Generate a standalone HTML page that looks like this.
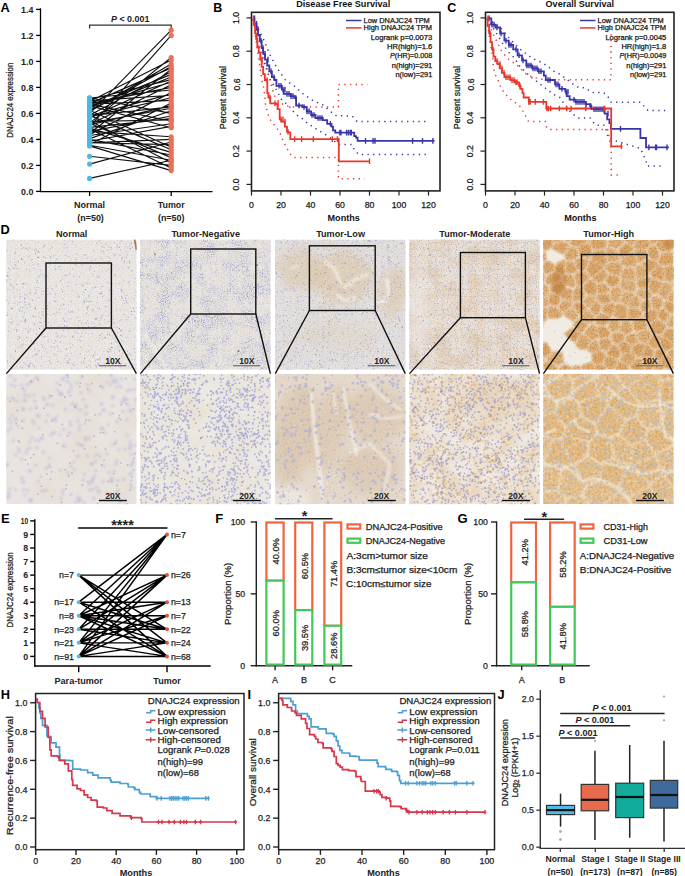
<!DOCTYPE html>
<html><head><meta charset="utf-8"><style>
html,body{margin:0;padding:0;background:#fff;width:685px;height:876px;overflow:hidden}
svg{display:block}
text{font-family:"Liberation Sans",sans-serif}
</style></head><body>
<svg width="685" height="876" viewBox="0 0 685 876">
<defs><filter id="bl3" x="-5%" y="-5%" width="110%" height="110%"><feGaussianBlur stdDeviation="0.35"/></filter><filter id="bl6" x="-5%" y="-5%" width="110%" height="110%"><feGaussianBlur stdDeviation="0.6"/></filter><filter id="bl10" x="-5%" y="-5%" width="110%" height="110%"><feGaussianBlur stdDeviation="1.0"/></filter><filter id="bl20" x="-20%" y="-20%" width="140%" height="140%"><feGaussianBlur stdDeviation="2.0"/></filter><filter id="bl40" x="-30%" y="-30%" width="160%" height="160%"><feGaussianBlur stdDeviation="4.0"/></filter><filter id="gTan" x="0" y="0" width="1" height="1" color-interpolation-filters="sRGB"><feTurbulence type="fractalNoise" baseFrequency="0.85" numOctaves="2" seed="201"/><feColorMatrix type="matrix" values="0 0 0 0 0.784 0 0 0 0 0.627 0 0 0 0 0.471 3.2 0 0 0 -1.760"/></filter><filter id="gLav" x="0" y="0" width="1" height="1" color-interpolation-filters="sRGB"><feTurbulence type="fractalNoise" baseFrequency="0.85" numOctaves="2" seed="202"/><feColorMatrix type="matrix" values="0 0 0 0 0.588 0 0 0 0 0.588 0 0 0 0 0.804 3.2 0 0 0 -1.792"/></filter><filter id="gLavL" x="0" y="0" width="1" height="1" color-interpolation-filters="sRGB"><feTurbulence type="fractalNoise" baseFrequency="0.85" numOctaves="2" seed="203"/><feColorMatrix type="matrix" values="0 0 0 0 0.667 0 0 0 0 0.675 0 0 0 0 0.843 2.8 0 0 0 -1.456"/></filter><filter id="gWhite" x="0" y="0" width="1" height="1" color-interpolation-filters="sRGB"><feTurbulence type="fractalNoise" baseFrequency="0.6" numOctaves="2" seed="204"/><feColorMatrix type="matrix" values="0 0 0 0 0.980 0 0 0 0 0.973 0 0 0 0 0.961 2.4 0 0 0 -1.200"/></filter><clipPath id="c00"><rect x="6.1" y="239.5" width="130.6" height="130.2"/></clipPath><clipPath id="c01"><rect x="6.1" y="374.0" width="130.6" height="130.2"/></clipPath><filter id="m0b" x="0" y="0" width="1" height="1" color-interpolation-filters="sRGB"><feTurbulence type="fractalNoise" baseFrequency="0.03" numOctaves="3" seed="12"/><feColorMatrix type="matrix" values="0 0 0 0 0.871 0 0 0 0 0.804 0 0 0 0 0.737 0.7 0 0 0 -0.28"/></filter><clipPath id="c10"><rect x="140.1" y="239.5" width="130.6" height="130.2"/></clipPath><filter id="p1a" x="0" y="0" width="1" height="1" color-interpolation-filters="sRGB"><feTurbulence type="fractalNoise" baseFrequency="0.8" numOctaves="2" seed="301" result="f"/><feColorMatrix in="f" type="matrix" values="0 0 0 0 0.588 0 0 0 0 0.608 0 0 0 0 0.839 3.0 0 0 0 -1.380" result="fa"/><feTurbulence type="fractalNoise" baseFrequency="0.07" numOctaves="2" seed="302" result="m"/><feColorMatrix in="m" type="matrix" values="0 0 0 0 0 0 0 0 0 0 0 0 0 0 0 4.0 0 0 0 -1.600" result="ma"/><feComposite in="fa" in2="ma" operator="in"/></filter><clipPath id="c11"><rect x="140.1" y="374.0" width="130.6" height="130.2"/></clipPath><filter id="m1b" x="0" y="0" width="1" height="1" color-interpolation-filters="sRGB"><feTurbulence type="fractalNoise" baseFrequency="0.04" numOctaves="2" seed="14"/><feColorMatrix type="matrix" values="0 0 0 0 0.902 0 0 0 0 0.863 0 0 0 0 0.784 1.2 0 0 0 -0.4"/></filter><clipPath id="c20"><rect x="275.0" y="239.5" width="130.6" height="130.2"/></clipPath><filter id="p2a" x="0" y="0" width="1" height="1" color-interpolation-filters="sRGB"><feTurbulence type="fractalNoise" baseFrequency="0.8" numOctaves="2" seed="311" result="f"/><feColorMatrix in="f" type="matrix" values="0 0 0 0 0.804 0 0 0 0 0.667 0 0 0 0 0.510 3.0 0 0 0 -1.500" result="fa"/><feTurbulence type="fractalNoise" baseFrequency="0.05" numOctaves="2" seed="312" result="m"/><feColorMatrix in="m" type="matrix" values="0 0 0 0 0 0 0 0 0 0 0 0 0 0 0 3.0 0 0 0 -1.500" result="ma"/><feComposite in="fa" in2="ma" operator="in"/></filter><clipPath id="c21"><rect x="275.0" y="374.0" width="130.6" height="130.2"/></clipPath><filter id="p2b" x="0" y="0" width="1" height="1" color-interpolation-filters="sRGB"><feTurbulence type="fractalNoise" baseFrequency="0.45" numOctaves="2" seed="321" result="f"/><feColorMatrix in="f" type="matrix" values="0 0 0 0 0.784 0 0 0 0 0.647 0 0 0 0 0.510 2.6 0 0 0 -1.300" result="fa"/><feTurbulence type="fractalNoise" baseFrequency="0.04" numOctaves="2" seed="322" result="m"/><feColorMatrix in="m" type="matrix" values="0 0 0 0 0 0 0 0 0 0 0 0 0 0 0 3.0 0 0 0 -1.350" result="ma"/><feComposite in="fa" in2="ma" operator="in"/></filter><clipPath id="c30"><rect x="409.2" y="239.5" width="130.6" height="130.2"/></clipPath><filter id="m3a" x="0" y="0" width="1" height="1" color-interpolation-filters="sRGB"><feTurbulence type="fractalNoise" baseFrequency="0.06" numOctaves="2" seed="17"/><feColorMatrix type="matrix" values="0 0 0 0 0.855 0 0 0 0 0.737 0 0 0 0 0.588 1.2 0 0 0 -0.45"/></filter><filter id="gTan2" x="0" y="0" width="1" height="1" color-interpolation-filters="sRGB"><feTurbulence type="fractalNoise" baseFrequency="0.85" numOctaves="2" seed="205"/><feColorMatrix type="matrix" values="0 0 0 0 0.831 0 0 0 0 0.675 0 0 0 0 0.478 3.2 0 0 0 -1.760"/></filter><clipPath id="c31"><rect x="409.2" y="374.0" width="130.6" height="130.2"/></clipPath><filter id="m3b" x="0" y="0" width="1" height="1" color-interpolation-filters="sRGB"><feTurbulence type="fractalNoise" baseFrequency="0.05" numOctaves="2" seed="18"/><feColorMatrix type="matrix" values="0 0 0 0 0.894 0 0 0 0 0.765 0 0 0 0 0.588 1.0 0 0 0 -0.35"/></filter><filter id="p3b" x="0" y="0" width="1" height="1" color-interpolation-filters="sRGB"><feTurbulence type="fractalNoise" baseFrequency="0.3" numOctaves="2" seed="331" result="f"/><feColorMatrix in="f" type="matrix" values="0 0 0 0 0.855 0 0 0 0 0.675 0 0 0 0 0.439 3.2 0 0 0 -1.600" result="fa"/><feTurbulence type="fractalNoise" baseFrequency="0.04" numOctaves="2" seed="332" result="m"/><feColorMatrix in="m" type="matrix" values="0 0 0 0 0 0 0 0 0 0 0 0 0 0 0 2.2 0 0 0 -0.660" result="ma"/><feComposite in="fa" in2="ma" operator="in"/></filter><clipPath id="c40"><rect x="543.1" y="239.5" width="130.6" height="130.2"/></clipPath><filter id="k40b" x="-5%" y="-5%" width="110%" height="110%"><feGaussianBlur stdDeviation="1.0"/></filter><mask id="k40" maskUnits="userSpaceOnUse" x="543.1" y="239.5" width="130.6" height="130.2"><rect x="543.1" y="239.5" width="130.6" height="130.2" fill="#000"/><g filter="url(#k40b)"><path d="M617.3,234.6L603.0,144.3L601.5,159.2L605.7,236.7L607.8,239.0ZM572.4,307.2L578.4,315.2L578.2,317.2L572.6,320.9L563.8,315.4L563.6,314.0ZM563.8,362.8L558.3,365.8L546.5,359.7L546.9,359.2L552.6,351.8L559.7,351.2L562.5,352.9ZM612.6,317.5L607.8,325.5L611.8,332.6L619.0,330.2L620.4,321.5L612.8,317.7ZM588.8,324.1L593.6,322.8L594.1,316.6L588.2,309.8L588.0,309.7L579.9,315.3L579.6,317.4ZM545.0,275.4L544.2,281.7L539.0,283.0L526.0,275.1L539.4,267.3L540.1,267.8ZM541.9,340.9L540.4,329.3L501.6,333.3L539.8,342.7ZM607.8,247.1L605.6,249.7L607.9,262.3L619.4,260.9L619.8,259.2L616.8,250.8ZM623.1,290.3L634.6,292.0L636.2,288.2L635.1,281.4L621.2,280.2L619.5,285.1ZM651.2,371.6L662.7,374.8L664.8,372.8L665.3,369.7L658.6,361.7L656.8,361.7ZM671.2,282.8L679.2,276.2L721.6,280.9L682.7,292.9L673.6,288.5ZM577.3,365.3L572.4,366.8L572.4,374.2L582.6,382.2L586.2,376.2L580.1,366.0ZM544.0,322.5L542.9,326.0L540.6,328.6L501.5,333.1L465.1,331.6L534.5,314.9ZM623.2,291.6L634.7,292.9L634.7,293.6L627.0,305.0L620.1,302.3ZM650.7,372.5L662.4,376.1L655.0,405.3L649.0,373.2ZM666.9,322.9L670.5,315.5L676.6,314.0L679.7,321.5L676.4,328.1L667.8,327.1ZM623.9,267.7L633.8,268.0L635.5,279.4L635.3,280.6L621.5,279.5L620.5,276.9ZM676.5,344.3L679.0,331.8L709.6,337.7L679.1,345.5ZM669.3,237.9L673.6,249.4L686.1,245.1L679.3,236.3L670.6,236.3ZM622.0,291.1L618.9,301.7L615.8,303.2L613.1,301.6L609.5,293.4L611.4,288.5L618.6,286.1ZM624.3,242.6L617.3,249.1L608.1,246.1L608.4,240.2L617.3,236.6L621.4,238.0ZM664.7,299.8L665.9,299.5L672.2,288.9L670.2,283.2L664.4,282.2L663.6,282.3L657.5,294.5ZM546.0,251.9L541.0,249.5L531.6,256.5L539.6,265.9L540.3,265.8L546.2,259.6ZM653.0,295.1L647.5,289.4L638.1,289.2L636.0,292.7L635.9,293.3L641.5,299.3L649.7,298.6ZM645.7,343.7L639.1,341.4L636.5,332.9L647.9,328.9L651.6,334.4L646.4,343.2ZM547.6,295.3L537.6,296.9L534.9,291.2L539.6,284.6L544.7,283.4L547.9,286.8L548.9,292.2ZM683.2,293.5L678.7,304.0L680.9,308.4L770.4,315.1L1146.8,319.1L3599.1,286.2L858.0,269.3L722.9,280.9ZM595.5,296.5L586.9,295.5L582.5,301.5L588.2,308.3L588.4,308.1L595.6,299.8ZM550.2,233.1L561.6,232.7L563.9,240.4L553.8,243.0ZM649.2,275.0L649.4,273.1L640.8,264.9L638.9,264.6L635.0,267.7L636.6,279.4ZM547.6,296.4L537.7,297.9L536.2,302.3L538.6,307.1L547.1,306.4L548.4,305.5ZM564.7,382.4L502.0,5781.1L583.0,384.4L571.9,375.0ZM592.8,205.2L581.1,233.5L575.8,233.4L567.6,221.4L595.5,-477.6L605.2,67.7L602.7,142.3L601.2,157.4Z" fill="rgb(216,216,216)" stroke="none"/><path d="M657.4,260.9L659.6,252.8L654.5,245.0L652.6,245.4L647.8,249.8L648.8,257.7ZM565.6,273.1L566.8,260.9L573.3,262.4L577.7,270.4L573.7,273.8ZM654.7,349.2L659.7,347.1L660.6,336.0L660.3,336.3L652.7,334.8L647.4,343.7ZM638.9,308.7L628.2,307.4L628.2,318.5L631.2,320.0L642.1,316.5L642.3,313.6ZM606.4,246.0L604.5,248.7L593.7,249.6L588.8,242.6L594.7,237.4L604.9,238.4L606.8,240.4ZM649.3,328.1L652.7,333.6L660.8,335.0L666.4,327.6L664.9,323.6L657.6,319.6L648.9,324.6ZM652.5,243.6L642.7,235.3L652.3,221.1L659.2,237.8L654.5,243.6ZM547.1,260.4L540.9,266.9L546.1,274.4L554.2,270.8L554.0,263.9ZM652.7,277.4L650.9,275.3L650.7,273.4L658.5,264.8L663.3,267.3L663.9,280.9L662.7,280.7ZM586.6,242.2L577.1,247.2L569.6,244.6L569.1,243.3L575.9,235.2L580.8,234.6ZM647.2,258.1L646.6,250.3L634.9,250.3L634.8,251.3L638.6,263.1L640.7,262.7ZM556.1,372.8L548.4,377.0L542.5,365.6L546.1,360.4L557.8,367.0ZM538.1,283.7L524.4,275.3L255.7,284.0L532.8,291.3ZM551.5,248.7L554.1,244.0L564.2,241.7L567.6,243.8L568.4,245.0L563.8,254.8ZM614.2,370.8L615.4,373.0L623.3,375.3L628.7,368.7L628.8,366.4L619.1,361.0ZM603.4,363.1L607.0,356.1L618.1,360.3L618.2,360.7L613.2,369.8L608.6,369.4ZM655.2,244.3L660.3,238.5L668.0,238.3L672.4,249.5L671.9,251.1L661.2,252.1ZM572.2,300.5L572.3,289.1L566.4,288.1L560.6,294.9L562.2,298.5ZM601.3,312.9L595.8,317.0L595.1,322.9L597.8,325.1L606.1,325.2L611.8,316.9ZM667.7,352.4L674.7,345.5L675.9,345.3L678.2,346.5L680.3,355.7L675.5,361.7L674.7,361.7L667.6,354.0ZM665.0,280.4L670.5,281.8L677.7,275.3L673.2,265.1L664.2,267.2ZM625.4,242.3L632.5,244.9L638.1,236.0L630.7,228.3L623.1,237.5ZM582.5,332.6L588.1,325.2L579.1,318.3L573.6,322.5L573.8,326.8L581.2,332.9ZM601.7,349.6L605.4,351.6L612.2,343.9L609.4,338.1L599.1,339.5L598.8,339.9ZM546.7,275.9L545.6,282.2L549.3,285.3L560.6,280.4L561.2,276.0L554.9,272.2ZM601.3,305.5L596.4,300.4L589.4,308.9L595.3,315.9L600.5,311.7ZM549.3,231.9L547.7,230.2L591.9,-1433.5L595.4,-477.5L567.4,221.6L562.2,231.5ZM619.6,303.5L626.6,306.1L627.0,307.5L626.9,318.5L621.5,320.2L613.5,316.1L616.2,304.2ZM557.7,307.8L549.6,306.4L548.4,307.4L549.1,318.6L558.2,318.4L562.3,315.2L562.2,313.8ZM555.6,263.8L555.7,271.1L562.2,274.5L564.6,272.9L565.8,261.3L564.2,259.5ZM653.8,294.1L648.8,288.5L651.9,278.6L662.7,282.2L656.4,293.9ZM659.1,263.8L664.0,266.1L672.6,263.9L674.4,261.4L672.0,252.3L661.2,253.7L658.3,261.5ZM597.4,282.8L591.7,278.1L604.0,268.3L606.9,273.9L604.3,281.6ZM574.5,261.6L578.5,270.2L585.6,270.3L589.2,259.8L589.1,259.8L579.5,257.7ZM681.4,321.5L677.7,328.9L678.8,330.9L711.4,337.5L1146.3,320.0L770.0,315.7ZM624.4,340.1L617.5,344.4L613.6,343.1L611.0,337.4L612.1,333.9L619.1,331.8L624.9,336.2ZM634.6,330.9L631.8,321.3L642.6,317.4L647.5,324.5L647.4,328.0L636.0,331.7ZM650.3,308.4L643.6,312.4L640.0,307.8L641.8,300.9L649.9,299.7ZM631.5,346.0L625.8,340.0L626.4,336.3L633.4,332.8L635.0,333.1L637.9,341.7Z" fill="rgb(242,242,242)" stroke="none"/><path d="M640.8,359.0L644.5,371.2L638.4,374.5L630.5,368.2L630.1,366.1L637.3,358.8L640.5,358.8ZM603.7,267.6L591.0,277.4L590.8,277.3L586.8,271.1L590.3,259.9L603.8,266.6ZM647.8,287.9L637.9,287.8L636.6,281.1L637.4,280.2L649.5,275.9L651.2,278.2ZM574.7,342.8L563.7,333.9L572.7,327.4L580.7,334.0ZM625.3,243.6L632.4,246.1L633.3,249.7L633.1,250.5L620.9,259.2L618.4,250.0ZM682.0,356.5L747.3,366.4L684.1,371.0L676.5,362.7ZM604.1,265.9L590.7,259.2L590.6,259.2L593.7,251.0L604.3,250.0L607.1,262.5ZM544.9,359.9L545.1,359.5L537.9,353.4L500.6,358.9L532.2,367.4L540.9,364.8ZM722.2,279.9L855.7,269.2L734.5,256.5L676.0,261.6L674.7,264.5L679.2,275.4ZM560.8,299.1L558.8,295.7L550.3,293.2L548.6,296.2L549.7,305.0L557.6,306.0ZM588.1,243.1L587.3,242.9L577.9,247.8L579.8,256.3L589.7,258.6L592.3,250.2ZM592.2,361.1L595.3,364.3L602.4,362.6L605.7,355.4L605.0,352.9L601.1,351.3L591.7,354.3ZM663.7,307.5L670.3,313.8L676.2,312.5L678.9,308.2L677.0,304.5L666.6,301.0L665.3,301.3ZM550.5,248.2L552.7,243.6L549.0,233.2L547.5,232.0L541.9,235.5L540.1,244.0L541.5,248.0L546.5,250.6ZM654.5,357.3L656.8,360.4L658.5,360.6L666.1,354.2L666.0,352.6L660.0,348.4L655.1,350.7ZM563.1,232.6L567.4,223.0L574.7,234.1L568.3,242.4L565.1,239.9ZM631.6,398.2L623.9,376.2L629.8,369.2L638.0,375.6ZM618.2,284.4L619.8,280.0L619.2,277.5L608.1,273.9L605.8,282.1L611.2,287.3ZM645.3,344.6L638.3,343.0L632.0,347.0L631.9,351.0L637.3,357.1L640.6,357.2ZM658.0,264.1L650.1,272.8L641.2,263.9L648.7,259.4L657.1,261.8ZM596.2,294.2L595.5,295.3L586.7,294.0L582.8,286.7L590.5,278.8L590.7,279.1L596.4,284.0ZM612.5,303.0L602.6,305.5L602.4,312.0L612.1,316.0L612.3,316.1L615.3,304.2ZM661.3,336.1L674.2,344.7L666.6,351.6L660.6,347.4ZM734.0,256.0L675.8,260.9L673.4,251.7L674.2,250.2L687.2,246.1ZM630.9,346.8L630.6,350.7L621.8,353.9L618.1,345.3L625.1,340.9ZM550.6,292.2L549.6,286.5L561.3,281.3L565.6,287.0L559.2,294.0ZM653.0,358.7L655.8,361.4L650.3,371.3L648.6,371.7L645.6,370.9L642.1,358.9ZM574.0,302.6L581.0,302.5L587.3,308.8L579.3,314.6L573.5,306.2ZM677.7,313.3L681.2,321.2L768.4,315.1L680.9,308.7ZM661.9,335.5L674.5,344.1L675.8,344.1L677.6,331.3L676.4,329.3L667.6,328.4L661.8,335.5ZM650.8,309.5L644.4,313.8L643.6,316.6L648.5,323.7L657.1,318.6L657.3,311.3ZM618.3,359.1L620.5,354.1L617.0,346.1L613.1,344.6L606.6,352.5L607.0,354.9ZM593.6,206.6L594.0,235.9L605.5,236.8L601.4,159.1ZM622.1,236.5L630.5,226.8L605.6,67.7L603.1,143.8L617.5,234.6ZM543.1,342.2L546.7,343.0L551.4,351.0L545.7,358.3L538.9,352.1L540.6,343.5ZM597.9,326.3L598.7,338.4L609.5,336.6L610.5,333.3L606.4,326.8ZM594.4,373.4L600.2,376.7L607.3,370.2L602.5,363.7L595.5,365.3ZM658.3,311.4L658.4,318.3L665.6,322.5L669.2,314.7L663.0,308.4ZM628.5,835.9L631.1,756.2L631.6,400.1L623.4,376.9L615.0,374.5L607.0,401.5ZM653.0,357.4L641.6,357.7L641.7,357.2L645.9,345.0L646.6,344.5L653.8,350.3ZM666.4,369.2L674.1,362.6L666.7,354.7L659.0,361.2ZM608.0,293.8L597.4,295.4L596.6,296.4L597.2,299.4L602.0,304.1L612.0,301.8Z" fill="rgb(255,255,255)" stroke="none"/><path d="M579.5,349.3L575.9,346.1L576.0,343.7L581.4,334.5L582.9,334.1L590.9,340.5L586.4,349.7ZM619.6,360.2L629.2,365.7L636.3,357.8L630.8,351.6L622.3,355.1L619.4,359.8ZM609.8,287.9L604.6,283.2L597.3,284.0L597.3,294.5L608.2,292.7ZM633.0,331.1L630.1,321.6L627.2,320.0L622.0,321.7L619.9,330.4L625.7,335.3ZM576.5,286.0L574.8,275.0L578.6,271.6L585.5,271.8L589.8,278.1L581.7,285.4ZM547.6,307.5L538.6,308.4L535.8,314.5L544.4,321.7L547.5,318.4ZM607.0,400.0L614.4,373.8L612.9,372.0L608.2,371.4L600.8,377.9ZM565.1,258.2L566.9,259.9L573.1,260.4L578.4,256.8L576.5,248.4L569.2,246.1L564.7,255.4ZM604.9,267.4L608.3,272.8L619.4,276.3L622.6,266.9L619.6,261.9L608.2,263.5L605.0,266.4ZM651.7,307.9L651.0,299.4L654.0,295.8L656.7,296.1L663.5,300.9L662.1,306.8L657.7,310.4ZM666.5,373.2L676.9,379.3L682.8,371.3L675.4,363.6L674.6,363.3L667.0,369.8ZM673.2,289.9L666.5,300.0L677.7,303.3L681.5,293.9ZM592.7,207.0L582.1,233.9L587.5,241.6L588.4,241.4L593.2,236.0ZM634.8,249.3L633.7,245.5L639.3,236.3L642.0,235.8L651.6,244.3L646.9,249.3ZM624.0,266.2L633.7,266.9L637.5,263.5L633.8,251.2L621.6,259.9L620.7,261.5ZM571.4,366.8L571.0,374.0L564.7,380.6L557.3,373.2L559.5,367.4L564.6,364.1ZM660.0,236.9L668.4,236.5L669.9,235.1L706.6,-314.7L652.5,219.7ZM648.5,373.6L654.8,406.9L631.1,755.8L631.8,400.0L638.5,376.1L645.0,372.7ZM583.9,333.4L589.4,325.9L594.0,324.0L596.7,326.7L597.8,338.2L597.5,338.8L591.6,339.9ZM534.3,302.4L-144.6,333.0L332.7,339.6L463.1,331.6L533.9,314.5L537.2,307.7ZM539.4,343.0L537.3,352.3L498.8,358.3L332.8,340.0L464.8,332.3L500.2,333.6ZM581.1,365.6L587.0,376.1L593.3,373.2L594.5,365.2L591.3,362.0ZM573.7,301.6L581.2,300.8L585.2,294.4L581.5,287.1L576.4,287.1L573.8,289.2L573.3,300.6ZM572.7,302.4L571.9,306.0L563.3,313.1L558.7,306.8L562.2,299.7L572.4,301.5ZM541.9,366.0L532.4,368.6L541.7,391.7L547.5,377.9ZM591.4,353.4L600.8,350.3L597.3,340.3L591.8,341.3L587.7,349.9ZM575.6,286.0L573.3,275.5L565.4,274.6L563.0,276.3L562.7,280.7L566.7,285.8L572.5,287.4ZM638.7,307.4L628.7,306.4L627.5,305.6L635.2,294.4L640.3,300.4ZM536.5,297.5L532.9,291.4L254.5,284.0L-2555.9,316.8L-145.5,332.2L534.0,302.3Z" fill="rgb(229,229,229)" stroke="none"/></g></mask><filter id="g40" x="0" y="0" width="1" height="1" color-interpolation-filters="sRGB"><feTurbulence type="fractalNoise" baseFrequency="0.6" numOctaves="2" seed="143"/><feColorMatrix type="matrix" values="0 0 0 0 0.784 0 0 0 0 0.529 0 0 0 0 0.235 3.0 0 0 0 -1.350"/></filter><clipPath id="c41"><rect x="543.1" y="374.0" width="130.6" height="130.2"/></clipPath><filter id="k41b" x="-5%" y="-5%" width="110%" height="110%"><feGaussianBlur stdDeviation="1.3"/></filter><mask id="k41" maskUnits="userSpaceOnUse" x="543.1" y="374.0" width="130.6" height="130.2"><rect x="543.1" y="374.0" width="130.6" height="130.2" fill="#000"/><g filter="url(#k41b)"><path d="M649.2,487.2L628.5,498.2L630.4,503.1L645.9,512.3L655.5,508.6L657.5,502.8ZM574.6,535.6L574.0,637.6L544.6,517.1L562.3,512.3ZM756.3,420.0L943.3,438.2L3653.3,422.1L1102.7,377.6L684.4,380.8L685.3,399.9ZM646.9,371.8L655.9,374.2L660.6,380.4L658.0,399.1L640.7,404.0L628.6,387.6ZM539.0,418.1L533.2,414.9L515.6,428.9L530.1,438.9L541.6,434.1ZM680.2,449.7L674.8,445.0L674.4,439.9L685.0,425.1L755.1,421.1L941.1,438.3L829.9,449.1ZM648.9,486.2L628.2,496.9L619.5,490.7L619.1,487.8L628.5,467.2L631.0,465.6L632.3,466.3L649.2,484.0ZM754.7,419.9L685.1,400.6L672.4,408.0L684.7,424.5ZM678.7,496.7L679.5,497.2L679.5,515.2L668.0,522.1L657.2,509.0L659.4,503.1ZM667.7,408.6L671.3,408.6L683.5,424.8L673.2,438.8L660.3,426.9ZM572.0,379.8L571.9,397.6L557.4,402.4L546.1,389.2L545.7,386.4L551.3,380.4L570.0,378.5ZM685.3,360.1L1100.5,377.5L684.0,380.7L682.2,379.1ZM600.6,464.9L587.4,456.4L574.8,465.3L586.3,485.7L599.4,478.9ZM635.9,351.0L654.8,219.3L618.8,-7409.5L584.5,296.3L612.8,366.3ZM650.0,486.4L659.0,501.7L678.7,495.7L678.2,493.4L663.4,476.4L662.7,476.1L651.2,484.5ZM544.9,385.6L528.1,376.7L531.7,364.5L542.9,360.5L546.9,363.0L550.3,379.4ZM645.0,440.6L654.9,453.9L654.4,456.2L632.8,464.7L631.4,464.5L633.3,445.5Z" fill="rgb(237,237,237)" stroke="none"/><path d="M679.1,466.7L692.1,475.4L829.6,449.3L680.4,450.1ZM600.1,480.3L587.0,486.7L583.5,495.3L592.1,506.5L598.6,508.2L618.0,491.2L617.3,488.6ZM632.3,445.3L630.6,464.3L627.8,465.0L613.8,457.8L611.0,438.1L618.8,435.4ZM539.8,416.6L533.9,413.8L530.3,404.0L545.0,390.1L556.2,403.8L554.0,411.2ZM565.6,498.4L557.3,491.6L540.1,492.3L536.0,502.5L538.8,512.7L544.6,515.7L561.4,511.1ZM582.0,494.7L585.0,485.9L573.5,465.9L571.1,465.2L562.7,470.0L558.6,490.4L566.5,497.6ZM545.5,464.2L534.4,481.2L540.0,490.8L557.3,490.3L561.0,469.7ZM570.2,377.7L565.1,356.3L548.7,362.6L551.1,379.3ZM598.9,394.2L593.9,374.8L612.2,368.9L623.8,387.0L607.1,399.5ZM662.8,474.8L655.8,456.6L656.6,454.2L673.4,445.9L678.7,450.5L677.3,466.3L663.5,474.7ZM542.3,435.2L530.9,440.5L528.6,452.8L544.1,460.1L551.6,440.4ZM624.9,386.1L627.6,387.0L646.1,371.1L635.7,352.3L613.6,367.5L613.3,368.0ZM647.8,428.7L658.9,426.5L666.7,407.7L658.3,400.7L640.9,405.1L636.4,416.7ZM627.0,498.8L619.0,492.1L599.1,508.9L616.0,530.1L628.6,503.3ZM543.9,389.3L529.1,402.6L499.2,389.8L527.6,377.5L544.3,386.5ZM528.3,403.8L532.2,414.3L513.4,429.0L-18846.3,357.1L497.9,389.8ZM590.6,507.6L575.0,534.1L562.9,511.5L567.1,499.1L582.1,496.2Z" fill="rgb(219,219,219)" stroke="none"/><path d="M612.4,458.0L609.8,438.3L597.9,434.8L590.2,442.1L588.4,455.1L601.0,463.5ZM650.1,483.0L633.5,465.6L654.9,457.1L661.9,475.1ZM540.3,418.1L543.2,434.3L552.5,439.4L560.5,437.6L563.3,434.8L564.4,427.2L554.6,412.0ZM581.4,417.0L566.3,427.2L564.5,435.1L589.0,440.9L596.5,433.4L594.4,424.4ZM648.3,430.4L659.4,428.2L672.5,439.9L672.7,444.6L656.2,453.1L646.0,439.5ZM625.6,420.6L607.7,406.6L596.0,424.2L598.6,433.1L610.4,436.4L617.7,433.6ZM626.2,605.9L646.0,514.5L656.2,510.1L667.6,523.4L627.7,732.0ZM646.7,429.9L635.5,417.6L627.1,420.7L619.3,434.2L632.8,444.5L644.6,439.0ZM647.0,369.9L656.2,372.9L672.3,345.8L654.8,221.0L636.3,351.3ZM608.0,400.8L608.3,405.5L626.6,419.2L634.8,415.9L639.5,404.6L627.4,388.6L624.8,388.1ZM612.0,367.2L612.1,366.7L584.7,298.2L579.5,331.5L591.9,372.9L593.4,373.4ZM552.6,440.7L545.3,460.2L545.9,463.1L561.6,468.2L570.3,464.1L560.8,439.2ZM597.6,394.8L578.9,401.9L573.6,397.5L573.6,380.0L591.3,374.6L592.8,375.0ZM627.3,466.3L617.9,487.7L600.7,479.3L601.6,464.9L612.9,459.1ZM543.5,460.9L544.4,463.6L533.3,480.8L498.0,470.6L528.2,454.3ZM597.8,396.1L579.7,402.9L581.9,415.4L595.1,423.1L607.0,405.7L606.6,401.0ZM564.7,436.3L588.4,442.2L586.3,455.2L573.6,464.1L571.3,463.4L561.9,439.1ZM664.6,475.7L678.3,467.5L690.4,476.0L679.0,492.8ZM572.9,378.4L591.0,373.2L578.8,331.5L566.5,356.2L571.0,377.0ZM532.7,481.4L538.7,491.6L534.0,502.5L-16114.5,1552.4L496.1,470.8ZM661.9,381.1L659.1,399.8L667.7,406.4L671.4,407.0L683.2,399.3L682.8,381.3L681.2,379.6ZM625.3,607.3L615.7,532.3L598.6,509.9L591.6,508.1L575.3,536.2L574.8,638.7L609.1,1123.2L627.3,731.4ZM683.9,360.4L681.0,378.6L661.7,379.4L656.8,373.5L673.2,347.7ZM577.7,403.3L572.4,399.3L558.3,404.2L555.3,411.3L565.5,426.1L580.3,415.3ZM625.8,605.8L616.5,531.5L629.2,503.9L645.7,513.8Z" fill="rgb(255,255,255)" stroke="none"/></g></mask><filter id="g41" x="0" y="0" width="1" height="1" color-interpolation-filters="sRGB"><feTurbulence type="fractalNoise" baseFrequency="0.45" numOctaves="2" seed="153"/><feColorMatrix type="matrix" values="0 0 0 0 0.824 0 0 0 0 0.596 0 0 0 0 0.275 3.0 0 0 0 -1.350"/></filter><filter id="g41w" x="0" y="0" width="1" height="1" color-interpolation-filters="sRGB"><feTurbulence type="fractalNoise" baseFrequency="0.3" numOctaves="2" seed="154"/><feColorMatrix type="matrix" values="0 0 0 0 0.961 0 0 0 0 0.933 0 0 0 0 0.882 3.0 0 0 0 -1.650"/></filter></defs>
<text x="0.40" y="11.80" font-size="12.8" text-anchor="start" font-weight="bold" fill="#000">A</text>
<line x1="40.50" y1="8.30" x2="40.50" y2="192.00" stroke="#000" stroke-width="1.3"/>
<line x1="36.10" y1="191.40" x2="40.50" y2="191.40" stroke="#000" stroke-width="1.3"/>
<text x="33.40" y="194.70" font-size="8.9" text-anchor="end" font-weight="bold" fill="#222">0.0</text>
<line x1="36.10" y1="165.40" x2="40.50" y2="165.40" stroke="#000" stroke-width="1.3"/>
<text x="33.40" y="168.70" font-size="8.9" text-anchor="end" font-weight="bold" fill="#222">0.2</text>
<line x1="36.10" y1="139.40" x2="40.50" y2="139.40" stroke="#000" stroke-width="1.3"/>
<text x="33.40" y="142.70" font-size="8.9" text-anchor="end" font-weight="bold" fill="#222">0.4</text>
<line x1="36.10" y1="113.40" x2="40.50" y2="113.40" stroke="#000" stroke-width="1.3"/>
<text x="33.40" y="116.70" font-size="8.9" text-anchor="end" font-weight="bold" fill="#222">0.6</text>
<line x1="36.10" y1="87.40" x2="40.50" y2="87.40" stroke="#000" stroke-width="1.3"/>
<text x="33.40" y="90.70" font-size="8.9" text-anchor="end" font-weight="bold" fill="#222">0.8</text>
<line x1="36.10" y1="61.40" x2="40.50" y2="61.40" stroke="#000" stroke-width="1.3"/>
<text x="33.40" y="64.70" font-size="8.9" text-anchor="end" font-weight="bold" fill="#222">1.0</text>
<line x1="36.10" y1="35.40" x2="40.50" y2="35.40" stroke="#000" stroke-width="1.3"/>
<text x="33.40" y="38.70" font-size="8.9" text-anchor="end" font-weight="bold" fill="#222">1.2</text>
<line x1="36.10" y1="9.40" x2="40.50" y2="9.40" stroke="#000" stroke-width="1.3"/>
<text x="33.40" y="12.70" font-size="8.9" text-anchor="end" font-weight="bold" fill="#222">1.4</text>
<line x1="39.90" y1="191.60" x2="212.50" y2="191.60" stroke="#000" stroke-width="1.4"/>
<line x1="89.60" y1="191.40" x2="89.60" y2="196.00" stroke="#000" stroke-width="1.3"/>
<line x1="171.20" y1="191.40" x2="171.20" y2="196.00" stroke="#000" stroke-width="1.3"/>
<text x="89.50" y="208.00" font-size="9.0" text-anchor="middle" font-weight="bold" fill="#222" textLength="31.1" lengthAdjust="spacingAndGlyphs">Normal</text>
<text x="171.20" y="208.00" font-size="9.0" text-anchor="middle" font-weight="bold" fill="#222" textLength="27.0" lengthAdjust="spacingAndGlyphs">Tumor</text>
<text x="90.60" y="220.60" font-size="9.0" text-anchor="middle" font-weight="bold" fill="#222" textLength="26.5" lengthAdjust="spacingAndGlyphs">(n=50)</text>
<text x="171.20" y="220.60" font-size="9.0" text-anchor="middle" font-weight="bold" fill="#222" textLength="26.5" lengthAdjust="spacingAndGlyphs">(n=50)</text>
<text x="13.20" y="100.20" font-size="8.3" text-anchor="middle" font-weight="normal" fill="#111" textLength="75.0" lengthAdjust="spacingAndGlyphs" transform="rotate(-90 13.2 100.2)" stroke="#222" stroke-width="0.25">DNAJC24 expression</text>
<polyline points="89.60,28.40 89.60,25.10 171.20,25.10 171.20,28.40" fill="none" stroke="#333" stroke-width="1.3"/>
<text x="130.2" y="22.1" font-size="8.7" text-anchor="middle" font-weight="bold" fill="#222" textLength="38.4" lengthAdjust="spacingAndGlyphs"><tspan font-style="italic">P</tspan> &lt; 0.001</text>
<path d="M89.6,178.40L171.2,160.20M89.6,164.10L171.2,142.00M89.6,156.30L171.2,165.40M89.6,145.90L171.2,170.60M89.6,145.27L171.2,160.20M89.6,144.41L171.2,103.00M89.6,142.82L171.2,139.40M89.6,142.75L171.2,144.60M89.6,141.21L171.2,126.40M89.6,139.36L171.2,155.00M89.6,138.66L171.2,110.80M89.6,135.46L171.2,123.80M89.6,134.63L171.2,92.60M89.6,133.43L171.2,69.20M89.6,131.42L171.2,116.00M89.6,131.41L171.2,136.80M89.6,129.02L171.2,168.00M89.6,128.11L171.2,152.40M89.6,127.34L171.2,118.60M89.6,97.80L171.2,113.40M89.6,124.92L171.2,105.60M89.6,124.51L171.2,84.80M89.6,123.28L171.2,157.60M89.6,123.16L171.2,57.50M89.6,122.99L171.2,108.20M89.6,121.50L171.2,119.90M89.6,120.73L171.2,162.80M89.6,117.47L171.2,80.90M89.6,116.85L171.2,97.80M89.6,115.80L171.2,106.90M89.6,115.76L171.2,93.90M89.6,115.36L171.2,149.80M89.6,115.16L171.2,71.80M89.6,111.55L171.2,66.60M89.6,113.61L171.2,30.20M89.6,111.32L171.2,64.00M89.6,110.25L171.2,147.20M89.6,109.43L171.2,77.00M89.6,107.38L171.2,74.40M89.6,105.67L171.2,127.70M89.6,105.62L171.2,82.20M89.6,104.27L171.2,100.40M89.6,104.15L171.2,121.20M89.6,103.63L171.2,87.40M89.6,103.63L171.2,67.90M89.6,101.60L171.2,60.10M89.6,100.90L171.2,95.20M89.6,99.46L171.2,79.60M89.6,98.01L171.2,90.00M89.6,126.90L171.2,35.40" stroke="#111" stroke-width="1.15" fill="none"/>
<circle cx="89.6" cy="178.40" r="2.6" fill="#4db8e0"/>
<circle cx="171.2" cy="160.20" r="2.6" fill="#ea7155"/>
<circle cx="89.6" cy="164.10" r="2.6" fill="#4db8e0"/>
<circle cx="171.2" cy="142.00" r="2.6" fill="#ea7155"/>
<circle cx="89.6" cy="156.30" r="2.6" fill="#4db8e0"/>
<circle cx="171.2" cy="165.40" r="2.6" fill="#ea7155"/>
<circle cx="89.6" cy="145.90" r="2.6" fill="#4db8e0"/>
<circle cx="171.2" cy="170.60" r="2.6" fill="#ea7155"/>
<circle cx="89.6" cy="145.27" r="2.6" fill="#4db8e0"/>
<circle cx="171.2" cy="160.20" r="2.6" fill="#ea7155"/>
<circle cx="89.6" cy="144.41" r="2.6" fill="#4db8e0"/>
<circle cx="171.2" cy="103.00" r="2.6" fill="#ea7155"/>
<circle cx="89.6" cy="142.82" r="2.6" fill="#4db8e0"/>
<circle cx="171.2" cy="139.40" r="2.6" fill="#ea7155"/>
<circle cx="89.6" cy="142.75" r="2.6" fill="#4db8e0"/>
<circle cx="171.2" cy="144.60" r="2.6" fill="#ea7155"/>
<circle cx="89.6" cy="141.21" r="2.6" fill="#4db8e0"/>
<circle cx="171.2" cy="126.40" r="2.6" fill="#ea7155"/>
<circle cx="89.6" cy="139.36" r="2.6" fill="#4db8e0"/>
<circle cx="171.2" cy="155.00" r="2.6" fill="#ea7155"/>
<circle cx="89.6" cy="138.66" r="2.6" fill="#4db8e0"/>
<circle cx="171.2" cy="110.80" r="2.6" fill="#ea7155"/>
<circle cx="89.6" cy="135.46" r="2.6" fill="#4db8e0"/>
<circle cx="171.2" cy="123.80" r="2.6" fill="#ea7155"/>
<circle cx="89.6" cy="134.63" r="2.6" fill="#4db8e0"/>
<circle cx="171.2" cy="92.60" r="2.6" fill="#ea7155"/>
<circle cx="89.6" cy="133.43" r="2.6" fill="#4db8e0"/>
<circle cx="171.2" cy="69.20" r="2.6" fill="#ea7155"/>
<circle cx="89.6" cy="131.42" r="2.6" fill="#4db8e0"/>
<circle cx="171.2" cy="116.00" r="2.6" fill="#ea7155"/>
<circle cx="89.6" cy="131.41" r="2.6" fill="#4db8e0"/>
<circle cx="171.2" cy="136.80" r="2.6" fill="#ea7155"/>
<circle cx="89.6" cy="129.02" r="2.6" fill="#4db8e0"/>
<circle cx="171.2" cy="168.00" r="2.6" fill="#ea7155"/>
<circle cx="89.6" cy="128.11" r="2.6" fill="#4db8e0"/>
<circle cx="171.2" cy="152.40" r="2.6" fill="#ea7155"/>
<circle cx="89.6" cy="127.34" r="2.6" fill="#4db8e0"/>
<circle cx="171.2" cy="118.60" r="2.6" fill="#ea7155"/>
<circle cx="89.6" cy="97.80" r="2.6" fill="#4db8e0"/>
<circle cx="171.2" cy="113.40" r="2.6" fill="#ea7155"/>
<circle cx="89.6" cy="124.92" r="2.6" fill="#4db8e0"/>
<circle cx="171.2" cy="105.60" r="2.6" fill="#ea7155"/>
<circle cx="89.6" cy="124.51" r="2.6" fill="#4db8e0"/>
<circle cx="171.2" cy="84.80" r="2.6" fill="#ea7155"/>
<circle cx="89.6" cy="123.28" r="2.6" fill="#4db8e0"/>
<circle cx="171.2" cy="157.60" r="2.6" fill="#ea7155"/>
<circle cx="89.6" cy="123.16" r="2.6" fill="#4db8e0"/>
<circle cx="171.2" cy="57.50" r="2.6" fill="#ea7155"/>
<circle cx="89.6" cy="122.99" r="2.6" fill="#4db8e0"/>
<circle cx="171.2" cy="108.20" r="2.6" fill="#ea7155"/>
<circle cx="89.6" cy="121.50" r="2.6" fill="#4db8e0"/>
<circle cx="171.2" cy="119.90" r="2.6" fill="#ea7155"/>
<circle cx="89.6" cy="120.73" r="2.6" fill="#4db8e0"/>
<circle cx="171.2" cy="162.80" r="2.6" fill="#ea7155"/>
<circle cx="89.6" cy="117.47" r="2.6" fill="#4db8e0"/>
<circle cx="171.2" cy="80.90" r="2.6" fill="#ea7155"/>
<circle cx="89.6" cy="116.85" r="2.6" fill="#4db8e0"/>
<circle cx="171.2" cy="97.80" r="2.6" fill="#ea7155"/>
<circle cx="89.6" cy="115.80" r="2.6" fill="#4db8e0"/>
<circle cx="171.2" cy="106.90" r="2.6" fill="#ea7155"/>
<circle cx="89.6" cy="115.76" r="2.6" fill="#4db8e0"/>
<circle cx="171.2" cy="93.90" r="2.6" fill="#ea7155"/>
<circle cx="89.6" cy="115.36" r="2.6" fill="#4db8e0"/>
<circle cx="171.2" cy="149.80" r="2.6" fill="#ea7155"/>
<circle cx="89.6" cy="115.16" r="2.6" fill="#4db8e0"/>
<circle cx="171.2" cy="71.80" r="2.6" fill="#ea7155"/>
<circle cx="89.6" cy="111.55" r="2.6" fill="#4db8e0"/>
<circle cx="171.2" cy="66.60" r="2.6" fill="#ea7155"/>
<circle cx="89.6" cy="113.61" r="2.6" fill="#4db8e0"/>
<circle cx="171.2" cy="30.20" r="2.6" fill="#ea7155"/>
<circle cx="89.6" cy="111.32" r="2.6" fill="#4db8e0"/>
<circle cx="171.2" cy="64.00" r="2.6" fill="#ea7155"/>
<circle cx="89.6" cy="110.25" r="2.6" fill="#4db8e0"/>
<circle cx="171.2" cy="147.20" r="2.6" fill="#ea7155"/>
<circle cx="89.6" cy="109.43" r="2.6" fill="#4db8e0"/>
<circle cx="171.2" cy="77.00" r="2.6" fill="#ea7155"/>
<circle cx="89.6" cy="107.38" r="2.6" fill="#4db8e0"/>
<circle cx="171.2" cy="74.40" r="2.6" fill="#ea7155"/>
<circle cx="89.6" cy="105.67" r="2.6" fill="#4db8e0"/>
<circle cx="171.2" cy="127.70" r="2.6" fill="#ea7155"/>
<circle cx="89.6" cy="105.62" r="2.6" fill="#4db8e0"/>
<circle cx="171.2" cy="82.20" r="2.6" fill="#ea7155"/>
<circle cx="89.6" cy="104.27" r="2.6" fill="#4db8e0"/>
<circle cx="171.2" cy="100.40" r="2.6" fill="#ea7155"/>
<circle cx="89.6" cy="104.15" r="2.6" fill="#4db8e0"/>
<circle cx="171.2" cy="121.20" r="2.6" fill="#ea7155"/>
<circle cx="89.6" cy="103.63" r="2.6" fill="#4db8e0"/>
<circle cx="171.2" cy="87.40" r="2.6" fill="#ea7155"/>
<circle cx="89.6" cy="103.63" r="2.6" fill="#4db8e0"/>
<circle cx="171.2" cy="67.90" r="2.6" fill="#ea7155"/>
<circle cx="89.6" cy="101.60" r="2.6" fill="#4db8e0"/>
<circle cx="171.2" cy="60.10" r="2.6" fill="#ea7155"/>
<circle cx="89.6" cy="100.90" r="2.6" fill="#4db8e0"/>
<circle cx="171.2" cy="95.20" r="2.6" fill="#ea7155"/>
<circle cx="89.6" cy="99.46" r="2.6" fill="#4db8e0"/>
<circle cx="171.2" cy="79.60" r="2.6" fill="#ea7155"/>
<circle cx="89.6" cy="98.01" r="2.6" fill="#4db8e0"/>
<circle cx="171.2" cy="90.00" r="2.6" fill="#ea7155"/>
<circle cx="89.6" cy="126.90" r="2.6" fill="#4db8e0"/>
<circle cx="171.2" cy="35.40" r="2.6" fill="#ea7155"/>
<text x="213.20" y="12.20" font-size="12.5" text-anchor="start" font-weight="bold" fill="#000">B</text>
<text x="343.20" y="6.90" font-size="9.1" text-anchor="middle" font-weight="bold" fill="#111" textLength="94.0" lengthAdjust="spacingAndGlyphs">Disease Free Survival</text>
<rect x="251.50" y="12.3" width="188.50" height="178.60" fill="none" stroke="#222" stroke-width="1.6"/>
<line x1="246.50" y1="184.40" x2="251.50" y2="184.40" stroke="#222" stroke-width="1.2"/>
<text x="239.50" y="184.40" font-size="8.7" text-anchor="middle" font-weight="normal" fill="#111" transform="rotate(-90 239.5 184.4)" stroke="#222" stroke-width="0.25">0.0</text>
<line x1="246.50" y1="151.10" x2="251.50" y2="151.10" stroke="#222" stroke-width="1.2"/>
<text x="239.50" y="151.10" font-size="8.7" text-anchor="middle" font-weight="normal" fill="#111" transform="rotate(-90 239.5 151.10000000000002)" stroke="#222" stroke-width="0.25">0.2</text>
<line x1="246.50" y1="117.80" x2="251.50" y2="117.80" stroke="#222" stroke-width="1.2"/>
<text x="239.50" y="117.80" font-size="8.7" text-anchor="middle" font-weight="normal" fill="#111" transform="rotate(-90 239.5 117.80000000000001)" stroke="#222" stroke-width="0.25">0.4</text>
<line x1="246.50" y1="84.50" x2="251.50" y2="84.50" stroke="#222" stroke-width="1.2"/>
<text x="239.50" y="84.50" font-size="8.7" text-anchor="middle" font-weight="normal" fill="#111" transform="rotate(-90 239.5 84.50000000000001)" stroke="#222" stroke-width="0.25">0.6</text>
<line x1="246.50" y1="51.20" x2="251.50" y2="51.20" stroke="#222" stroke-width="1.2"/>
<text x="239.50" y="51.20" font-size="8.7" text-anchor="middle" font-weight="normal" fill="#111" transform="rotate(-90 239.5 51.20000000000002)" stroke="#222" stroke-width="0.25">0.8</text>
<line x1="246.50" y1="17.90" x2="251.50" y2="17.90" stroke="#222" stroke-width="1.2"/>
<text x="239.50" y="17.90" font-size="8.7" text-anchor="middle" font-weight="normal" fill="#111" transform="rotate(-90 239.5 17.900000000000006)" stroke="#222" stroke-width="0.25">1.0</text>
<line x1="251.50" y1="190.90" x2="251.50" y2="195.60" stroke="#222" stroke-width="1.2"/>
<text x="251.50" y="207.50" font-size="8.7" text-anchor="middle" font-weight="normal" fill="#111" stroke="#222" stroke-width="0.25">0</text>
<line x1="281.00" y1="190.90" x2="281.00" y2="195.60" stroke="#222" stroke-width="1.2"/>
<text x="281.00" y="207.50" font-size="8.7" text-anchor="middle" font-weight="normal" fill="#111" stroke="#222" stroke-width="0.25">20</text>
<line x1="310.50" y1="190.90" x2="310.50" y2="195.60" stroke="#222" stroke-width="1.2"/>
<text x="310.50" y="207.50" font-size="8.7" text-anchor="middle" font-weight="normal" fill="#111" stroke="#222" stroke-width="0.25">40</text>
<line x1="340.00" y1="190.90" x2="340.00" y2="195.60" stroke="#222" stroke-width="1.2"/>
<text x="340.00" y="207.50" font-size="8.7" text-anchor="middle" font-weight="normal" fill="#111" stroke="#222" stroke-width="0.25">60</text>
<line x1="369.50" y1="190.90" x2="369.50" y2="195.60" stroke="#222" stroke-width="1.2"/>
<text x="369.50" y="207.50" font-size="8.7" text-anchor="middle" font-weight="normal" fill="#111" stroke="#222" stroke-width="0.25">80</text>
<line x1="399.00" y1="190.90" x2="399.00" y2="195.60" stroke="#222" stroke-width="1.2"/>
<text x="399.00" y="207.50" font-size="8.7" text-anchor="middle" font-weight="normal" fill="#111" stroke="#222" stroke-width="0.25">100</text>
<line x1="428.50" y1="190.90" x2="428.50" y2="195.60" stroke="#222" stroke-width="1.2"/>
<text x="428.50" y="207.50" font-size="8.7" text-anchor="middle" font-weight="normal" fill="#111" stroke="#222" stroke-width="0.25">120</text>
<text x="343.70" y="221.20" font-size="9.1" text-anchor="middle" font-weight="bold" fill="#111">Months</text>
<text x="226.00" y="97.70" font-size="8.9" text-anchor="middle" font-weight="normal" fill="#111" transform="rotate(-90 226.0 97.7)" stroke="#222" stroke-width="0.25">Percent survival</text>
<path d="M252.90,18.80L263.00,38.00L270.00,55.00L277.00,68.00L285.50,80.00L295.00,86.60L303.80,94.60L314.00,101.20L322.80,104.80L328.60,110.00L335.90,115.60L352.30,116.10L355.10,119.00L357.00,121.40L428.20,121.40" fill="none" stroke="#3a35a8" stroke-width="1.5" stroke-dasharray="1.3 4.4"/>
<path d="M252.90,18.80L258.80,46.50L264.60,64.00L270.40,80.10L276.30,89.60L281.20,99.00L289.20,106.30L295.00,113.60L302.30,118.70L308.20,123.80L318.40,130.40L327.20,135.50L334.50,141.30L339.00,144.60L352.30,144.60L354.20,149.70L358.90,154.50L430.00,154.50" fill="none" stroke="#3a35a8" stroke-width="1.5" stroke-dasharray="1.3 4.4"/>
<path d="M252.90,18.80L258.00,35.00L262.00,50.00L266.00,65.00L270.00,80.00L274.00,95.00L280.00,103.00L290.00,107.00L338.40,107.00L338.40,84.40L367.40,84.40" fill="none" stroke="#e8382c" stroke-width="1.5" stroke-dasharray="1.3 4.4"/>
<path d="M252.90,18.80L256.00,40.00L258.80,59.60L261.70,78.60L263.90,88.80L265.80,106.30L268.80,116.50L271.70,122.30L276.10,126.70L280.40,134.00L283.40,141.30L287.00,148.60L290.70,154.50L293.60,157.40L338.40,157.40L338.40,178.70L364.60,178.70" fill="none" stroke="#e8382c" stroke-width="1.5" stroke-dasharray="1.3 4.4"/>
<path d="M252.90,18.40H254.35V23.90H255.80H256.55V29.00H257.30H258.05V34.80H258.80H259.85V40.70H260.90H261.65V48.00H262.40H263.15V53.80H263.90H265.00V59.60H266.10H267.15V65.50H268.20H269.30V71.30H270.40H271.90V77.20H273.40H274.35V80.00H275.30H276.40V85.80H277.50H281.90V89.50H283.70V93.90H285.50H290.70V96.10H295.00V98.20H296.10V105.50H297.20H302.30V107.00H306.70V111.40H311.10V115.00H315.50V118.00H322.80V120.10H327.20V123.80H331.50V126.70H333.00V130.40H334.50H335.20V132.60H335.90H353.40V132.60H354.15V136.20H354.90H356.00V137.70H357.10H357.60V140.90H358.10H434.50V140.90" fill="none" stroke="#3a35a8" stroke-width="1.8"/>
<path d="M252.90,18.40H253.65V24.60H254.40H255.10V33.40H255.80H256.20V39.20H256.60H257.30V46.50H258.00H258.75V52.30H259.50H260.25V59.60H261.00H261.70V66.90H262.40H263.15V74.20H263.90H264.85V80.00H265.80H267.30V93.10H268.40V97.50H269.50H270.25V103.40H271.00H276.10V104.10H277.55V109.20H279.00H279.70V119.40H281.55V121.60H283.40H284.85V126.70H286.30H287.00V131.80H287.70H288.80V132.60H289.90H290.30V139.10H290.70H338.10V139.10H338.80V161.30H369.70V161.30" fill="none" stroke="#e8382c" stroke-width="1.8"/>
<path d="M254.50,15.60V21.20M256.50,21.10V26.70M258.00,26.20V31.80M261.00,37.90V43.50M263.00,45.20V50.80M265.00,51.00V56.60M268.00,56.80V62.40M271.00,68.50V74.10M274.00,74.40V80.00M279.00,83.00V88.60M281.00,83.00V88.60M283.00,86.70V92.30M285.00,86.70V92.30M287.00,91.10V96.70M289.00,91.10V96.70M291.00,93.30V98.90M293.00,93.30V98.90M296.00,95.40V101.00M299.00,102.70V108.30M304.00,104.20V109.80M307.00,108.60V114.20M309.00,108.60V114.20M312.00,112.20V117.80M314.00,112.20V117.80M318.00,115.20V120.80M320.00,115.20V120.80M322.00,115.20V120.80M330.40,121.00V126.60M339.90,129.80V135.40M340.90,129.80V135.40M346.60,129.80V135.40M348.50,129.80V135.40M350.40,129.80V135.40M351.30,129.80V135.40M365.50,138.10V143.70M373.10,138.10V143.70M375.00,138.10V143.70M412.60,138.10V143.70M422.50,138.10V143.70M432.90,138.10V143.70" stroke="#3a35a8" stroke-width="1.4" fill="none"/>
<path d="M253.50,15.60V21.20M255.00,21.80V27.40M257.00,36.40V42.00M262.00,56.80V62.40M267.00,77.20V82.80M270.00,94.70V100.30M275.00,100.60V106.20M278.00,101.30V106.90M281.00,116.60V122.20M283.00,116.60V122.20M285.00,118.80V124.40M288.00,129.00V134.60M294.60,136.30V141.90M301.60,136.30V141.90M313.30,136.30V141.90M332.30,136.30V141.90M337.40,136.30V141.90M369.50,158.50V164.10" stroke="#e8382c" stroke-width="1.4" fill="none"/>
<line x1="346.00" y1="20.50" x2="361.50" y2="20.50" stroke="#3a35a8" stroke-width="1.5"/>
<line x1="346.00" y1="27.90" x2="361.50" y2="27.90" stroke="#e8382c" stroke-width="1.5"/>
<text x="363.60" y="22.90" font-size="7.0" text-anchor="start" font-weight="normal" fill="#111" textLength="66.2" lengthAdjust="spacingAndGlyphs" stroke="#222" stroke-width="0.25">Low DNAJC24 TPM</text>
<text x="363.60" y="30.20" font-size="7.0" text-anchor="start" font-weight="normal" fill="#111" textLength="68.4" lengthAdjust="spacingAndGlyphs" stroke="#222" stroke-width="0.25">High DNAJC24 TPM</text>
<text x="432.30" y="39.70" font-size="7.1" text-anchor="end" font-weight="normal" fill="#111" textLength="61.6" lengthAdjust="spacingAndGlyphs" stroke="#222" stroke-width="0.25">Logrank p=0.0073</text>
<text x="432.30" y="49.20" font-size="7.1" text-anchor="end" font-weight="normal" fill="#111" textLength="45.3" lengthAdjust="spacingAndGlyphs" stroke="#222" stroke-width="0.25">HR(high)=1.6</text>
<text x="432.30" y="58.40" font-size="7.1" text-anchor="end" font-weight="normal" fill="#111" textLength="42.3" lengthAdjust="spacingAndGlyphs" stroke="#222" stroke-width="0.25"><tspan font-style="italic">P</tspan>(HR)=0.008</text>
<text x="432.30" y="67.90" font-size="7.1" text-anchor="end" font-weight="normal" fill="#111" textLength="40.5" lengthAdjust="spacingAndGlyphs" stroke="#222" stroke-width="0.25">n(high)=291</text>
<text x="432.30" y="76.70" font-size="7.1" text-anchor="end" font-weight="normal" fill="#111" textLength="36.8" lengthAdjust="spacingAndGlyphs" stroke="#222" stroke-width="0.25">n(low)=291</text>
<text x="447.20" y="12.20" font-size="12.5" text-anchor="start" font-weight="bold" fill="#000">C</text>
<text x="579.80" y="6.90" font-size="9.1" text-anchor="middle" font-weight="bold" fill="#111" textLength="68.5" lengthAdjust="spacingAndGlyphs">Overall Survival</text>
<rect x="485.50" y="12.3" width="188.50" height="178.60" fill="none" stroke="#222" stroke-width="1.6"/>
<line x1="480.50" y1="184.40" x2="485.50" y2="184.40" stroke="#222" stroke-width="1.2"/>
<text x="473.50" y="184.40" font-size="8.7" text-anchor="middle" font-weight="normal" fill="#111" transform="rotate(-90 473.5 184.4)" stroke="#222" stroke-width="0.25">0.0</text>
<line x1="480.50" y1="151.10" x2="485.50" y2="151.10" stroke="#222" stroke-width="1.2"/>
<text x="473.50" y="151.10" font-size="8.7" text-anchor="middle" font-weight="normal" fill="#111" transform="rotate(-90 473.5 151.10000000000002)" stroke="#222" stroke-width="0.25">0.2</text>
<line x1="480.50" y1="117.80" x2="485.50" y2="117.80" stroke="#222" stroke-width="1.2"/>
<text x="473.50" y="117.80" font-size="8.7" text-anchor="middle" font-weight="normal" fill="#111" transform="rotate(-90 473.5 117.80000000000001)" stroke="#222" stroke-width="0.25">0.4</text>
<line x1="480.50" y1="84.50" x2="485.50" y2="84.50" stroke="#222" stroke-width="1.2"/>
<text x="473.50" y="84.50" font-size="8.7" text-anchor="middle" font-weight="normal" fill="#111" transform="rotate(-90 473.5 84.50000000000001)" stroke="#222" stroke-width="0.25">0.6</text>
<line x1="480.50" y1="51.20" x2="485.50" y2="51.20" stroke="#222" stroke-width="1.2"/>
<text x="473.50" y="51.20" font-size="8.7" text-anchor="middle" font-weight="normal" fill="#111" transform="rotate(-90 473.5 51.20000000000002)" stroke="#222" stroke-width="0.25">0.8</text>
<line x1="480.50" y1="17.90" x2="485.50" y2="17.90" stroke="#222" stroke-width="1.2"/>
<text x="473.50" y="17.90" font-size="8.7" text-anchor="middle" font-weight="normal" fill="#111" transform="rotate(-90 473.5 17.900000000000006)" stroke="#222" stroke-width="0.25">1.0</text>
<line x1="485.50" y1="190.90" x2="485.50" y2="195.60" stroke="#222" stroke-width="1.2"/>
<text x="485.50" y="207.50" font-size="8.7" text-anchor="middle" font-weight="normal" fill="#111" stroke="#222" stroke-width="0.25">0</text>
<line x1="515.00" y1="190.90" x2="515.00" y2="195.60" stroke="#222" stroke-width="1.2"/>
<text x="515.00" y="207.50" font-size="8.7" text-anchor="middle" font-weight="normal" fill="#111" stroke="#222" stroke-width="0.25">20</text>
<line x1="544.50" y1="190.90" x2="544.50" y2="195.60" stroke="#222" stroke-width="1.2"/>
<text x="544.50" y="207.50" font-size="8.7" text-anchor="middle" font-weight="normal" fill="#111" stroke="#222" stroke-width="0.25">40</text>
<line x1="574.00" y1="190.90" x2="574.00" y2="195.60" stroke="#222" stroke-width="1.2"/>
<text x="574.00" y="207.50" font-size="8.7" text-anchor="middle" font-weight="normal" fill="#111" stroke="#222" stroke-width="0.25">60</text>
<line x1="603.50" y1="190.90" x2="603.50" y2="195.60" stroke="#222" stroke-width="1.2"/>
<text x="603.50" y="207.50" font-size="8.7" text-anchor="middle" font-weight="normal" fill="#111" stroke="#222" stroke-width="0.25">80</text>
<line x1="633.00" y1="190.90" x2="633.00" y2="195.60" stroke="#222" stroke-width="1.2"/>
<text x="633.00" y="207.50" font-size="8.7" text-anchor="middle" font-weight="normal" fill="#111" stroke="#222" stroke-width="0.25">100</text>
<line x1="662.50" y1="190.90" x2="662.50" y2="195.60" stroke="#222" stroke-width="1.2"/>
<text x="662.50" y="207.50" font-size="8.7" text-anchor="middle" font-weight="normal" fill="#111" stroke="#222" stroke-width="0.25">120</text>
<text x="580.30" y="221.20" font-size="9.1" text-anchor="middle" font-weight="bold" fill="#111">Months</text>
<text x="460.00" y="97.70" font-size="8.9" text-anchor="middle" font-weight="normal" fill="#111" transform="rotate(-90 460.0 97.7)" stroke="#222" stroke-width="0.25">Percent survival</text>
<path d="M486.90,18.80L494.20,23.10L498.60,26.10L503.00,30.40L507.40,36.30L511.70,40.70L516.10,45.00L522.00,50.90L526.30,53.80L532.20,58.20L538.00,61.10L542.40,62.60L548.20,66.90L554.10,71.30L559.90,74.20L565.80,78.60L571.10,82.90L578.40,87.30L585.70,88.00L591.50,92.40L603.20,92.40L607.60,96.10L611.20,102.30L640.40,102.30L648.00,110.40L667.00,110.40" fill="none" stroke="#3a35a8" stroke-width="1.5" stroke-dasharray="1.3 4.4"/>
<path d="M486.90,18.80L492.80,27.50L495.70,31.90L500.10,39.20L504.40,46.50L508.80,52.30L514.70,58.20L519.00,65.50L523.40,69.90L529.30,75.70L535.10,80.10L542.40,85.90L548.20,90.30L554.10,94.70L559.90,97.60L563.80,103.40L571.10,112.80L578.40,118.00L590.10,118.00L593.00,122.30L595.90,125.30L604.70,125.30L607.60,135.50L609.10,138.90L640.40,148.40L646.10,160.70L647.00,166.00L664.10,166.00" fill="none" stroke="#3a35a8" stroke-width="1.5" stroke-dasharray="1.3 4.4"/>
<path d="M486.90,18.80L492.80,33.40L495.70,39.20L498.60,45.00L501.50,50.90L505.90,56.70L510.30,61.10L516.10,64.00L520.50,68.40L526.30,74.20L532.20,77.20L545.00,79.70L611.00,79.70L611.00,28.50" fill="none" stroke="#e8382c" stroke-width="1.5" stroke-dasharray="1.3 4.4"/>
<path d="M486.90,18.80L489.80,39.20L492.80,58.20L493.50,68.40L495.70,75.70L498.60,81.50L501.50,88.80L505.90,94.70L510.30,99.00L520.00,106.30L524.40,113.60L528.00,120.90L533.10,121.60L545.50,121.60L546.30,126.70L548.50,129.60L607.60,129.60L611.20,148.60L611.20,175.00L620.50,175.00" fill="none" stroke="#e8382c" stroke-width="1.5" stroke-dasharray="1.3 4.4"/>
<path d="M486.90,18.40H491.30V24.60H495.70V27.50H500.10V33.40H504.40V40.70H508.80V45.00H513.20V49.40H517.60V55.30H522.00V60.40H526.30V65.50H532.20V68.40H538.00V71.30H543.90V75.70H545.80V80.00H547.70H555.00V84.40H559.40V88.80H565.30V91.70H566.75V96.10H568.20H569.65V99.70H571.10H575.50V101.90H585.70V104.10H590.10V106.30H591.55V109.20H593.00H603.20V109.90H604.65V113.60H606.10H607.20V119.40H608.30H609.40V123.10H610.50H610.85V128.90H611.20H640.40V128.90H640.40V138.00H646.00V138.00H646.00V147.40H668.90V147.40" fill="none" stroke="#3a35a8" stroke-width="1.8"/>
<path d="M486.90,18.40H487.65V26.10H488.40H489.10V33.40H489.80H490.55V42.10H491.30H492.05V49.40H492.80H493.50V56.70H494.20H495.30V61.10H496.40H497.50V64.00H498.60H499.70V68.40H500.80H501.90V72.80H503.00H504.45V77.20H505.90H510.30V80.10H514.70V82.30H519.00V85.90H520.50V88.80H522.00H522.45V93.10H522.90H523.65V97.50H524.40H528.80V101.90H545.50V101.90H546.25V108.50H547.00H610.50V108.50H611.20V146.40H622.40V146.40" fill="none" stroke="#e8382c" stroke-width="1.8"/>
<path d="M489.00,15.60V21.20M492.00,21.80V27.40M494.00,21.80V27.40M497.00,24.70V30.30M501.00,30.60V36.20M506.00,37.90V43.50M509.00,42.20V47.80M511.00,42.20V47.80M516.00,46.60V52.20M519.00,52.50V58.10M523.00,57.60V63.20M527.00,62.70V68.30M529.00,62.70V68.30M531.00,62.70V68.30M533.00,65.60V71.20M535.00,65.60V71.20M537.00,65.60V71.20M539.00,68.50V74.10M541.00,68.50V74.10M548.00,77.20V82.80M550.00,77.20V82.80M556.00,81.60V87.20M558.00,81.60V87.20M562.00,86.00V91.60M566.00,88.90V94.50M568.00,88.90V94.50M574.00,96.90V102.50M576.00,99.10V104.70M578.00,99.10V104.70M580.00,99.10V104.70M582.00,99.10V104.70M584.00,99.10V104.70M586.00,101.30V106.90M591.00,103.50V109.10M594.00,106.40V112.00M596.00,106.40V112.00M598.00,106.40V112.00M600.00,106.40V112.00M602.00,106.40V112.00M604.00,107.10V112.70M608.00,110.80V116.40M620.50,126.10V131.70M648.90,144.60V150.20M655.60,144.60V150.20M656.50,144.60V150.20M667.00,144.60V150.20" stroke="#3a35a8" stroke-width="1.4" fill="none"/>
<path d="M488.00,15.60V21.20M490.00,30.60V36.20M493.00,46.60V52.20M497.00,58.30V63.90M500.00,61.20V66.80M502.00,65.60V71.20M504.00,70.00V75.60M506.00,74.40V80.00M508.00,74.40V80.00M510.00,74.40V80.00M512.00,77.30V82.90M514.00,77.30V82.90M516.00,79.50V85.10M517.00,79.50V85.10M520.00,83.10V88.70M528.80,99.10V104.70M530.20,99.10V104.70M535.30,99.10V104.70M543.40,99.10V104.70M547.00,105.70V111.30M548.50,105.70V111.30M550.70,105.70V111.30M559.40,105.70V111.30M566.70,105.70V111.30M571.10,105.70V111.30M585.70,105.70V111.30M603.90,105.70V111.30M604.70,105.70V111.30M621.40,143.60V149.20" stroke="#e8382c" stroke-width="1.4" fill="none"/>
<line x1="580.00" y1="20.50" x2="595.50" y2="20.50" stroke="#3a35a8" stroke-width="1.5"/>
<line x1="580.00" y1="27.90" x2="595.50" y2="27.90" stroke="#e8382c" stroke-width="1.5"/>
<text x="597.60" y="22.90" font-size="7.0" text-anchor="start" font-weight="normal" fill="#111" textLength="66.2" lengthAdjust="spacingAndGlyphs" stroke="#222" stroke-width="0.25">Low DNAJC24 TPM</text>
<text x="597.60" y="30.20" font-size="7.0" text-anchor="start" font-weight="normal" fill="#111" textLength="68.4" lengthAdjust="spacingAndGlyphs" stroke="#222" stroke-width="0.25">High DNAJC24 TPM</text>
<text x="666.30" y="39.70" font-size="7.1" text-anchor="end" font-weight="normal" fill="#111" textLength="60.9" lengthAdjust="spacingAndGlyphs" stroke="#222" stroke-width="0.25">Logrank p=0.0045</text>
<text x="666.30" y="49.20" font-size="7.1" text-anchor="end" font-weight="normal" fill="#111" textLength="44.9" lengthAdjust="spacingAndGlyphs" stroke="#222" stroke-width="0.25">HR(high)=1.8</text>
<text x="666.30" y="58.40" font-size="7.1" text-anchor="end" font-weight="normal" fill="#111" textLength="46.8" lengthAdjust="spacingAndGlyphs" stroke="#222" stroke-width="0.25"><tspan font-style="italic">P</tspan>(HR)=0.0049</text>
<text x="666.30" y="67.90" font-size="7.1" text-anchor="end" font-weight="normal" fill="#111" textLength="40.0" lengthAdjust="spacingAndGlyphs" stroke="#222" stroke-width="0.25">n(high)=291</text>
<text x="666.30" y="76.70" font-size="7.1" text-anchor="end" font-weight="normal" fill="#111" textLength="36.4" lengthAdjust="spacingAndGlyphs" stroke="#222" stroke-width="0.25">n(low)=291</text>
<text x="0.60" y="234.00" font-size="12.8" text-anchor="start" font-weight="bold" fill="#000">D</text>
<text x="71.70" y="236.80" font-size="9.1" text-anchor="middle" font-weight="bold" fill="#222">Normal</text>
<text x="205.70" y="236.80" font-size="9.1" text-anchor="middle" font-weight="bold" fill="#222">Tumor-Negative</text>
<text x="340.60" y="236.80" font-size="9.1" text-anchor="middle" font-weight="bold" fill="#222">Tumor-Low</text>
<text x="474.80" y="236.80" font-size="9.1" text-anchor="middle" font-weight="bold" fill="#222">Tumor-Moderate</text>
<text x="608.70" y="236.80" font-size="9.1" text-anchor="middle" font-weight="bold" fill="#222">Tumor-High</text>
<g clip-path="url(#c00)">
<rect x="6.1" y="239.5" width="130.6" height="130.2" fill="#ebe7e2"/>
<rect x="6.1" y="239.5" width="130.6" height="130.2" filter="url(#gTan)" opacity="0.3"/>
<rect x="6.1" y="239.5" width="130.6" height="130.2" filter="url(#gLavL)" opacity="0.35"/>
<rect x="6.1" y="239.5" width="130.6" height="130.2" filter="url(#gWhite)" opacity="0.4"/>
<path d="M82.0 264.9h.01M132.2 359.8h.01M67.1 325.9h.01M34.1 268.4h.01M43.8 329.7h.01M33.8 365.9h.01M15.3 264.7h.01M17.7 339.7h.01M54.0 300.9h.01M48.7 322.5h.01M58.8 266.6h.01M62.3 279.1h.01M20.6 346.7h.01M94.9 326.1h.01M121.3 290.9h.01M55.6 294.6h.01M58.9 326.6h.01M7.0 299.9h.01M76.0 284.5h.01M9.0 331.2h.01M7.3 313.0h.01M26.1 244.0h.01M29.7 248.1h.01M25.8 328.7h.01M101.2 286.7h.01M91.3 301.4h.01M71.2 353.5h.01M46.8 352.8h.01M96.4 328.5h.01M6.9 250.4h.01M10.3 284.5h.01M129.7 353.5h.01M115.6 255.0h.01M98.3 340.3h.01M111.8 342.6h.01M24.4 262.8h.01M109.6 335.6h.01M122.7 297.6h.01M122.3 257.7h.01M131.1 354.7h.01M50.2 248.3h.01M77.7 329.2h.01M51.9 247.0h.01M42.5 346.9h.01M17.9 361.5h.01M38.8 266.1h.01M20.8 367.2h.01M123.8 281.1h.01M18.6 324.6h.01M122.0 241.1h.01M88.8 351.0h.01M66.0 313.6h.01M111.1 270.6h.01M41.8 325.5h.01M78.2 309.2h.01M49.8 361.5h.01M43.7 327.9h.01M122.9 291.7h.01M13.2 268.2h.01M14.8 258.8h.01M21.8 284.1h.01M54.4 297.7h.01M93.0 327.6h.01M95.9 286.9h.01M92.7 311.1h.01M22.8 310.6h.01M47.7 327.5h.01M102.1 270.8h.01M62.9 298.7h.01M44.9 244.8h.01M12.6 368.8h.01M102.7 296.6h.01M93.2 274.5h.01M98.9 363.3h.01M107.1 300.1h.01M134.6 359.6h.01M13.7 293.1h.01M65.1 275.2h.01M86.6 258.2h.01M103.7 351.2h.01M14.1 329.6h.01M40.8 322.6h.01M96.4 366.7h.01M110.3 283.6h.01M101.4 258.6h.01M99.3 293.8h.01M40.7 270.6h.01M34.4 343.2h.01M18.7 269.8h.01M31.2 260.1h.01M101.4 316.0h.01M92.9 356.7h.01M64.7 244.4h.01M30.8 306.8h.01M99.5 359.1h.01M72.9 269.0h.01M83.5 361.2h.01M49.6 360.7h.01M124.1 314.6h.01M68.9 256.3h.01M20.5 244.8h.01M85.9 332.3h.01M135.8 317.9h.01M135.9 292.0h.01M23.6 247.3h.01M43.7 308.6h.01M134.9 278.2h.01M36.8 333.7h.01M56.8 312.2h.01M25.9 350.6h.01M126.2 337.8h.01M128.3 282.8h.01M10.3 279.2h.01M123.4 300.6h.01M32.3 259.2h.01M27.6 296.7h.01M127.0 354.6h.01M105.1 337.9h.01M31.0 340.7h.01M35.4 307.9h.01M10.5 355.7h.01M22.9 316.7h.01M92.6 323.3h.01M95.2 287.6h.01M109.6 361.7h.01M86.7 367.1h.01M117.1 246.7h.01M93.8 251.4h.01M92.5 287.8h.01M117.7 245.3h.01M129.7 245.2h.01M13.5 239.8h.01M22.5 367.9h.01M115.2 358.9h.01M30.4 329.0h.01M110.0 334.1h.01M41.3 365.9h.01M101.2 328.6h.01M43.3 291.2h.01M105.1 306.7h.01M69.8 359.2h.01M61.0 351.3h.01M12.2 308.6h.01M99.2 240.9h.01M97.0 276.7h.01M87.8 320.6h.01M23.9 362.4h.01M37.8 257.3h.01M63.9 247.8h.01M19.3 338.7h.01M18.8 310.0h.01M121.7 298.6h.01M112.5 347.6h.01M27.6 249.5h.01M108.5 352.3h.01M117.5 332.5h.01M72.7 364.2h.01M102.7 338.8h.01M125.2 246.6h.01M102.9 315.6h.01M7.8 272.7h.01M99.6 308.4h.01M79.5 276.9h.01M80.1 353.9h.01M134.1 311.4h.01M101.6 250.9h.01M24.4 312.3h.01M114.0 255.0h.01M25.4 304.6h.01M45.9 257.8h.01M26.8 294.8h.01M109.6 261.8h.01M111.4 249.2h.01M38.9 326.6h.01M7.0 281.4h.01M26.3 269.5h.01M121.9 260.2h.01M100.1 358.0h.01M38.2 351.8h.01M48.0 340.1h.01M82.0 285.1h.01M121.8 330.1h.01M47.8 314.2h.01M44.6 276.7h.01M128.6 366.5h.01M26.7 358.8h.01M99.3 240.9h.01M20.2 296.2h.01M122.0 353.2h.01M38.9 297.5h.01M126.9 266.8h.01M19.8 293.5h.01M95.0 353.1h.01M120.6 241.0h.01M29.0 256.2h.01M83.9 292.3h.01M126.6 319.6h.01M86.4 328.9h.01M32.9 356.0h.01M118.6 346.6h.01M108.3 262.0h.01M13.1 287.0h.01M99.7 265.6h.01M119.6 351.1h.01M97.1 302.5h.01M25.7 344.9h.01M28.7 304.1h.01M105.1 322.2h.01M36.9 354.0h.01M48.0 294.2h.01M63.4 330.8h.01M11.2 322.6h.01M69.8 343.8h.01M53.9 313.9h.01M132.5 247.1h.01M109.5 300.5h.01M45.3 275.3h.01M34.5 349.3h.01M32.6 364.8h.01M73.6 276.6h.01M108.4 315.2h.01M121.6 258.3h.01M96.5 243.1h.01M30.1 293.5h.01M47.0 276.3h.01M80.5 336.7h.01M60.4 305.7h.01M108.2 268.9h.01M136.4 242.6h.01M54.5 346.9h.01M36.8 282.6h.01M28.4 366.4h.01M120.5 250.1h.01M76.4 259.3h.01M8.5 268.3h.01M97.9 308.3h.01M43.6 315.0h.01M16.9 284.1h.01M18.9 346.8h.01M56.1 332.7h.01M49.9 293.6h.01M81.2 273.2h.01M77.6 340.1h.01M15.8 265.4h.01M8.8 303.1h.01M20.5 307.3h.01M27.1 308.0h.01M42.9 337.0h.01M112.6 364.4h.01M66.6 355.3h.01M118.7 283.2h.01M134.1 364.3h.01M26.7 337.4h.01M95.9 319.8h.01M99.0 275.7h.01M115.0 333.5h.01M30.0 365.3h.01M101.9 246.8h.01M10.3 261.5h.01M92.6 333.6h.01M127.7 354.5h.01M32.8 264.8h.01M17.2 290.3h.01M61.4 289.0h.01M113.3 319.3h.01M111.1 351.8h.01M106.0 306.4h.01M59.5 309.3h.01M66.2 326.6h.01M117.4 327.5h.01M39.3 313.0h.01M65.6 255.5h.01M19.9 298.2h.01M129.0 331.0h.01M13.4 358.8h.01M100.8 318.1h.01M6.9 279.9h.01M49.7 302.3h.01M22.1 321.5h.01M86.0 322.9h.01M70.7 312.1h.01M20.9 347.2h.01M119.5 350.3h.01M106.3 271.0h.01M44.5 246.1h.01M108.7 351.4h.01M128.4 317.7h.01M110.5 349.6h.01M21.9 248.4h.01M120.6 365.9h.01M99.6 320.2h.01M57.8 351.3h.01M43.3 246.6h.01M111.1 247.5h.01M99.6 324.1h.01M20.5 296.4h.01M41.7 344.6h.01M107.6 282.4h.01M26.2 284.1h.01M63.5 318.4h.01M129.9 281.3h.01M25.4 321.0h.01M61.7 336.0h.01M92.6 310.7h.01M112.7 265.0h.01M108.3 263.3h.01M68.7 311.9h.01M77.1 254.1h.01M66.1 276.0h.01M42.2 294.4h.01M60.1 266.4h.01M95.6 360.7h.01M129.9 263.0h.01M36.4 292.5h.01M83.8 329.7h.01M83.1 303.7h.01M136.5 364.7h.01M111.1 272.3h.01M106.3 244.2h.01M129.9 330.8h.01M126.9 294.7h.01M99.0 272.1h.01M126.9 262.7h.01M7.3 276.0h.01M92.9 309.5h.01M111.5 328.5h.01M108.0 362.2h.01M14.8 253.3h.01M43.8 256.9h.01M78.2 333.2h.01M29.8 304.1h.01M38.3 241.7h.01M40.7 274.0h.01M95.9 365.7h.01M14.9 303.3h.01M66.7 321.3h.01M25.5 364.0h.01M42.1 314.8h.01M59.4 312.7h.01M121.1 319.9h.01M50.6 363.5h.01M29.1 364.4h.01M94.1 271.4h.01M134.9 352.3h.01M72.5 344.8h.01M18.4 275.3h.01M68.6 362.4h.01M54.4 368.7h.01M81.8 333.0h.01M108.2 256.7h.01M126.1 316.7h.01M22.1 259.2h.01M110.5 312.6h.01M127.2 351.5h.01M77.8 294.0h.01M105.6 366.8h.01M46.1 307.1h.01M21.6 245.2h.01M14.1 288.3h.01M86.7 351.9h.01M104.1 365.0h.01M39.4 350.7h.01M48.0 288.3h.01M77.1 369.2h.01M66.8 247.1h.01M53.9 313.4h.01M95.3 259.5h.01M43.3 261.2h.01M73.1 290.7h.01M47.7 305.7h.01M104.5 319.7h.01M101.9 292.1h.01M127.1 254.7h.01M15.5 252.1h.01M68.9 281.8h.01M32.0 240.5h.01M108.9 247.1h.01M88.5 365.3h.01M39.0 316.2h.01M121.5 296.6h.01M126.2 244.0h.01M80.8 340.8h.01M70.6 347.5h.01M134.3 348.6h.01M68.6 329.5h.01M119.9 320.6h.01M12.2 266.3h.01M85.8 254.5h.01M26.9 366.0h.01M71.7 368.2h.01M115.5 341.4h.01M60.9 270.0h.01M14.8 268.3h.01M71.0 318.8h.01M25.7 299.0h.01M54.2 353.9h.01M45.1 348.6h.01M90.2 361.4h.01M42.6 274.9h.01M69.7 273.4h.01M84.7 363.5h.01M75.6 264.6h.01M13.0 321.5h.01M64.4 240.7h.01M54.2 343.4h.01M87.9 283.1h.01M131.5 367.3h.01M9.6 269.1h.01M85.8 283.8h.01M33.8 344.1h.01M124.1 303.6h.01M132.0 314.5h.01M88.3 306.5h.01M110.0 356.9h.01M71.6 301.7h.01M109.7 349.1h.01M92.0 260.4h.01M22.9 286.9h.01M12.0 285.5h.01M53.4 255.7h.01M24.9 322.5h.01M122.4 268.1h.01M100.5 293.3h.01M7.5 360.9h.01M20.6 302.2h.01M8.3 276.4h.01M52.3 288.9h.01M74.2 365.4h.01M86.1 298.2h.01M114.9 298.8h.01M97.5 297.6h.01M103.7 251.8h.01M28.7 330.3h.01M102.8 286.5h.01M11.5 319.2h.01M19.8 289.9h.01M111.6 343.8h.01M113.4 253.2h.01M101.7 243.4h.01M134.5 336.3h.01M107.1 351.3h.01M113.2 338.7h.01M127.7 248.0h.01M16.5 331.3h.01M21.5 344.0h.01M60.3 337.6h.01M19.9 311.2h.01M99.9 335.6h.01M29.7 270.9h.01M116.9 342.3h.01M72.6 241.9h.01M99.9 337.8h.01M90.7 366.2h.01M88.8 345.7h.01M38.4 277.0h.01M134.1 369.6h.01M20.1 320.7h.01M95.7 318.9h.01M56.8 285.5h.01M126.5 257.7h.01M17.8 336.8h.01M8.0 289.6h.01M79.2 327.8h.01M39.7 322.4h.01M91.9 346.3h.01M67.7 360.8h.01M65.0 358.8h.01M58.0 334.2h.01M44.2 321.2h.01M104.1 247.5h.01M107.2 250.4h.01M109.2 258.2h.01M37.4 280.5h.01M40.4 318.6h.01M51.7 346.6h.01M55.7 340.8h.01M47.4 308.6h.01M82.8 285.2h.01M108.8 321.1h.01M78.5 325.8h.01" stroke="#8482c8" stroke-width="1.1" stroke-linecap="round" opacity="0.6" fill="none"/>
<path d="M25.5 319.7h.01M28.3 332.3h.01M85.5 289.5h.01M86.7 313.2h.01M11.7 308.5h.01M87.0 307.2h.01M121.0 335.2h.01M55.4 269.0h.01M22.8 345.0h.01M96.2 318.8h.01M63.8 304.7h.01M35.1 308.6h.01M25.1 320.4h.01M88.4 326.8h.01M38.3 251.5h.01M49.6 329.0h.01M72.7 336.8h.01M62.4 291.4h.01M124.6 261.2h.01M33.2 316.2h.01M88.6 295.9h.01M79.0 296.9h.01M93.4 355.2h.01M113.9 322.7h.01M67.5 362.9h.01M64.5 321.0h.01M119.5 328.5h.01M57.1 336.2h.01M84.5 358.6h.01M87.5 309.0h.01M133.3 308.2h.01M58.1 361.6h.01M129.4 261.9h.01M15.6 351.2h.01M121.4 289.6h.01M39.4 328.6h.01M128.9 267.2h.01M64.6 325.8h.01M34.9 293.5h.01M24.8 302.0h.01M36.1 250.0h.01M56.9 259.1h.01M21.6 259.1h.01M60.7 280.9h.01M101.2 293.5h.01M37.9 264.0h.01M44.9 336.3h.01M32.4 300.1h.01M111.5 347.5h.01M66.5 349.2h.01M90.0 269.0h.01M18.2 261.6h.01M109.3 290.2h.01M115.5 365.5h.01M126.2 300.6h.01M7.1 275.5h.01M34.7 324.0h.01M97.8 359.5h.01M98.2 364.4h.01M89.4 301.3h.01M115.4 275.2h.01M107.8 334.2h.01M119.3 247.4h.01M30.7 363.2h.01M24.7 298.2h.01M84.7 302.3h.01M120.9 363.9h.01M50.7 257.0h.01M125.5 298.6h.01M38.6 257.5h.01M7.3 315.4h.01M42.8 311.9h.01M126.8 302.6h.01M130.6 248.2h.01M105.1 337.8h.01M131.3 243.5h.01M72.3 311.9h.01M84.2 300.8h.01M41.7 357.0h.01M120.8 330.8h.01M131.4 311.6h.01M16.5 329.9h.01M19.8 337.3h.01M90.8 266.4h.01M26.0 248.3h.01M29.2 366.8h.01M35.9 354.6h.01M23.7 283.6h.01M67.8 286.2h.01M132.0 270.8h.01" stroke="#4a48a4" stroke-width="1.0" stroke-linecap="round" opacity="0.7" fill="none"/>
<path d="M134.0 298.9h.01M100.0 335.2h.01M34.2 249.7h.01M84.8 255.4h.01M56.0 355.3h.01M120.0 255.0h.01M16.8 268.5h.01M114.2 242.7h.01M35.5 253.5h.01M22.8 307.6h.01M30.1 292.8h.01M101.9 333.6h.01M60.3 341.9h.01M80.9 347.2h.01M38.6 287.6h.01M81.9 362.7h.01M86.9 301.3h.01M38.9 276.1h.01M34.3 367.9h.01M121.9 356.0h.01M75.1 331.7h.01M44.8 302.2h.01M25.1 294.2h.01M39.1 252.5h.01M126.2 252.1h.01M112.3 330.6h.01M17.9 302.7h.01M136.2 368.0h.01M79.7 340.0h.01M98.7 277.5h.01M77.9 317.2h.01M57.6 346.1h.01M64.1 337.1h.01M14.5 297.4h.01M11.9 323.7h.01M120.1 310.3h.01M79.9 320.5h.01M36.0 289.8h.01M81.7 323.6h.01M55.7 301.7h.01" stroke="#9a6a40" stroke-width="1.0" stroke-linecap="round" opacity="0.6" fill="none"/>
<path d="M134.6,240.0L135.6,244.5L136.4,249.5" fill="none" stroke="#9a5a26" stroke-width="1.8" opacity="0.8" stroke-linecap="round" stroke-linejoin="round" filter="url(#bl3)"/>
</g>
<g clip-path="url(#c01)">
<rect x="6.1" y="374.0" width="130.6" height="130.2" fill="#e9e4e0"/>
<rect x="6.1" y="374.0" width="130.6" height="130.2" filter="url(#m0b)"/>
<path d="M131.5 487.5h.01M101.7 403.6h.01M49.3 466.9h.01M111.5 376.2h.01M27.9 490.6h.01M21.5 459.3h.01M49.2 458.0h.01M118.7 449.7h.01M57.2 416.0h.01M87.3 455.8h.01M59.6 434.7h.01M76.1 407.6h.01M29.6 448.0h.01M19.2 451.8h.01M110.8 481.8h.01M39.0 428.0h.01M126.7 419.6h.01M135.6 400.0h.01M115.9 379.3h.01M93.3 478.9h.01M77.6 456.4h.01M125.4 503.7h.01M29.5 442.1h.01M11.3 423.3h.01M25.0 394.9h.01M87.7 385.0h.01M26.2 375.3h.01M112.3 405.7h.01M15.5 454.9h.01M99.8 456.1h.01M77.6 443.6h.01M100.1 414.4h.01M116.1 464.3h.01M118.2 490.0h.01M115.8 441.6h.01M74.3 469.5h.01M81.7 377.6h.01M125.8 399.9h.01M69.4 432.9h.01M18.3 449.3h.01M83.2 479.9h.01M86.0 413.9h.01M79.9 498.9h.01M89.2 483.9h.01M7.6 463.8h.01M33.7 395.2h.01M49.4 397.2h.01M17.3 401.5h.01M36.2 406.5h.01M110.4 384.8h.01M32.2 381.1h.01M72.2 403.8h.01M75.4 405.0h.01M31.8 437.5h.01M15.5 489.2h.01M79.6 425.5h.01M77.9 497.3h.01M70.7 425.3h.01M34.4 423.5h.01M107.2 453.8h.01M42.1 491.0h.01M23.5 420.3h.01M107.5 493.2h.01M66.1 375.4h.01M79.3 429.6h.01M9.9 419.4h.01M121.3 378.9h.01M29.3 395.8h.01M110.3 414.0h.01M95.5 461.9h.01M7.7 431.0h.01M21.7 478.1h.01M70.0 422.0h.01M112.2 481.1h.01M15.0 386.3h.01M48.3 414.7h.01M63.7 429.7h.01M133.1 461.4h.01M131.7 454.5h.01M36.6 447.9h.01M27.0 450.1h.01M24.7 495.2h.01M45.7 490.4h.01M34.9 401.1h.01M38.3 481.2h.01M114.2 471.0h.01M81.2 393.0h.01M37.3 378.2h.01M127.6 390.7h.01M99.6 374.1h.01M43.3 452.5h.01M30.0 383.1h.01M123.1 411.4h.01M7.0 465.7h.01M135.3 445.0h.01M10.7 428.4h.01M85.7 405.9h.01M60.6 470.5h.01M92.0 482.2h.01M130.2 441.6h.01M134.2 389.3h.01M73.7 462.0h.01M127.4 435.2h.01M63.1 490.1h.01M67.5 381.5h.01M65.1 409.2h.01M91.8 480.3h.01M12.2 415.2h.01M123.6 479.4h.01M108.4 424.7h.01M130.7 484.5h.01M113.0 444.8h.01M89.8 391.2h.01M10.7 375.9h.01M13.2 440.4h.01M129.5 448.9h.01M109.0 472.2h.01M129.4 410.0h.01M71.0 494.4h.01M49.2 464.9h.01M60.0 393.9h.01M32.6 420.9h.01M9.9 488.8h.01M52.5 405.4h.01M110.6 374.7h.01M105.6 432.6h.01M17.8 425.8h.01M134.9 379.2h.01M43.2 397.2h.01M83.4 399.9h.01M116.9 421.4h.01M130.2 389.8h.01M36.1 377.5h.01M11.9 397.9h.01M82.8 445.7h.01M100.9 404.5h.01M84.3 502.2h.01M48.1 404.6h.01M30.4 499.7h.01M89.2 438.3h.01M70.8 384.4h.01M35.5 465.1h.01M39.0 440.9h.01M124.2 397.8h.01M67.8 473.3h.01M103.3 481.6h.01M125.0 449.2h.01M35.6 440.3h.01M127.2 399.8h.01M44.5 399.7h.01M120.8 386.7h.01M25.9 453.3h.01M101.3 428.9h.01M103.9 466.0h.01M57.1 383.5h.01M96.4 454.7h.01M131.3 465.3h.01M14.3 399.4h.01M46.3 468.5h.01M46.5 404.5h.01M30.5 409.3h.01M71.0 466.3h.01M116.8 387.1h.01M78.2 500.7h.01M57.8 390.2h.01M91.5 481.3h.01M11.3 385.0h.01M46.1 421.5h.01M21.2 385.0h.01M61.1 498.4h.01M80.1 410.0h.01M131.3 410.9h.01M24.5 390.1h.01M9.2 493.2h.01M75.6 501.7h.01M76.7 383.2h.01M54.5 418.9h.01M26.8 384.5h.01M96.2 487.5h.01M128.1 405.0h.01M86.6 407.1h.01M116.3 492.9h.01M7.6 398.8h.01M119.6 501.9h.01M116.9 382.4h.01M84.5 474.3h.01M80.6 444.7h.01M107.2 381.7h.01M80.4 500.6h.01M77.9 420.9h.01M23.8 489.9h.01M93.6 498.4h.01M132.0 464.0h.01M117.7 480.4h.01M103.2 428.2h.01M94.5 476.0h.01M40.8 476.5h.01M84.8 423.4h.01M62.8 493.6h.01M14.8 379.8h.01M71.2 387.9h.01M117.8 493.7h.01M52.7 419.7h.01M92.4 489.0h.01M89.4 490.4h.01M50.7 434.8h.01M95.8 470.6h.01M56.1 420.0h.01M116.7 460.9h.01M75.6 406.8h.01" stroke="#a8a6d8" stroke-width="2.6" stroke-linecap="round" opacity="0.6" fill="none" filter="url(#bl10)"/>
<path d="M120.8 419.5h.01M109.4 497.9h.01M46.9 474.0h.01M49.8 395.3h.01M51.6 471.8h.01M25.4 459.8h.01M52.0 396.0h.01M62.3 424.3h.01M66.2 488.7h.01M126.3 403.6h.01M135.1 453.7h.01M131.4 480.3h.01M74.8 406.7h.01M127.5 504.1h.01M87.7 389.2h.01M113.6 473.6h.01M121.0 501.1h.01M133.5 469.9h.01M57.4 443.3h.01M72.0 473.0h.01M87.9 481.6h.01M73.4 450.8h.01M131.9 477.1h.01M127.7 465.0h.01M22.3 428.5h.01M44.1 408.2h.01M22.7 388.4h.01M68.9 475.9h.01M119.4 500.0h.01M82.1 375.9h.01M31.1 381.5h.01M119.5 415.6h.01M100.6 432.7h.01M82.3 484.9h.01M91.9 383.7h.01M89.0 420.3h.01M133.6 408.9h.01M37.7 494.1h.01M60.2 384.8h.01M110.1 493.7h.01M70.4 395.8h.01M119.2 418.3h.01M38.2 379.7h.01M121.2 404.6h.01M21.8 421.4h.01M97.5 503.8h.01M33.7 454.4h.01M41.4 486.2h.01M69.7 463.0h.01M115.5 443.6h.01M67.6 375.2h.01M27.7 464.1h.01M105.5 449.2h.01M12.5 471.2h.01M117.0 485.5h.01M104.1 460.3h.01M51.8 421.1h.01M30.9 457.8h.01M50.4 479.4h.01M36.4 408.3h.01M17.3 410.5h.01M107.7 481.4h.01M125.9 378.6h.01M95.6 447.2h.01M51.8 496.4h.01M95.2 414.8h.01M114.6 431.6h.01M67.5 436.1h.01M68.1 377.4h.01M113.2 413.3h.01M64.9 397.0h.01M80.3 383.2h.01M10.0 401.4h.01M120.9 462.9h.01M100.4 386.0h.01M65.0 469.8h.01M103.4 432.6h.01M16.1 423.4h.01M129.9 489.9h.01M86.3 419.9h.01M84.7 448.9h.01M66.4 485.0h.01M79.7 386.6h.01M101.7 464.9h.01M19.4 442.3h.01M133.8 458.3h.01M94.1 436.2h.01M61.6 502.4h.01M42.8 434.4h.01M18.5 440.9h.01" stroke="#9390d0" stroke-width="1.8" stroke-linecap="round" opacity="0.55" fill="none" filter="url(#bl6)"/>
<path d="M98.9 491.3h.01M8.3 496.7h.01M113.3 381.4h.01M111.4 478.7h.01M30.6 500.5h.01M53.6 432.7h.01M91.5 463.9h.01M103.6 410.2h.01M69.3 391.9h.01M42.0 437.9h.01M15.8 419.4h.01M112.5 397.3h.01M62.7 378.9h.01M102.4 387.0h.01M29.8 471.0h.01M63.9 446.0h.01M85.7 438.7h.01M61.6 394.0h.01M24.7 400.5h.01M38.1 415.8h.01M122.6 401.8h.01M23.2 409.0h.01M23.3 481.9h.01M130.6 473.7h.01M130.6 445.6h.01" stroke="#aaa8da" stroke-width="4.0" stroke-linecap="round" opacity="0.5" fill="none" filter="url(#bl10)"/>
</g>
<g clip-path="url(#c10)">
<rect x="140.1" y="239.5" width="130.6" height="130.2" fill="#e9e5de"/>
<rect x="140.1" y="239.5" width="130.6" height="130.2" filter="url(#p1a)"/>
<rect x="140.1" y="239.5" width="130.6" height="130.2" filter="url(#gLavL)" opacity="0.5"/>
<rect x="140.1" y="239.5" width="130.6" height="130.2" filter="url(#gTan)" opacity="0.25"/>
<rect x="140.1" y="239.5" width="130.6" height="130.2" filter="url(#gWhite)" opacity="0.4"/>
<path d="M248.1 267.2h.01M263.2 303.8h.01M192.0 319.9h.01M162.3 264.7h.01M195.2 269.4h.01M227.7 293.7h.01M190.2 275.7h.01M168.9 332.7h.01M258.0 285.1h.01M245.1 280.3h.01M239.4 270.6h.01M214.4 292.5h.01M253.8 338.6h.01M154.2 252.4h.01M200.2 267.5h.01M171.2 363.3h.01M262.9 241.8h.01M143.0 321.1h.01M263.9 355.2h.01M230.6 335.8h.01M203.2 303.3h.01M252.0 253.5h.01M229.2 333.2h.01M160.4 339.8h.01M162.1 365.5h.01M239.9 298.9h.01M216.4 366.3h.01M188.0 266.1h.01M230.2 357.1h.01M160.5 339.0h.01M190.9 329.0h.01M202.4 363.3h.01M215.3 365.4h.01M265.8 256.3h.01M262.6 338.2h.01M158.8 314.7h.01M175.6 245.7h.01M147.6 286.8h.01M254.3 249.0h.01M216.6 353.2h.01M187.5 333.1h.01M217.6 338.6h.01M203.0 367.3h.01M192.2 267.2h.01M156.0 273.0h.01M155.5 362.0h.01M157.5 348.9h.01M240.7 300.6h.01M146.7 265.9h.01M262.3 293.4h.01M242.1 255.7h.01M146.3 286.4h.01M185.9 266.2h.01M223.7 314.7h.01M213.2 280.6h.01M193.8 274.5h.01M212.3 290.1h.01M225.1 364.9h.01M182.3 316.6h.01M152.6 347.5h.01M209.6 316.7h.01M213.4 254.5h.01M254.8 241.0h.01M165.3 302.5h.01M260.7 330.5h.01M257.9 283.8h.01M212.1 317.6h.01M170.7 251.7h.01M184.5 250.8h.01M141.1 262.6h.01M252.5 319.4h.01M238.0 314.3h.01M203.1 355.2h.01M185.0 273.5h.01M177.9 249.1h.01M142.4 274.9h.01M222.9 265.0h.01M202.4 277.2h.01M238.3 270.6h.01M199.0 336.8h.01M234.1 356.2h.01M142.1 300.3h.01M165.1 355.5h.01M172.6 344.3h.01M207.6 339.5h.01M244.1 351.7h.01M256.0 292.1h.01M228.2 359.0h.01M244.3 297.1h.01M248.3 341.3h.01M198.0 297.1h.01M197.2 361.5h.01M170.1 363.9h.01M157.9 272.7h.01M236.5 331.7h.01M180.0 278.5h.01M214.0 338.3h.01M190.3 300.6h.01M196.3 347.6h.01M258.1 321.4h.01M173.1 294.6h.01M194.6 320.9h.01M181.3 318.7h.01M208.6 310.1h.01M266.4 293.6h.01M173.2 240.3h.01M141.3 329.1h.01M256.7 326.0h.01M167.3 243.6h.01M198.8 248.5h.01M149.9 321.9h.01M160.2 302.4h.01M250.6 303.0h.01M190.3 305.8h.01M259.9 263.1h.01M233.1 270.1h.01M220.3 244.1h.01M146.4 266.5h.01M233.1 270.2h.01M234.9 279.6h.01M251.2 356.1h.01M237.8 266.3h.01M148.4 299.0h.01M175.1 242.4h.01M235.1 347.4h.01M250.9 358.0h.01M215.2 306.1h.01M269.6 289.2h.01M239.8 277.0h.01M263.0 320.0h.01M270.3 350.3h.01M220.9 305.9h.01M161.6 265.6h.01M150.0 318.9h.01M167.9 241.8h.01M217.4 326.3h.01M151.1 271.2h.01M256.3 330.2h.01M242.8 272.6h.01M146.3 325.3h.01M215.0 315.9h.01M147.9 320.5h.01M249.9 302.7h.01M207.5 260.8h.01M189.5 267.3h.01M149.3 365.4h.01M176.5 255.3h.01M216.0 264.8h.01M246.6 266.7h.01M184.2 277.7h.01M145.5 344.7h.01M218.0 319.6h.01M265.0 255.0h.01M244.6 278.9h.01M255.6 365.5h.01M192.9 349.3h.01M191.7 252.7h.01M194.9 321.0h.01M207.1 301.1h.01M154.0 320.6h.01M233.0 320.3h.01M169.8 332.4h.01M242.8 282.0h.01M179.8 295.5h.01M216.3 363.7h.01M240.5 240.9h.01M176.9 316.1h.01M261.5 323.9h.01M249.8 263.1h.01M173.7 279.5h.01M153.7 332.9h.01M222.5 329.8h.01M231.7 329.4h.01M144.5 307.9h.01M211.2 269.5h.01M171.9 349.8h.01M150.6 241.9h.01M254.5 354.9h.01M193.2 289.4h.01M245.8 320.4h.01M196.9 287.4h.01M221.1 299.0h.01M174.0 369.7h.01M210.5 285.0h.01M232.4 264.7h.01M170.0 302.1h.01M144.4 294.1h.01M150.9 336.6h.01M216.4 349.4h.01M159.8 257.2h.01M217.4 318.1h.01M181.2 246.9h.01M204.0 367.6h.01M238.7 252.9h.01M227.4 338.6h.01M176.7 251.9h.01M239.9 242.8h.01M213.1 244.1h.01M253.7 278.5h.01M214.2 325.5h.01M216.9 328.4h.01M158.7 249.5h.01M234.7 244.9h.01M156.3 308.8h.01M240.3 252.8h.01M180.5 241.7h.01M242.6 261.3h.01M197.8 282.7h.01M148.4 361.1h.01M158.3 242.5h.01M223.3 245.2h.01M179.2 285.7h.01M185.6 358.2h.01M256.4 321.4h.01M212.5 321.6h.01M259.1 287.0h.01M191.7 332.9h.01M191.6 287.5h.01M231.9 316.3h.01M157.5 280.4h.01M163.2 304.5h.01M255.3 320.8h.01M214.2 246.9h.01M184.8 357.7h.01M224.1 350.7h.01M166.4 245.6h.01M148.3 275.3h.01M187.6 296.6h.01M181.1 348.0h.01M221.8 323.6h.01M145.8 368.6h.01M205.9 284.6h.01M233.7 360.1h.01M176.0 314.0h.01M224.0 278.6h.01M162.4 261.0h.01M166.9 366.9h.01M232.7 286.5h.01M268.2 279.9h.01M242.3 310.6h.01M150.6 357.2h.01M141.7 357.2h.01M188.6 321.5h.01M140.5 283.7h.01M253.8 357.6h.01M238.9 319.1h.01M213.4 252.5h.01M214.1 344.5h.01M256.4 249.1h.01M225.7 247.7h.01M156.5 330.8h.01M180.3 301.2h.01M263.7 344.4h.01M251.7 339.9h.01M249.5 287.6h.01M201.4 274.5h.01M264.4 333.8h.01M140.5 275.1h.01M226.3 243.7h.01M246.2 242.8h.01M236.9 277.4h.01M210.7 262.8h.01M190.6 312.4h.01M196.2 344.2h.01M201.6 321.3h.01M231.6 319.2h.01M244.0 240.0h.01M141.8 344.8h.01M213.9 301.9h.01M252.8 351.7h.01M168.6 306.9h.01M184.9 285.3h.01M167.1 301.1h.01M204.9 314.5h.01M219.6 337.5h.01M156.9 252.0h.01M161.8 367.1h.01M234.7 332.5h.01M240.2 255.6h.01M270.3 333.4h.01M155.2 255.5h.01M264.7 323.7h.01M205.7 281.5h.01M197.1 316.0h.01M241.6 294.0h.01M264.8 337.3h.01M144.1 343.0h.01M214.4 303.4h.01M165.2 257.2h.01M172.8 252.6h.01M199.0 363.2h.01M246.8 270.0h.01M216.8 249.2h.01M209.9 291.4h.01M176.9 247.9h.01M248.2 284.6h.01M260.7 337.1h.01M164.6 313.2h.01M232.4 299.1h.01M210.6 278.6h.01" stroke="#7c7ec4" stroke-width="1.0" stroke-linecap="round" opacity="0.6" fill="none"/>
<path d="M257.1 265.1h.01M154.9 254.1h.01M238.6 351.2h.01" stroke="#5a4a40" stroke-width="1.8" stroke-linecap="round" opacity="0.7" fill="none"/>
<path d="M145.1,334.5L155.1,349.5L165.1,367.5" fill="none" stroke="#f2f0ec" stroke-width="4" opacity="0.6" stroke-linecap="round" stroke-linejoin="round" filter="url(#bl10)"/>
</g>
<g clip-path="url(#c11)">
<rect x="140.1" y="374.0" width="130.6" height="130.2" fill="#ece8e2"/>
<rect x="140.1" y="374.0" width="130.6" height="130.2" filter="url(#m1b)"/>
<path d="M144.1 487.0h.01M142.4 445.6h.01M255.3 485.1h.01M218.3 438.4h.01M264.4 469.1h.01M161.6 426.9h.01M165.2 463.7h.01M160.2 493.1h.01M201.7 384.9h.01M226.8 483.4h.01M182.8 453.6h.01M158.3 464.4h.01M260.7 404.7h.01M243.9 452.4h.01M238.8 437.9h.01M232.2 377.6h.01M194.9 448.4h.01M189.0 497.1h.01M198.1 496.2h.01M247.6 404.9h.01M171.6 483.1h.01M177.4 500.4h.01M213.7 499.7h.01M199.3 492.1h.01M216.2 489.6h.01M169.4 419.1h.01M220.4 433.6h.01M174.9 440.2h.01M223.2 378.6h.01M228.4 437.4h.01M262.5 420.1h.01M229.8 452.8h.01M172.3 374.4h.01M266.6 470.0h.01M155.0 492.4h.01M158.5 428.8h.01M176.5 396.7h.01M143.7 494.7h.01M254.1 499.1h.01M196.2 456.9h.01M163.1 436.7h.01M171.9 433.1h.01M150.3 499.3h.01M145.9 488.3h.01M205.7 464.5h.01M207.9 503.7h.01M227.9 427.8h.01M162.2 449.4h.01M246.3 428.4h.01M179.9 426.7h.01M238.3 450.4h.01M234.6 454.0h.01M219.1 388.6h.01M231.6 439.9h.01M225.7 450.2h.01M214.0 424.8h.01M140.2 453.5h.01M226.9 383.2h.01M179.1 435.3h.01M235.1 482.9h.01M168.8 390.0h.01M207.6 499.8h.01M177.5 499.9h.01M261.8 503.7h.01M226.3 460.2h.01M187.7 421.6h.01M148.9 474.5h.01M234.2 489.2h.01M142.6 494.2h.01M149.7 460.9h.01M225.6 407.2h.01M222.1 491.0h.01M229.1 491.7h.01M232.5 446.0h.01M153.1 431.7h.01M145.1 443.3h.01M179.4 414.9h.01M180.9 445.1h.01M158.4 407.5h.01M161.7 398.0h.01M234.3 485.6h.01M163.9 399.6h.01M175.2 482.5h.01M194.6 380.8h.01M227.5 383.7h.01M264.6 439.4h.01M254.0 395.0h.01M211.0 436.6h.01M265.4 474.8h.01M237.5 403.4h.01M183.4 442.6h.01M202.1 489.3h.01M188.3 492.7h.01M244.2 468.0h.01M220.2 412.5h.01M245.9 424.3h.01M181.7 414.8h.01M211.2 399.2h.01M225.8 426.1h.01M226.0 457.0h.01M174.8 377.0h.01M153.0 475.9h.01M157.5 454.4h.01M239.6 445.3h.01M234.1 380.5h.01M217.8 406.5h.01M226.0 414.4h.01M236.1 396.9h.01M247.3 395.1h.01M153.2 480.3h.01M143.3 469.9h.01M196.6 393.7h.01M260.5 451.3h.01M265.9 491.7h.01M142.3 484.3h.01M218.6 429.0h.01M198.1 470.2h.01M181.8 389.7h.01M223.6 409.3h.01M209.4 498.1h.01M194.0 389.0h.01M223.4 410.2h.01M170.0 491.8h.01M238.5 460.1h.01M156.3 394.7h.01M202.9 449.9h.01M154.3 389.4h.01M147.9 452.0h.01M260.1 443.6h.01M247.4 388.8h.01M266.4 425.4h.01M267.9 493.7h.01M228.9 475.3h.01M150.0 429.6h.01M159.1 440.9h.01M165.5 420.8h.01M237.8 379.4h.01M178.3 447.8h.01M153.4 405.6h.01M270.3 486.1h.01M166.9 440.1h.01M259.5 422.7h.01M165.7 495.2h.01M160.7 400.3h.01M159.0 460.5h.01M153.2 490.4h.01M233.7 394.8h.01M214.7 417.9h.01M179.5 411.5h.01M219.7 453.2h.01M164.7 487.0h.01M253.3 400.7h.01M200.3 388.9h.01M207.3 476.4h.01M145.9 493.2h.01M266.6 461.7h.01M231.0 408.9h.01M238.8 421.7h.01M153.6 466.8h.01M153.1 387.6h.01M155.2 453.0h.01M178.0 378.7h.01M223.6 443.2h.01M207.7 395.1h.01M220.1 431.0h.01M219.0 488.4h.01M150.1 491.0h.01M252.0 492.8h.01M227.8 482.1h.01M172.4 435.9h.01M252.7 423.8h.01M260.4 379.9h.01M146.9 497.4h.01M246.8 459.9h.01M232.2 385.3h.01M142.0 413.9h.01M259.7 495.7h.01M254.3 419.5h.01M177.7 421.8h.01M147.7 376.6h.01M241.9 482.3h.01M256.4 438.1h.01M177.1 469.2h.01M220.3 408.7h.01M175.4 394.0h.01M168.3 397.5h.01M227.6 485.3h.01M149.0 457.7h.01M204.6 454.2h.01M255.9 446.9h.01M164.1 458.4h.01M267.2 403.1h.01M151.6 414.5h.01M246.6 390.0h.01M189.4 403.0h.01M177.0 458.4h.01M172.4 439.8h.01M142.6 467.2h.01M177.7 398.0h.01M244.7 433.6h.01M242.8 393.7h.01M229.1 411.3h.01M179.5 406.0h.01M263.2 425.8h.01M173.7 433.7h.01M155.1 496.0h.01M162.4 382.5h.01M200.0 500.4h.01M195.8 423.1h.01M160.9 397.8h.01M267.9 479.9h.01M269.6 378.1h.01M179.4 411.0h.01M223.7 441.0h.01M144.6 415.6h.01M240.6 470.2h.01M249.0 422.6h.01M256.5 498.4h.01M200.8 493.4h.01M251.5 379.9h.01M212.0 442.9h.01M154.5 489.2h.01M243.9 389.5h.01M161.6 462.9h.01M188.7 449.4h.01M165.7 457.0h.01M212.0 418.5h.01M254.7 391.7h.01M164.9 394.6h.01M154.4 375.7h.01M227.7 381.5h.01M226.9 390.8h.01M217.5 393.9h.01M233.8 479.4h.01M151.5 412.5h.01M145.3 382.5h.01M149.9 497.4h.01M145.6 459.8h.01M203.6 480.5h.01M213.1 455.7h.01M182.6 421.0h.01M199.6 394.3h.01M199.7 467.7h.01M211.5 469.3h.01M237.2 413.6h.01M220.0 455.3h.01M175.2 413.2h.01M265.4 474.4h.01M265.2 412.1h.01M172.4 471.2h.01M244.1 450.0h.01M232.4 414.3h.01M224.6 466.3h.01M219.8 417.4h.01M235.5 472.8h.01M206.7 423.8h.01M225.1 441.9h.01M159.4 465.4h.01M188.0 378.5h.01M190.8 411.3h.01M164.5 478.9h.01M248.5 444.4h.01M144.8 466.7h.01M238.6 407.2h.01M177.3 402.0h.01M153.9 442.4h.01M226.1 489.1h.01M187.4 424.8h.01M175.0 483.9h.01M228.3 430.2h.01M157.9 393.2h.01M186.6 413.0h.01M269.5 435.2h.01M158.0 487.6h.01M240.5 438.3h.01M247.6 488.5h.01M250.7 485.1h.01M268.8 473.7h.01M178.2 465.7h.01M187.9 382.5h.01M203.4 428.1h.01M216.6 404.1h.01M157.2 418.1h.01M228.3 472.5h.01M267.4 397.1h.01M262.4 421.4h.01M248.2 404.8h.01M144.1 446.2h.01M165.0 435.1h.01M239.8 389.7h.01M171.0 397.7h.01M256.0 447.2h.01M181.1 404.2h.01M231.7 418.2h.01M261.4 419.2h.01M179.9 500.7h.01M174.6 458.5h.01M181.1 395.9h.01M186.2 416.1h.01M188.1 386.2h.01M212.7 471.9h.01M176.7 461.6h.01M185.6 491.1h.01M209.1 455.5h.01M223.1 466.5h.01M259.6 502.4h.01M207.3 381.5h.01M224.1 501.0h.01M232.8 401.5h.01M260.1 469.6h.01M230.7 392.1h.01M254.4 503.3h.01M229.4 436.7h.01M237.2 435.3h.01M224.8 486.8h.01M264.0 407.4h.01M236.3 431.6h.01M253.3 499.4h.01M235.3 489.1h.01M181.0 419.1h.01M212.8 417.7h.01M197.9 393.8h.01M194.3 378.6h.01M245.2 464.3h.01M226.3 411.1h.01M177.3 444.8h.01M181.2 430.7h.01M165.9 446.6h.01M237.4 379.3h.01M216.3 410.9h.01M183.1 449.0h.01M148.6 382.9h.01M194.8 398.3h.01M226.5 384.5h.01M212.1 423.1h.01M188.5 459.3h.01M251.2 441.3h.01M150.7 445.8h.01M146.1 387.7h.01M238.9 435.7h.01M191.2 490.5h.01M189.9 389.4h.01M150.8 394.0h.01M255.8 503.4h.01M189.9 415.4h.01M144.6 458.1h.01M183.8 415.9h.01M162.9 385.8h.01M144.1 423.6h.01M248.3 409.9h.01M190.2 481.8h.01M156.9 495.1h.01M231.5 488.9h.01M146.5 420.0h.01M143.1 436.8h.01M171.4 450.8h.01M203.1 383.1h.01M183.9 377.4h.01M251.1 395.1h.01M191.5 458.9h.01M145.6 457.8h.01M176.6 393.9h.01M147.8 394.1h.01M173.9 455.6h.01M157.7 493.0h.01M257.3 442.6h.01M231.9 399.8h.01M160.8 411.5h.01M185.1 416.9h.01M265.7 421.9h.01M270.5 484.7h.01M239.6 392.2h.01M261.5 466.3h.01M211.3 395.0h.01M237.7 473.4h.01M232.4 491.4h.01M206.8 455.9h.01M236.0 426.3h.01M180.3 411.4h.01M143.6 490.1h.01M268.4 380.1h.01M218.5 427.2h.01M251.4 407.5h.01M189.0 496.4h.01M212.7 392.5h.01M218.5 437.1h.01M232.7 419.6h.01M148.9 478.3h.01M231.0 468.9h.01M220.6 417.2h.01M143.0 469.3h.01M161.3 411.0h.01M156.0 406.6h.01M232.1 479.0h.01M158.3 394.4h.01M268.7 463.9h.01M248.3 422.0h.01M262.0 414.8h.01M165.1 472.7h.01M215.0 430.0h.01M159.8 470.3h.01M172.0 404.1h.01M182.4 492.6h.01M148.5 457.4h.01M206.0 382.0h.01M210.7 391.1h.01M218.9 429.1h.01M247.3 392.1h.01M160.6 376.1h.01M161.8 500.4h.01M231.3 421.8h.01M157.2 449.6h.01M269.6 452.4h.01M146.8 385.0h.01M265.5 479.8h.01M266.3 396.9h.01M232.4 442.7h.01M270.3 488.0h.01M154.1 411.6h.01M205.8 380.7h.01M224.1 398.0h.01M247.4 379.8h.01M157.9 380.9h.01M182.7 401.5h.01M270.7 495.5h.01M189.8 393.3h.01M192.9 491.2h.01M262.5 437.8h.01M163.0 425.6h.01M165.7 393.9h.01M221.5 436.2h.01M252.3 468.0h.01M183.6 385.3h.01M236.7 458.3h.01M266.9 498.1h.01M200.3 374.3h.01M233.7 470.2h.01M217.4 503.0h.01M234.3 492.5h.01M254.9 443.6h.01M178.1 484.2h.01M244.5 399.7h.01M209.4 481.0h.01M235.4 412.9h.01M260.0 383.1h.01M224.1 423.5h.01M229.6 434.3h.01M255.6 477.3h.01M231.8 375.2h.01M240.4 461.2h.01M185.5 436.7h.01M156.9 421.7h.01M243.6 388.3h.01M179.1 391.4h.01M253.1 422.9h.01M266.9 380.0h.01M229.0 417.7h.01M222.1 486.7h.01M263.1 428.4h.01M241.6 494.4h.01M206.1 490.0h.01M180.6 437.7h.01M226.9 430.5h.01M155.6 502.1h.01M147.7 447.4h.01M207.2 436.6h.01M269.4 431.4h.01M157.8 408.7h.01M161.1 470.7h.01M164.7 484.6h.01M204.5 478.0h.01M210.2 427.4h.01M163.8 432.0h.01M255.2 445.0h.01M203.5 483.6h.01M252.2 377.3h.01M215.3 412.2h.01M216.2 392.0h.01M263.6 475.1h.01M260.6 460.4h.01M248.1 432.1h.01M186.5 406.3h.01M171.7 424.0h.01M188.1 442.8h.01M163.7 496.5h.01M178.8 388.0h.01M217.5 416.9h.01M191.6 400.9h.01M258.1 374.1h.01M193.9 498.9h.01M242.7 424.7h.01M264.3 502.9h.01M172.1 420.0h.01M158.0 478.1h.01M270.2 447.1h.01M147.1 459.3h.01M168.7 429.9h.01M176.8 429.3h.01M172.4 464.6h.01M161.1 453.3h.01M221.6 392.5h.01M194.2 406.3h.01M175.3 455.4h.01M165.3 413.7h.01M259.6 494.7h.01M181.3 386.5h.01M220.7 470.8h.01M145.5 392.1h.01M187.4 385.7h.01M248.4 503.2h.01M181.0 397.2h.01M196.5 462.2h.01M178.1 389.4h.01M212.8 442.2h.01M171.4 420.8h.01M149.8 437.3h.01M246.1 434.2h.01M227.4 406.7h.01M230.5 388.9h.01M171.9 378.7h.01M258.1 472.8h.01M142.4 492.2h.01M216.6 434.5h.01M198.3 458.6h.01M233.0 480.9h.01M162.3 436.9h.01M240.7 463.8h.01M217.2 437.1h.01M241.9 460.7h.01M178.6 473.1h.01M164.7 466.3h.01M188.7 425.1h.01M222.9 401.0h.01M194.3 374.3h.01M227.5 431.9h.01M175.0 461.2h.01M212.0 403.9h.01M236.3 480.0h.01M253.2 445.0h.01M189.3 464.4h.01M269.1 384.1h.01M144.9 387.5h.01M155.8 486.3h.01M181.4 380.8h.01M164.5 405.5h.01M193.6 379.0h.01M226.9 394.7h.01M199.4 401.7h.01M244.4 501.6h.01M215.6 428.8h.01M230.5 473.1h.01M154.1 397.8h.01M232.5 426.7h.01M261.1 444.3h.01M199.1 394.0h.01M210.7 421.6h.01M268.4 381.5h.01M198.9 478.8h.01M198.8 390.2h.01M163.0 438.7h.01M144.6 403.9h.01M219.3 458.4h.01M201.5 496.3h.01M247.4 503.8h.01M156.6 461.3h.01M177.6 469.2h.01M170.4 379.6h.01M158.5 374.9h.01M238.8 468.8h.01M161.6 460.3h.01M140.8 499.9h.01M153.6 423.6h.01M196.0 396.2h.01M225.1 415.7h.01M196.9 455.4h.01M267.3 415.5h.01M144.8 427.4h.01M203.2 446.6h.01M230.4 480.2h.01M240.2 473.9h.01M242.8 441.5h.01M252.6 395.5h.01M164.8 459.5h.01M156.5 489.9h.01M258.5 436.8h.01M256.4 375.9h.01M140.9 422.9h.01M233.7 467.9h.01M164.1 491.4h.01M197.7 455.2h.01M224.1 402.6h.01M229.6 451.9h.01M181.0 429.6h.01M188.6 427.6h.01M249.9 477.2h.01M258.7 453.4h.01M233.7 417.8h.01M215.1 444.1h.01M178.8 437.6h.01M182.3 493.0h.01M150.7 447.3h.01M161.6 472.5h.01M187.0 385.5h.01M256.7 437.6h.01M218.5 421.1h.01M163.6 489.7h.01M259.1 503.4h.01M214.6 441.6h.01M176.1 389.8h.01M255.4 397.0h.01M168.9 456.1h.01M226.2 402.7h.01M195.8 379.4h.01M176.0 475.3h.01M236.7 449.6h.01M254.9 490.5h.01M173.5 459.8h.01M206.2 477.0h.01M156.3 448.1h.01M254.8 454.2h.01M158.2 485.0h.01M185.6 391.7h.01M183.3 403.3h.01M259.4 390.1h.01M263.5 426.1h.01M166.3 436.3h.01M214.2 467.7h.01M188.0 498.9h.01M142.9 381.3h.01M203.0 472.9h.01M221.5 418.2h.01M217.6 399.2h.01M251.4 431.7h.01M218.8 428.9h.01M162.7 499.5h.01M267.6 439.1h.01M226.1 446.6h.01M265.2 446.4h.01M253.8 398.2h.01M142.7 492.1h.01M179.5 391.7h.01M182.3 392.7h.01M221.6 407.5h.01M215.5 446.0h.01M267.0 434.4h.01M247.5 399.6h.01M269.8 385.5h.01M252.0 400.7h.01M268.4 412.5h.01M264.2 472.7h.01M228.9 398.5h.01M230.0 447.3h.01M140.9 383.6h.01M149.0 472.8h.01M264.4 394.5h.01M199.3 411.7h.01M235.4 383.3h.01M237.2 503.0h.01M142.1 477.0h.01M220.5 420.4h.01M177.8 386.8h.01M174.2 410.8h.01M185.2 389.8h.01M234.6 474.5h.01M245.9 403.0h.01M244.9 453.9h.01M219.6 415.1h.01M219.2 420.3h.01M216.1 400.5h.01M244.1 406.6h.01M189.6 383.1h.01M201.6 481.4h.01M174.0 448.3h.01M198.3 392.1h.01M234.4 437.1h.01M154.6 394.6h.01M230.9 452.8h.01M213.1 404.2h.01M269.7 497.4h.01M233.3 463.3h.01M213.0 441.2h.01M155.1 492.0h.01M234.0 412.5h.01M237.2 406.2h.01M156.6 457.3h.01M154.9 425.4h.01M246.8 443.8h.01M225.4 501.6h.01M247.3 406.6h.01M145.6 461.1h.01M253.8 415.6h.01M226.3 482.1h.01M244.0 436.3h.01M167.1 407.9h.01M155.7 501.9h.01M228.4 497.4h.01M178.1 437.3h.01M154.0 466.6h.01M230.7 434.3h.01M194.0 419.3h.01M192.4 392.5h.01M199.5 469.6h.01M177.0 504.1h.01M184.4 431.6h.01M267.7 421.2h.01M221.8 434.7h.01M237.5 397.9h.01M249.9 396.0h.01M143.6 383.0h.01M171.0 394.1h.01M242.5 500.0h.01M216.8 390.9h.01M227.6 431.8h.01M241.3 397.0h.01M157.3 384.1h.01M187.1 413.6h.01M236.4 431.8h.01M258.8 483.9h.01M141.6 457.6h.01M143.8 422.2h.01M142.1 476.9h.01M194.2 379.4h.01M212.3 403.9h.01M241.9 477.0h.01M141.7 485.6h.01M168.5 447.0h.01M199.0 480.9h.01M226.4 439.4h.01M205.7 427.2h.01M189.1 378.8h.01M249.5 390.9h.01M232.7 424.4h.01M149.7 389.2h.01M240.4 504.1h.01M178.1 404.6h.01M229.1 383.0h.01M196.3 374.2h.01M144.5 451.1h.01M244.7 403.9h.01M240.9 394.3h.01M176.7 468.4h.01M219.1 480.0h.01M156.8 379.0h.01M262.0 462.7h.01M173.7 430.3h.01M267.7 386.8h.01M223.5 388.7h.01M239.9 454.5h.01M270.4 472.7h.01M157.5 428.9h.01M243.0 395.1h.01M264.8 469.4h.01M254.3 433.1h.01M192.0 471.8h.01M173.4 452.4h.01M247.0 444.5h.01M179.1 389.7h.01M161.8 388.5h.01M153.9 434.7h.01M154.4 475.3h.01M242.9 435.3h.01M185.4 434.6h.01M259.7 401.2h.01M254.9 433.5h.01M168.8 407.3h.01M144.2 416.1h.01M207.5 461.2h.01M167.1 426.6h.01M152.2 499.8h.01M229.3 412.7h.01M181.3 409.4h.01M247.1 467.4h.01M153.6 484.1h.01M224.7 497.8h.01M244.3 379.5h.01M205.9 466.5h.01M248.9 488.0h.01M199.4 378.1h.01M149.8 447.0h.01M159.7 418.8h.01M248.1 403.8h.01M251.2 382.5h.01M150.0 379.7h.01M246.7 466.5h.01M254.6 383.7h.01M212.8 469.6h.01M245.1 389.3h.01M222.6 431.2h.01M252.4 502.6h.01M209.8 488.9h.01M229.3 385.5h.01M202.0 437.2h.01M239.4 383.3h.01M153.4 493.5h.01M176.3 402.6h.01M167.2 487.5h.01M255.8 375.9h.01M247.6 377.0h.01M187.0 472.2h.01M249.1 429.0h.01M166.7 463.3h.01M227.9 434.4h.01M259.2 397.5h.01M158.3 404.4h.01M186.3 497.2h.01M243.2 481.5h.01M172.2 382.2h.01M221.3 434.1h.01M223.5 426.0h.01M208.1 431.2h.01M239.9 395.1h.01M186.7 440.4h.01M146.5 496.8h.01M199.9 453.6h.01M219.7 501.6h.01M209.7 471.0h.01M244.1 374.6h.01M178.3 488.0h.01M227.4 426.6h.01M166.0 501.1h.01M171.9 487.1h.01M148.2 426.1h.01M241.2 445.2h.01M154.5 406.9h.01M208.7 426.4h.01M148.4 396.4h.01M225.9 444.0h.01M254.5 441.2h.01M163.1 405.4h.01M229.4 472.4h.01M199.1 467.0h.01M173.1 486.6h.01M265.8 455.9h.01M209.8 461.3h.01M177.7 383.5h.01M220.0 443.5h.01M150.3 487.9h.01M264.9 435.2h.01M225.2 425.4h.01M217.3 441.1h.01M221.3 379.6h.01M178.2 441.2h.01M169.9 486.8h.01M237.1 388.9h.01M174.4 494.8h.01M243.9 473.8h.01M255.0 385.4h.01M188.0 410.2h.01M141.1 495.3h.01M247.6 470.1h.01M250.6 436.0h.01M247.1 455.1h.01M199.3 430.8h.01M258.1 404.1h.01M248.3 385.1h.01M226.8 502.3h.01M162.8 395.0h.01M261.9 386.5h.01M209.4 484.8h.01M241.5 432.7h.01M154.0 489.7h.01M153.3 457.3h.01M247.0 472.0h.01M143.9 383.2h.01M248.5 415.0h.01M152.0 463.4h.01M214.7 461.9h.01M141.4 375.1h.01M247.9 450.5h.01M221.2 385.6h.01M156.8 426.6h.01M227.2 479.0h.01M205.4 494.9h.01M228.4 380.9h.01M237.9 487.8h.01M184.3 374.7h.01M212.6 489.4h.01M154.9 392.0h.01M175.7 455.5h.01M252.6 428.4h.01M262.7 402.4h.01M177.3 465.5h.01M157.1 421.7h.01M246.3 395.5h.01M234.8 471.3h.01M176.2 398.4h.01M199.5 387.9h.01M153.5 397.8h.01M192.0 379.6h.01M257.9 481.7h.01M232.7 469.7h.01M145.8 502.5h.01M209.5 430.7h.01M145.2 402.9h.01M199.1 402.5h.01M256.9 457.1h.01M193.7 392.2h.01M177.9 392.5h.01M262.8 418.4h.01M141.7 502.6h.01M171.1 475.5h.01M220.8 416.0h.01M219.5 453.1h.01M246.9 436.2h.01M225.2 489.9h.01M171.8 473.0h.01M169.3 426.8h.01M223.2 422.3h.01M232.2 478.4h.01M245.4 462.8h.01M209.4 484.5h.01M180.7 386.0h.01M232.0 499.8h.01M263.2 381.5h.01M171.0 492.7h.01M262.6 414.6h.01M161.3 501.7h.01M220.1 378.4h.01M228.1 385.9h.01M207.9 479.7h.01M159.1 408.2h.01M258.0 474.7h.01M186.2 438.1h.01M185.0 389.6h.01M210.0 481.3h.01M229.4 421.4h.01M219.1 471.9h.01M175.3 489.8h.01M243.8 494.9h.01M262.7 467.5h.01M159.3 452.8h.01M163.0 468.2h.01M248.1 500.6h.01M140.5 394.9h.01M266.0 455.8h.01M234.1 469.9h.01M220.6 392.4h.01M162.1 429.1h.01M155.7 489.9h.01M243.7 447.6h.01M151.3 461.6h.01M140.6 490.3h.01M176.5 460.3h.01M240.4 492.5h.01M188.3 460.3h.01M167.9 488.5h.01M255.1 434.2h.01M190.4 465.3h.01M152.2 439.0h.01M229.1 418.9h.01M145.9 486.8h.01M174.2 442.0h.01M157.4 428.2h.01M249.4 377.8h.01M146.1 436.8h.01M169.2 400.4h.01M205.8 464.3h.01M228.1 472.0h.01M235.1 408.2h.01M219.0 398.0h.01M213.4 468.9h.01M162.2 409.0h.01M183.9 470.7h.01M262.3 442.3h.01M189.3 375.2h.01M229.9 390.0h.01M190.3 503.4h.01M207.4 486.9h.01M170.9 503.6h.01M261.1 396.7h.01M225.2 497.8h.01M264.2 472.1h.01M188.8 498.4h.01M234.0 478.8h.01M267.8 412.9h.01M142.6 379.6h.01M174.2 467.4h.01M261.7 402.4h.01M214.1 428.7h.01M266.0 471.1h.01M188.1 390.3h.01M253.9 434.3h.01M243.9 455.9h.01M236.4 457.3h.01M188.8 445.9h.01M232.1 439.4h.01M184.2 419.9h.01M197.2 487.3h.01M142.0 472.3h.01M233.9 376.5h.01M148.9 408.8h.01M229.3 400.5h.01M210.7 410.5h.01M242.4 449.8h.01M253.6 399.2h.01M188.2 473.2h.01M245.1 422.5h.01M248.2 385.6h.01M231.1 478.0h.01M240.6 428.6h.01M204.6 496.0h.01M184.7 381.3h.01M161.4 429.2h.01M147.8 432.3h.01M168.9 433.1h.01M221.6 460.7h.01M222.6 409.8h.01M237.8 435.4h.01M268.6 425.9h.01M157.4 401.5h.01M165.3 499.1h.01M167.4 468.6h.01M183.6 384.0h.01M189.3 465.5h.01M198.9 488.0h.01M222.8 429.8h.01M175.1 394.3h.01M245.5 429.7h.01M222.7 426.5h.01M162.6 378.7h.01M143.6 374.9h.01M161.6 429.7h.01M144.7 414.7h.01M227.7 449.3h.01M165.9 436.0h.01M168.3 416.5h.01M237.0 477.0h.01M208.9 416.7h.01M179.9 489.1h.01M157.8 415.1h.01M192.5 476.8h.01M150.5 491.3h.01M217.4 393.1h.01M222.2 491.0h.01M182.7 429.0h.01M186.7 420.0h.01M262.7 439.3h.01M167.1 465.9h.01M200.9 438.3h.01M237.6 466.3h.01M252.4 399.5h.01M183.7 454.9h.01M248.7 407.8h.01M232.8 495.1h.01M141.3 486.8h.01M188.8 427.2h.01M231.1 496.7h.01M151.8 427.2h.01M218.8 415.5h.01M154.9 492.9h.01M185.7 458.1h.01M141.1 434.5h.01M185.7 438.6h.01M217.0 420.6h.01M177.0 399.8h.01M199.8 415.3h.01M233.7 487.9h.01M161.0 501.6h.01M165.9 394.9h.01M231.6 409.7h.01M212.1 487.6h.01M146.7 487.7h.01M149.8 429.1h.01M199.0 399.8h.01M194.0 405.3h.01M141.5 484.2h.01M245.0 397.0h.01M163.9 476.5h.01M214.4 379.7h.01M232.8 495.7h.01M212.4 482.5h.01M243.0 409.9h.01M232.8 402.1h.01M223.0 458.7h.01M184.9 393.5h.01M164.4 483.5h.01M185.6 389.8h.01M155.8 442.4h.01M189.3 449.1h.01M191.0 455.0h.01M231.5 425.0h.01M173.2 377.4h.01M217.5 422.4h.01M213.2 403.1h.01M144.8 464.7h.01M222.7 446.4h.01M262.0 378.2h.01M156.3 387.6h.01M156.3 384.9h.01M165.0 494.8h.01M262.6 501.5h.01M219.0 474.3h.01M260.1 471.5h.01M224.2 495.5h.01M183.5 421.1h.01M231.9 484.1h.01M186.2 484.0h.01M246.6 456.5h.01M146.3 374.9h.01M166.1 394.2h.01M191.6 471.1h.01M173.6 472.8h.01M163.5 416.9h.01M254.8 486.9h.01M204.3 494.7h.01M178.5 496.4h.01M238.4 406.7h.01M190.9 448.6h.01M157.4 422.3h.01M245.5 500.8h.01M184.3 499.0h.01M226.2 392.1h.01M213.7 378.4h.01M252.3 390.1h.01M254.9 386.3h.01M165.8 431.4h.01M185.1 418.8h.01M220.3 419.7h.01M151.2 491.1h.01M145.7 392.6h.01M186.3 453.8h.01M221.4 410.6h.01M208.6 462.3h.01M224.9 416.5h.01M219.5 402.5h.01M175.5 420.6h.01M258.0 430.2h.01M258.2 417.8h.01M217.2 500.6h.01M225.5 427.1h.01M175.3 394.3h.01M185.3 440.3h.01M225.4 424.4h.01M244.5 421.2h.01M157.8 377.7h.01M153.6 478.0h.01M223.1 470.0h.01M247.1 436.0h.01M213.0 497.4h.01M255.0 397.0h.01M152.7 396.1h.01M177.7 476.1h.01M207.5 405.3h.01M205.2 484.2h.01M185.9 432.3h.01M181.2 404.0h.01M182.8 500.8h.01M177.7 413.9h.01M154.3 416.9h.01M231.9 448.8h.01M226.3 501.6h.01M162.5 418.6h.01M209.7 492.6h.01M231.7 491.2h.01M268.9 466.3h.01M226.3 394.5h.01M176.5 482.0h.01M159.7 463.6h.01M197.5 400.3h.01M226.9 484.5h.01M216.5 427.0h.01M255.3 389.5h.01M157.4 502.4h.01M159.7 396.6h.01M161.1 460.8h.01M262.4 396.2h.01M240.1 432.6h.01M149.6 444.0h.01M242.0 394.7h.01M217.8 480.1h.01M144.9 476.7h.01M258.2 460.2h.01M217.0 475.7h.01M212.4 411.3h.01M240.6 409.8h.01M185.7 393.6h.01M270.4 414.0h.01M230.8 399.3h.01M243.5 436.3h.01M266.0 503.1h.01M257.5 433.7h.01M262.3 492.8h.01M262.2 439.0h.01M146.8 483.9h.01M183.1 411.0h.01M189.3 487.2h.01M223.1 446.4h.01M254.9 493.6h.01M179.5 486.2h.01M229.5 415.9h.01M153.2 432.1h.01M140.2 487.7h.01M239.1 429.4h.01M191.4 412.2h.01M244.3 443.4h.01M148.3 387.2h.01M163.6 461.3h.01M174.9 401.0h.01M218.1 483.1h.01M237.4 393.7h.01M187.4 435.9h.01M260.6 487.5h.01M262.3 452.4h.01M181.1 452.9h.01M155.1 393.1h.01M223.6 458.7h.01M197.6 394.6h.01M190.7 411.7h.01M253.2 441.2h.01M260.4 380.9h.01M269.6 444.2h.01M212.2 418.5h.01M177.8 403.7h.01M149.1 483.3h.01M188.5 451.1h.01M267.6 378.9h.01M153.6 491.7h.01M171.3 395.3h.01M227.3 417.9h.01M209.5 493.9h.01M191.2 498.5h.01M146.6 439.0h.01M235.4 490.2h.01M245.6 391.3h.01M163.8 377.9h.01M253.0 434.8h.01M224.2 397.5h.01M157.0 500.9h.01M254.8 412.0h.01M196.4 400.3h.01M220.2 402.0h.01M173.2 397.5h.01M261.8 487.5h.01M252.6 407.2h.01M170.7 461.2h.01M241.4 378.1h.01M207.9 494.2h.01M239.7 423.3h.01M144.9 494.0h.01M164.5 448.1h.01M215.0 418.0h.01M259.5 435.8h.01M165.6 497.8h.01M263.8 466.0h.01M221.7 375.3h.01M244.4 438.4h.01M258.8 460.6h.01M266.8 380.7h.01M147.4 466.4h.01M243.9 376.6h.01" stroke="#a0a4dc" stroke-width="1.9" stroke-linecap="round" opacity="0.8" fill="none" filter="url(#bl3)"/>
<path d="M171.6 386.7h.01M171.9 455.3h.01M268.2 461.9h.01M256.9 434.2h.01M238.3 500.4h.01M259.8 455.0h.01M260.9 386.9h.01M157.5 460.1h.01M202.7 384.7h.01M179.2 417.4h.01M150.8 418.3h.01M167.0 385.0h.01M238.9 419.8h.01M195.4 383.8h.01M174.3 491.6h.01M203.7 375.8h.01M268.1 483.6h.01M174.6 408.3h.01M197.4 408.4h.01M206.4 426.2h.01M269.2 431.0h.01M163.5 498.9h.01M247.2 431.3h.01M219.2 467.3h.01M155.8 417.9h.01M146.3 374.1h.01M237.5 500.2h.01M197.3 449.1h.01M145.4 480.7h.01M222.5 458.4h.01M233.4 384.4h.01M239.5 416.1h.01M246.1 407.7h.01M202.6 495.3h.01M177.6 443.8h.01M200.6 438.3h.01M164.3 487.8h.01M150.3 405.3h.01M246.5 423.2h.01M232.9 414.9h.01M224.4 434.4h.01M203.2 460.0h.01M252.8 502.0h.01M186.9 456.8h.01M254.2 443.4h.01M182.4 376.5h.01M227.6 473.9h.01M220.7 406.5h.01M219.7 438.9h.01M192.7 397.7h.01M175.9 500.9h.01M183.4 383.5h.01M191.0 390.3h.01M181.2 433.9h.01M181.7 478.5h.01M168.0 404.8h.01M161.2 468.6h.01M196.8 484.6h.01M258.6 432.3h.01M152.8 443.6h.01M191.0 415.8h.01M217.6 442.5h.01M153.5 389.4h.01M252.8 397.9h.01M245.3 459.7h.01M171.7 385.8h.01M152.8 445.6h.01M166.6 392.3h.01M220.9 382.2h.01M187.3 439.1h.01M229.9 411.4h.01M146.7 479.1h.01M173.7 391.2h.01M263.5 377.9h.01M223.5 405.6h.01M159.3 388.4h.01M254.6 411.6h.01M266.0 492.8h.01M230.4 387.7h.01M159.0 377.9h.01M179.8 414.0h.01M156.2 387.8h.01M236.9 500.9h.01M163.7 417.2h.01M165.3 475.3h.01M225.3 444.8h.01M223.7 452.0h.01M224.3 411.8h.01M193.3 499.3h.01M183.2 390.0h.01M142.8 385.8h.01M189.6 466.9h.01M223.3 477.9h.01M252.2 493.9h.01M176.3 451.4h.01M247.7 390.2h.01M251.6 447.4h.01M219.6 498.2h.01M173.6 385.4h.01M243.7 435.3h.01M181.8 394.4h.01M154.7 396.5h.01M270.4 450.8h.01M266.6 457.3h.01M151.2 400.5h.01M172.3 495.7h.01M242.3 433.4h.01M166.2 408.7h.01M268.3 459.9h.01M154.6 494.3h.01M184.8 479.4h.01M187.4 383.7h.01M220.0 408.3h.01M213.5 393.5h.01M234.8 402.0h.01M263.5 400.5h.01M211.1 391.5h.01M169.2 394.2h.01M241.6 485.4h.01M232.2 396.1h.01M232.9 425.2h.01M226.6 430.8h.01M179.4 443.8h.01M153.1 419.4h.01M148.2 467.2h.01M222.3 392.3h.01M160.9 453.1h.01M258.4 426.2h.01M170.9 379.3h.01M185.2 503.3h.01M178.5 493.3h.01M156.9 456.0h.01M167.9 386.4h.01M250.5 387.4h.01M178.4 442.5h.01M169.2 419.4h.01M262.7 488.9h.01M262.6 378.1h.01M235.2 462.9h.01M142.7 397.8h.01M244.4 428.2h.01M259.2 411.7h.01M172.4 375.7h.01M141.8 382.7h.01M241.1 435.0h.01M161.8 412.6h.01M245.5 432.9h.01M234.9 465.7h.01M248.3 464.2h.01M226.1 399.9h.01M248.4 474.6h.01M239.0 440.0h.01M188.6 421.0h.01M215.2 437.7h.01M141.8 455.3h.01M189.1 503.6h.01M228.8 494.4h.01M192.7 482.4h.01M267.4 416.7h.01M196.7 451.8h.01M159.9 454.6h.01M247.3 437.8h.01M192.8 450.3h.01M157.4 490.0h.01M237.0 494.2h.01M166.1 487.1h.01M179.0 393.7h.01M213.3 502.1h.01M189.4 428.2h.01M164.9 404.1h.01M227.4 498.9h.01M203.1 400.4h.01M238.0 404.0h.01M260.3 503.8h.01M255.0 440.2h.01M180.8 442.3h.01M158.9 410.0h.01M222.2 486.2h.01M205.9 472.3h.01M229.8 406.8h.01" stroke="#6e72c0" stroke-width="1.4" stroke-linecap="round" opacity="0.6" fill="none"/>
</g>
<g clip-path="url(#c20)">
<rect x="275.0" y="239.5" width="130.6" height="130.2" fill="#e3e1df"/>
<rect x="275.0" y="239.5" width="130.6" height="130.2" filter="url(#gLavL)" opacity="0.5"/>
<ellipse cx="303.0" cy="269.5" rx="26" ry="20" fill="#dcc6aa" opacity="0.6" transform="rotate(20 303.0 269.5)" filter="url(#bl40)"/>
<ellipse cx="343.0" cy="277.5" rx="30" ry="26" fill="#dcc6aa" opacity="0.65" transform="rotate(0 343.0 277.5)" filter="url(#bl40)"/>
<ellipse cx="393.0" cy="291.5" rx="14" ry="26" fill="#dcc6aa" opacity="0.6" transform="rotate(10 393.0 291.5)" filter="url(#bl40)"/>
<ellipse cx="335.0" cy="334.5" rx="40" ry="14" fill="#dccdb8" opacity="0.35" transform="rotate(0 335.0 334.5)" filter="url(#bl40)"/>
<rect x="275.0" y="239.5" width="130.6" height="130.2" filter="url(#p2a)" opacity="0.8"/>
<rect x="275.0" y="239.5" width="130.6" height="130.2" filter="url(#gTan)" opacity="0.3"/>
<rect x="275.0" y="239.5" width="130.6" height="130.2" filter="url(#gWhite)" opacity="0.45"/>
<path d="M325.0,261.5L335.0,269.5L341.0,284.5" fill="none" stroke="#f4f1ec" stroke-width="4" opacity="0.6" stroke-linecap="round" stroke-linejoin="round" filter="url(#bl10)"/>
<path d="M345.0,287.5L355.0,279.5L367.0,274.5" fill="none" stroke="#f4f1ec" stroke-width="4" opacity="0.6" stroke-linecap="round" stroke-linejoin="round" filter="url(#bl10)"/>
<path d="M337.0,294.5L345.0,301.5L355.0,297.5" fill="none" stroke="#f4f1ec" stroke-width="4" opacity="0.6" stroke-linecap="round" stroke-linejoin="round" filter="url(#bl10)"/>
<path d="M387.0,279.5L389.0,291.5L385.0,301.5L378.0,301.5" fill="none" stroke="#f4f1ec" stroke-width="4.5" opacity="0.7" stroke-linecap="round" stroke-linejoin="round" filter="url(#bl10)"/>
<path d="M291.0,269.5L300.0,263.5" fill="none" stroke="#f4f1ec" stroke-width="3.5" opacity="0.5" stroke-linecap="round" stroke-linejoin="round" filter="url(#bl10)"/>
<path d="M286.4 315.5h.01M326.9 358.6h.01M355.3 307.5h.01M397.5 276.7h.01M385.8 294.5h.01M363.3 365.6h.01M380.4 318.2h.01M380.2 242.7h.01M331.0 351.4h.01M373.3 298.2h.01M305.0 284.7h.01M331.1 254.5h.01M397.4 323.9h.01M344.2 263.2h.01M317.1 293.2h.01M294.0 283.0h.01M322.8 335.4h.01M393.5 240.7h.01M292.9 350.8h.01M276.3 273.1h.01M348.6 308.8h.01M303.4 337.6h.01M368.1 240.2h.01M368.0 288.6h.01M339.3 314.6h.01M360.0 344.0h.01M298.6 264.3h.01M301.8 263.2h.01M378.1 351.4h.01M322.4 329.0h.01M378.4 351.7h.01M375.6 315.3h.01M379.3 281.8h.01M352.6 274.8h.01M327.8 288.9h.01M340.0 239.7h.01M332.1 304.2h.01M393.8 331.8h.01M294.7 290.6h.01M373.7 250.4h.01M387.9 245.6h.01M363.0 313.1h.01M400.1 287.6h.01M315.3 262.9h.01M311.2 280.8h.01M350.6 275.8h.01M298.5 352.3h.01M284.0 364.0h.01M308.7 339.1h.01M370.9 363.8h.01M375.6 240.7h.01M374.3 365.7h.01M377.9 307.1h.01M281.2 242.4h.01M307.1 333.5h.01M295.3 312.5h.01M373.1 313.4h.01M370.3 343.7h.01M369.5 240.4h.01M361.4 314.3h.01M382.2 273.1h.01M293.7 246.1h.01M333.8 260.7h.01M375.8 315.4h.01M324.1 283.8h.01M286.8 256.7h.01M391.3 261.6h.01M345.0 314.0h.01M373.1 261.0h.01M326.5 257.0h.01M290.1 288.3h.01M344.3 281.5h.01M325.9 312.1h.01M278.9 350.5h.01M277.4 291.9h.01M368.3 240.5h.01M294.3 242.2h.01M293.0 315.4h.01M372.2 365.3h.01M344.4 354.0h.01M329.4 308.2h.01M400.1 243.0h.01M393.9 278.7h.01M332.4 361.4h.01M332.1 359.4h.01M362.7 258.7h.01M402.5 243.4h.01M365.1 281.2h.01M400.8 271.2h.01M298.9 272.5h.01M368.0 291.4h.01M354.5 358.3h.01M368.3 346.9h.01M310.7 250.6h.01M341.6 262.8h.01M374.2 311.1h.01M352.9 267.2h.01M326.9 347.4h.01M358.2 282.4h.01M347.0 307.1h.01M386.0 322.8h.01M288.5 251.1h.01M303.7 346.7h.01M324.3 239.9h.01M359.1 297.4h.01M305.0 248.9h.01M367.3 308.3h.01M396.4 266.2h.01M322.5 347.7h.01M369.9 269.0h.01M307.6 333.1h.01M329.5 239.5h.01M335.4 359.9h.01M340.0 291.6h.01M324.1 250.0h.01M388.7 257.6h.01M330.1 300.2h.01M310.6 245.6h.01M281.3 354.3h.01M397.6 310.2h.01M403.4 352.6h.01M364.3 265.1h.01M304.3 243.8h.01M370.8 241.9h.01M395.5 326.1h.01M386.6 299.3h.01M386.5 297.9h.01M316.1 354.7h.01M279.1 342.1h.01M346.9 354.2h.01M388.3 250.2h.01M325.5 302.0h.01M353.5 251.3h.01M388.2 247.5h.01M278.7 357.2h.01M343.8 356.4h.01M320.1 367.1h.01M397.3 256.2h.01M318.0 249.1h.01M347.4 251.5h.01M372.6 272.1h.01M392.4 294.0h.01M309.7 267.8h.01M388.8 296.3h.01M371.9 293.4h.01M374.5 259.5h.01M369.4 255.6h.01M404.6 252.7h.01M359.1 246.6h.01M280.0 348.8h.01M401.2 243.5h.01M319.2 287.0h.01M282.1 292.1h.01M323.3 292.0h.01M366.3 294.9h.01M279.8 323.7h.01M303.1 300.6h.01M364.7 243.6h.01M398.1 364.3h.01M338.6 255.9h.01M334.1 340.7h.01M366.3 356.5h.01M375.6 342.0h.01M368.9 280.2h.01M305.6 345.1h.01M351.3 282.4h.01M387.7 245.0h.01M389.6 259.8h.01M346.1 311.2h.01M357.1 241.3h.01M357.4 249.0h.01M295.0 277.6h.01M395.8 264.3h.01M370.2 350.9h.01M385.5 316.2h.01M339.1 289.1h.01M317.7 310.3h.01M392.3 336.8h.01M284.6 340.9h.01M276.8 350.8h.01M292.0 244.5h.01M361.6 260.8h.01M344.1 292.4h.01M287.1 259.1h.01M380.3 360.5h.01M400.6 365.2h.01M396.1 246.0h.01M328.2 368.3h.01M388.0 361.6h.01M318.2 255.0h.01M296.3 276.0h.01M287.5 301.8h.01M305.2 289.5h.01M322.0 366.9h.01M399.8 336.0h.01M362.6 266.1h.01M384.6 313.9h.01M295.3 351.7h.01M352.6 290.8h.01M299.2 332.2h.01M289.4 257.6h.01M389.0 262.9h.01M369.0 296.9h.01M335.7 314.8h.01M361.0 258.0h.01M387.5 247.9h.01M374.8 318.4h.01M317.5 362.8h.01M367.7 284.2h.01M392.5 345.9h.01M285.6 255.8h.01M338.8 321.4h.01M373.4 368.6h.01M391.6 284.2h.01M355.6 305.0h.01M358.1 262.7h.01M318.3 310.6h.01M392.0 364.9h.01M399.8 319.4h.01M287.6 369.2h.01M355.4 302.8h.01M350.3 300.2h.01M369.0 366.1h.01M352.0 314.1h.01M381.5 262.2h.01M343.2 267.3h.01M307.2 369.6h.01M325.6 310.7h.01M315.5 295.8h.01M377.5 300.0h.01M339.1 342.8h.01M344.9 369.5h.01M351.3 299.3h.01M314.1 322.9h.01M395.9 246.6h.01M372.5 263.2h.01M326.8 249.1h.01M365.6 335.5h.01M325.4 281.3h.01M345.1 292.5h.01M325.6 272.4h.01M368.2 364.7h.01M304.9 328.2h.01M329.9 289.7h.01M392.3 348.4h.01M388.8 260.4h.01M330.8 287.2h.01M336.2 318.6h.01M297.4 301.3h.01M335.9 253.9h.01M282.0 326.7h.01M297.8 301.1h.01M371.3 281.0h.01M345.7 368.0h.01M343.7 251.0h.01M382.1 266.4h.01M350.7 253.6h.01M323.6 303.1h.01M313.7 314.6h.01M294.8 291.2h.01M346.8 314.8h.01M362.2 298.7h.01M383.6 346.0h.01M336.6 281.9h.01M336.4 283.3h.01M348.5 365.2h.01M317.5 350.3h.01M371.3 260.0h.01M319.3 344.2h.01M343.1 333.2h.01M296.4 363.8h.01M284.2 239.6h.01M358.1 352.8h.01M322.9 338.3h.01M341.6 263.0h.01M289.3 325.2h.01M358.5 259.2h.01M347.4 240.3h.01M352.1 313.5h.01M357.3 350.3h.01M280.7 277.5h.01M389.3 296.5h.01M323.5 297.7h.01M290.6 301.6h.01M402.5 326.9h.01M364.1 240.0h.01M352.0 298.3h.01M301.2 323.1h.01M320.1 306.9h.01M383.8 256.8h.01M309.9 276.5h.01M313.9 331.5h.01M282.2 274.1h.01M285.4 310.2h.01M323.8 247.0h.01M284.7 288.2h.01M405.4 247.2h.01M329.6 320.9h.01M360.8 299.0h.01M303.1 283.1h.01M326.6 295.9h.01M368.4 241.1h.01M366.1 264.2h.01M365.8 339.6h.01M281.5 356.0h.01M387.6 247.8h.01M356.3 368.6h.01M401.9 281.6h.01M302.3 251.3h.01M403.4 358.7h.01M299.0 313.4h.01M329.8 360.1h.01M304.8 364.0h.01M298.3 263.2h.01M292.3 327.7h.01M280.9 291.3h.01M311.3 312.0h.01M308.8 330.8h.01M366.6 256.8h.01M342.7 349.5h.01M324.1 317.8h.01M342.7 240.3h.01M314.8 260.7h.01M375.6 299.7h.01M371.8 339.6h.01M323.9 273.0h.01M345.9 307.3h.01M384.8 360.1h.01M383.8 267.7h.01M301.0 296.4h.01M310.7 360.9h.01M338.6 239.8h.01M309.2 271.2h.01M317.9 313.7h.01M295.8 357.2h.01M392.3 251.7h.01M355.1 255.9h.01M339.1 260.1h.01M308.7 364.6h.01M332.7 285.0h.01M297.5 297.1h.01M354.9 331.3h.01M373.6 306.5h.01M276.3 273.6h.01M294.7 355.9h.01M290.9 248.2h.01M307.2 320.6h.01M288.0 305.7h.01M345.6 262.9h.01M363.3 356.3h.01M382.9 293.5h.01M395.3 326.4h.01M376.3 282.1h.01M324.0 361.7h.01M359.6 276.7h.01M303.5 309.9h.01M276.8 265.3h.01M329.2 286.0h.01M294.2 289.0h.01M316.1 269.4h.01M333.8 352.7h.01M327.3 341.8h.01M291.7 358.8h.01M347.9 287.3h.01M314.7 291.8h.01M305.7 252.1h.01M275.0 330.8h.01M381.9 276.6h.01M275.5 347.2h.01M404.7 309.7h.01M308.2 339.4h.01M320.6 273.6h.01M349.5 345.0h.01M315.9 274.4h.01M333.3 308.3h.01M400.8 284.6h.01M337.1 353.9h.01M389.0 256.9h.01M346.5 277.0h.01M279.9 248.6h.01M356.1 244.6h.01M283.3 320.9h.01M310.2 297.9h.01M351.8 290.1h.01M276.7 342.2h.01M283.3 315.6h.01M332.9 333.7h.01M317.7 331.7h.01M339.5 284.6h.01M310.2 283.5h.01M277.4 315.3h.01M381.9 298.5h.01M373.4 366.2h.01M291.6 360.3h.01M367.2 268.7h.01M399.5 320.9h.01M391.0 265.0h.01M323.4 332.8h.01M286.1 289.9h.01M377.9 357.5h.01M287.4 241.1h.01M277.0 263.3h.01M377.3 255.2h.01M379.2 300.6h.01M303.9 348.9h.01M398.9 355.7h.01M295.6 258.0h.01M330.3 353.1h.01M302.3 350.3h.01M324.0 326.6h.01M287.5 320.4h.01M334.2 264.4h.01M354.1 257.9h.01M297.2 275.2h.01M379.2 330.0h.01M285.7 242.2h.01M339.3 300.4h.01M307.6 351.4h.01M275.7 328.7h.01M324.0 337.4h.01M287.0 355.6h.01M352.7 242.5h.01M319.4 355.0h.01M280.0 316.6h.01M358.2 348.7h.01M292.6 286.9h.01M329.0 332.4h.01M366.9 312.4h.01M348.4 327.7h.01M301.1 266.8h.01M366.4 254.9h.01M325.1 268.2h.01M400.1 295.5h.01M401.5 271.0h.01M338.3 282.6h.01M330.2 288.2h.01M350.7 311.0h.01M376.2 240.3h.01M290.4 360.7h.01M326.5 263.1h.01M364.6 288.4h.01M319.3 302.8h.01M398.7 277.9h.01M377.7 289.5h.01M373.7 273.1h.01M312.8 300.4h.01M321.0 364.9h.01M368.2 247.4h.01M288.1 369.6h.01M293.0 263.2h.01M321.5 286.4h.01M297.0 319.1h.01M318.8 334.5h.01M278.7 276.5h.01M287.2 301.6h.01M366.1 339.7h.01M373.1 356.0h.01M333.0 359.8h.01M365.4 334.8h.01M326.3 266.9h.01M298.1 242.3h.01M378.7 291.2h.01M296.3 348.3h.01M360.8 250.9h.01M329.6 250.3h.01M329.6 321.9h.01M283.2 269.3h.01M336.4 361.0h.01M398.4 316.9h.01M387.5 259.0h.01M329.9 335.5h.01M310.6 279.1h.01M319.5 363.8h.01M328.9 324.3h.01M340.1 319.5h.01M348.9 246.6h.01M397.1 298.4h.01M385.3 300.5h.01M281.2 365.1h.01M398.4 318.7h.01M315.2 354.6h.01M308.6 366.7h.01M313.7 368.9h.01M278.3 356.8h.01M398.8 263.4h.01M299.4 355.8h.01M389.8 333.4h.01M323.2 346.8h.01M371.3 257.8h.01M372.6 273.1h.01M321.1 254.5h.01M328.9 333.7h.01M319.5 360.5h.01M322.9 256.5h.01M394.2 282.4h.01M296.4 333.0h.01M360.8 343.3h.01M332.5 319.7h.01M401.9 327.4h.01M378.0 340.1h.01" stroke="#7c7ec4" stroke-width="1.1" stroke-linecap="round" opacity="0.65" fill="none"/>
</g>
<g clip-path="url(#c21)">
<rect x="275.0" y="374.0" width="130.6" height="130.2" fill="#e4d8ca"/>
<ellipse cx="295.0" cy="434.0" rx="22" ry="50" fill="#d8c2a8" opacity="0.7" transform="rotate(10 295.0 434.0)" filter="url(#bl40)"/>
<ellipse cx="330.0" cy="429.0" rx="18" ry="45" fill="#d8c2a8" opacity="0.6" transform="rotate(15 330.0 429.0)" filter="url(#bl40)"/>
<ellipse cx="375.0" cy="414.0" rx="30" ry="28" fill="#d8c2a8" opacity="0.6" transform="rotate(0 375.0 414.0)" filter="url(#bl40)"/>
<ellipse cx="370.0" cy="469.0" rx="30" ry="25" fill="#d8c2a8" opacity="0.6" transform="rotate(0 370.0 469.0)" filter="url(#bl40)"/>
<ellipse cx="285.0" cy="499.0" rx="25" ry="12" fill="#eeeae4" opacity="0.8" transform="rotate(0 285.0 499.0)" filter="url(#bl40)"/>
<rect x="275.0" y="374.0" width="130.6" height="130.2" filter="url(#p2b)" opacity="0.6"/>
<rect x="275.0" y="374.0" width="130.6" height="130.2" filter="url(#gWhite)" opacity="0.35"/>
<path d="M311.0,394.0L315.0,434.0L320.0,474.0L323.0,499.0" fill="none" stroke="#f3efe8" stroke-width="4" opacity="0.75" stroke-linecap="round" stroke-linejoin="round" filter="url(#bl10)"/>
<path d="M343.0,389.0L350.0,424.0L357.0,454.0" fill="none" stroke="#f3efe8" stroke-width="3.5" opacity="0.7" stroke-linecap="round" stroke-linejoin="round" filter="url(#bl10)"/>
<path d="M333.0,394.0L337.0,414.0" fill="none" stroke="#f3efe8" stroke-width="3" opacity="0.6" stroke-linecap="round" stroke-linejoin="round" filter="url(#bl10)"/>
<path d="M370.0,384.0L385.0,399.0L400.0,409.0" fill="none" stroke="#f3efe8" stroke-width="3.5" opacity="0.6" stroke-linecap="round" stroke-linejoin="round" filter="url(#bl10)"/>
<path d="M350.0,452.0L370.0,444.0L390.0,464.0L385.0,489.0" fill="none" stroke="#f3efe8" stroke-width="3.5" opacity="0.6" stroke-linecap="round" stroke-linejoin="round" filter="url(#bl10)"/>
<path d="M370.0,414.0L387.0,419.0L403.0,416.0" fill="none" stroke="#f3efe8" stroke-width="3.5" opacity="0.6" stroke-linecap="round" stroke-linejoin="round" filter="url(#bl10)"/>
<path d="M281.8 385.4h.01M328.2 388.0h.01M392.7 379.0h.01M345.0 417.3h.01M386.3 394.8h.01M319.0 417.5h.01M307.0 374.2h.01M332.0 385.4h.01M353.0 383.1h.01M316.2 432.4h.01M393.2 386.1h.01M293.6 476.9h.01M277.8 492.6h.01M349.9 408.5h.01M384.4 474.1h.01M319.9 478.4h.01M302.0 453.3h.01M343.8 479.4h.01M316.2 425.9h.01M375.5 440.8h.01M364.4 457.1h.01M362.1 489.9h.01M338.5 461.0h.01M323.9 378.1h.01M373.5 397.6h.01M382.1 493.0h.01M360.9 396.2h.01M319.0 424.9h.01M284.6 433.5h.01M349.9 417.8h.01M299.7 385.5h.01M357.1 375.7h.01M321.0 403.8h.01M344.5 468.2h.01M393.7 457.2h.01M404.5 499.5h.01M357.3 404.4h.01M338.2 397.1h.01M404.5 431.9h.01M373.2 379.7h.01M292.6 399.2h.01M308.5 419.8h.01M310.5 430.5h.01M329.9 388.1h.01M283.2 420.2h.01M286.6 430.4h.01M276.1 443.8h.01M284.6 464.4h.01M327.8 502.3h.01M309.3 435.5h.01M373.1 417.6h.01M320.5 457.2h.01M401.6 489.1h.01M329.7 467.4h.01M363.7 422.4h.01M305.7 384.2h.01M389.8 381.4h.01M342.7 444.0h.01M294.1 459.4h.01M394.6 475.1h.01M325.8 390.5h.01M402.3 441.3h.01M357.2 478.5h.01M325.4 382.1h.01M292.8 461.0h.01M320.6 487.4h.01M371.7 501.7h.01M362.3 413.6h.01M378.3 377.7h.01M343.1 487.5h.01M342.2 391.9h.01M340.3 445.0h.01M323.2 490.3h.01M319.4 409.4h.01M341.1 400.5h.01M317.1 425.8h.01M397.5 384.5h.01M300.7 400.0h.01M405.0 490.0h.01M300.4 447.5h.01M286.1 415.3h.01M319.6 444.0h.01M396.4 479.3h.01M344.8 476.3h.01M338.2 469.1h.01M376.5 407.4h.01M383.8 449.2h.01M338.5 425.5h.01M304.3 439.3h.01M291.5 456.6h.01M392.3 476.9h.01M354.6 438.4h.01M365.9 389.9h.01M281.8 486.2h.01M322.3 461.1h.01M330.0 420.7h.01M375.6 418.7h.01M373.4 480.8h.01M298.6 501.2h.01M283.2 428.0h.01M340.4 482.0h.01M297.8 446.8h.01M323.1 494.0h.01M291.0 408.6h.01M382.1 416.0h.01M398.3 380.7h.01M325.7 388.0h.01M349.9 499.4h.01M317.4 458.2h.01M309.7 431.2h.01M349.6 406.3h.01M365.2 439.2h.01M393.3 409.8h.01M399.7 397.7h.01M277.6 460.0h.01M370.8 436.1h.01M280.6 504.0h.01M293.5 487.3h.01M391.4 402.8h.01M387.8 434.3h.01M392.5 489.6h.01M376.1 411.6h.01M350.8 501.8h.01M316.9 424.3h.01M364.9 382.2h.01M308.1 395.9h.01M329.3 429.3h.01M354.3 438.7h.01M296.5 380.1h.01M343.5 473.5h.01M396.1 483.3h.01M314.5 486.7h.01M336.0 410.8h.01M287.0 431.6h.01M346.2 410.4h.01M300.5 496.5h.01M283.9 496.3h.01M328.1 477.1h.01M289.5 448.2h.01M374.5 430.8h.01M321.6 438.2h.01M300.4 401.6h.01M306.5 378.9h.01M393.8 383.6h.01M396.1 375.4h.01M360.7 445.2h.01M280.5 496.6h.01M370.4 488.5h.01M331.9 411.9h.01M299.3 388.7h.01M362.6 481.0h.01M302.7 377.4h.01M322.2 393.9h.01M304.4 402.9h.01M361.5 430.6h.01M348.2 424.8h.01M403.5 438.7h.01M280.6 392.1h.01M370.5 492.8h.01M291.5 433.9h.01M387.6 445.8h.01M277.3 441.8h.01M312.7 401.8h.01M397.3 387.8h.01M383.4 472.0h.01M352.4 416.3h.01M285.8 461.1h.01M400.3 397.4h.01M291.5 435.9h.01M386.2 374.7h.01M378.0 385.2h.01M279.2 393.1h.01M334.8 496.0h.01M361.4 381.8h.01M294.8 434.1h.01M286.8 461.0h.01M321.9 498.5h.01M382.1 480.4h.01M305.7 430.2h.01M362.7 385.6h.01M276.2 416.6h.01M327.3 476.5h.01M381.4 381.5h.01M283.4 494.4h.01M312.6 390.3h.01M378.5 476.2h.01M354.0 473.9h.01M387.3 485.1h.01M309.4 428.8h.01M403.6 421.9h.01M356.8 484.2h.01M389.5 452.5h.01M320.7 463.9h.01M275.4 419.6h.01M374.1 458.2h.01M285.4 467.7h.01M354.7 431.9h.01M288.7 451.6h.01M372.4 399.9h.01M357.9 383.2h.01M301.8 420.6h.01M376.6 410.9h.01M391.3 502.0h.01M296.3 377.5h.01M370.2 473.5h.01M392.7 461.6h.01M376.9 421.6h.01M288.2 504.2h.01M354.0 409.2h.01M391.6 383.6h.01M282.4 407.2h.01M292.0 427.5h.01M356.1 441.6h.01M347.3 389.5h.01M344.9 501.0h.01M318.1 478.1h.01M358.3 473.2h.01M360.9 431.2h.01M305.7 386.2h.01M289.8 387.1h.01M375.2 483.0h.01M381.8 489.2h.01M321.9 461.8h.01M382.1 391.2h.01M275.0 401.3h.01M394.6 479.2h.01M291.9 484.3h.01M297.8 408.7h.01M297.0 489.1h.01M383.1 382.5h.01" stroke="#aeb0da" stroke-width="3.0" stroke-linecap="round" opacity="0.65" fill="none" filter="url(#bl6)"/>
<path d="M400.5 445.4h.01M298.1 499.7h.01M329.4 476.5h.01M279.1 395.5h.01M401.4 480.2h.01M277.8 435.7h.01M330.6 403.8h.01M288.2 415.1h.01M293.5 398.9h.01M387.8 420.4h.01M313.6 425.9h.01M288.9 491.2h.01M342.0 460.2h.01M404.1 388.6h.01M349.2 436.4h.01M375.4 453.0h.01M333.2 391.2h.01M344.6 477.0h.01M398.8 433.3h.01M341.9 478.3h.01M333.5 426.7h.01M371.2 488.9h.01M375.6 495.2h.01M297.6 443.2h.01M283.0 496.1h.01M305.7 442.3h.01M365.5 435.2h.01M336.7 435.5h.01M350.7 457.4h.01M370.0 435.2h.01M327.5 394.7h.01M277.8 414.7h.01M399.6 435.5h.01M295.2 435.8h.01M370.9 481.9h.01M323.0 453.2h.01M282.2 483.1h.01M326.1 388.7h.01M301.8 480.1h.01M391.1 400.2h.01M401.3 403.2h.01M284.2 378.1h.01M296.3 467.5h.01M349.3 493.2h.01M302.1 396.0h.01M386.8 436.4h.01M336.6 473.0h.01M275.2 380.9h.01M286.5 420.4h.01M287.0 443.4h.01M329.7 421.0h.01M308.4 430.9h.01M374.5 498.3h.01M402.9 376.2h.01M357.2 470.2h.01M396.2 445.4h.01M306.0 431.5h.01M398.8 391.6h.01M341.5 422.1h.01M317.6 384.3h.01M334.1 450.1h.01M379.7 498.8h.01M316.1 411.4h.01M293.7 441.9h.01M377.3 459.5h.01M333.5 498.5h.01M399.5 491.5h.01M318.6 465.1h.01M280.8 455.9h.01M309.4 441.1h.01M405.2 412.2h.01M309.8 461.5h.01M291.7 409.5h.01M381.5 389.5h.01M375.9 428.7h.01M330.0 491.9h.01M330.1 382.6h.01M351.0 429.4h.01M379.1 442.6h.01M376.3 469.1h.01M360.2 482.2h.01M362.2 386.6h.01M295.4 385.7h.01M341.0 497.6h.01M305.7 386.2h.01M299.2 453.7h.01M388.3 487.0h.01M285.1 394.0h.01M336.0 430.3h.01M391.6 424.4h.01M385.6 490.1h.01M390.6 375.6h.01M361.4 422.5h.01M396.3 493.4h.01M286.0 389.0h.01M337.5 443.1h.01M294.4 378.1h.01M292.8 413.7h.01M286.0 429.0h.01M322.8 423.4h.01M356.1 421.5h.01M284.8 435.4h.01M382.1 475.3h.01M356.5 476.6h.01M403.0 402.4h.01M350.5 436.7h.01M367.5 498.9h.01M288.5 500.3h.01M331.9 375.5h.01M325.2 456.0h.01M363.5 503.0h.01M357.7 473.4h.01M298.6 388.1h.01M332.1 409.3h.01M352.0 450.3h.01M331.7 464.0h.01M373.9 456.7h.01M295.0 413.5h.01M340.4 470.4h.01M309.4 451.7h.01M294.3 461.9h.01M381.6 439.7h.01M282.1 409.3h.01M402.4 453.9h.01M356.0 497.2h.01M349.5 461.0h.01M388.4 449.3h.01M370.0 388.7h.01M388.5 498.6h.01M293.3 377.2h.01M356.5 411.5h.01M339.5 434.9h.01M275.7 408.0h.01M392.5 433.6h.01M344.8 495.5h.01M295.2 427.3h.01M328.7 472.2h.01M335.0 493.1h.01M385.8 488.6h.01M309.8 432.9h.01M276.1 455.6h.01M289.8 431.9h.01M351.0 491.7h.01M295.9 387.1h.01M357.8 378.0h.01M288.2 380.1h.01M398.1 451.3h.01M336.1 407.4h.01M308.1 452.8h.01M350.2 423.0h.01M296.1 430.8h.01M326.9 435.0h.01M331.8 395.8h.01M367.3 444.9h.01M283.8 435.7h.01M318.5 483.7h.01M306.4 490.0h.01M389.5 403.5h.01M395.9 433.9h.01M404.2 391.5h.01M294.1 390.7h.01M362.5 471.2h.01M313.3 389.9h.01M390.6 443.3h.01M297.4 427.0h.01M387.1 441.9h.01M292.1 450.1h.01M363.3 418.4h.01M360.2 379.2h.01M384.8 468.6h.01M357.1 422.4h.01M340.7 407.7h.01M303.3 424.9h.01M374.7 415.6h.01M288.6 377.6h.01M357.4 427.1h.01M291.2 424.0h.01M321.9 455.5h.01M388.0 403.9h.01M363.4 439.8h.01M347.9 413.7h.01M397.5 496.3h.01M389.7 422.4h.01M332.0 482.7h.01M319.4 468.8h.01M374.1 443.3h.01M331.9 398.9h.01M375.5 472.6h.01M342.0 421.7h.01M353.6 390.0h.01M304.6 399.6h.01M326.7 478.4h.01M293.1 454.8h.01M372.0 498.0h.01M287.9 473.5h.01M313.4 388.3h.01M285.9 454.4h.01M391.2 412.2h.01M314.1 486.0h.01M316.4 422.1h.01" stroke="#8c8ec8" stroke-width="1.4" stroke-linecap="round" opacity="0.55" fill="none"/>
</g>
<g clip-path="url(#c30)">
<rect x="409.2" y="239.5" width="130.6" height="130.2" fill="#e8e1da"/>
<rect x="409.2" y="239.5" width="130.6" height="130.2" filter="url(#m3a)"/>
<rect x="409.2" y="239.5" width="130.6" height="130.2" filter="url(#gTan2)" opacity="1.0"/>
<rect x="409.2" y="239.5" width="130.6" height="130.2" filter="url(#gLav)" opacity="0.65"/>
<rect x="409.2" y="239.5" width="130.6" height="130.2" filter="url(#gWhite)" opacity="0.45"/>
<ellipse cx="419.2" cy="309.5" rx="10" ry="40" fill="#f0ece8" opacity="0.5" transform="rotate(0 419.2 309.5)" filter="url(#bl40)"/>
<path d="M463.1 292.6h.01M526.4 356.4h.01M449.3 350.0h.01M534.3 348.3h.01M412.5 367.1h.01M443.1 343.5h.01M431.5 314.6h.01M461.6 329.3h.01M509.6 349.5h.01M517.7 353.3h.01M490.2 308.7h.01M511.3 320.4h.01M513.1 289.2h.01M534.1 355.5h.01M434.8 343.0h.01M480.8 318.2h.01M513.8 327.2h.01M496.6 354.4h.01M429.0 248.3h.01M446.6 286.2h.01M426.3 245.0h.01M472.2 351.5h.01M510.8 298.9h.01M523.1 316.2h.01M485.0 247.5h.01M450.6 289.2h.01M419.9 287.1h.01M487.3 250.3h.01M444.7 340.4h.01M461.4 324.4h.01M429.6 266.0h.01M512.2 338.6h.01M423.4 320.4h.01M510.0 338.1h.01M506.8 343.4h.01M459.4 319.2h.01M443.6 310.4h.01M507.2 350.5h.01M505.6 328.4h.01M423.7 357.5h.01M459.6 352.2h.01M418.6 316.9h.01M473.6 365.2h.01M508.9 305.6h.01M505.2 299.5h.01M533.1 261.4h.01M530.8 358.6h.01M447.2 333.8h.01M517.1 331.0h.01M529.6 309.4h.01M470.9 365.3h.01M475.2 320.8h.01M516.7 252.0h.01M442.7 324.8h.01M450.7 345.2h.01M477.1 359.8h.01M472.6 267.0h.01M496.0 253.1h.01M503.1 286.9h.01M448.7 260.1h.01M471.8 331.8h.01M504.3 350.2h.01M468.9 329.9h.01M480.2 242.1h.01M467.1 327.9h.01M419.5 255.7h.01M535.0 332.9h.01M450.2 271.6h.01M527.4 323.4h.01M469.1 326.8h.01M525.9 245.4h.01M430.3 254.6h.01M523.2 247.1h.01M416.4 360.3h.01M436.0 242.5h.01M538.2 331.9h.01M458.9 348.2h.01M527.6 243.1h.01M487.8 349.4h.01M530.2 345.1h.01M500.6 338.8h.01M476.9 360.0h.01M429.5 298.8h.01M416.5 339.7h.01M512.4 310.7h.01M477.2 363.5h.01M461.7 319.2h.01M509.9 248.5h.01M444.8 286.2h.01M492.9 287.2h.01M411.3 269.3h.01M482.2 306.6h.01M538.6 365.2h.01M428.3 348.4h.01M419.4 241.4h.01M513.7 347.6h.01M510.4 362.3h.01M421.5 316.2h.01M427.8 248.7h.01M518.3 261.4h.01M482.7 332.4h.01M532.4 315.7h.01M536.8 240.0h.01M435.7 329.8h.01M470.5 358.3h.01M494.6 361.9h.01M442.7 362.2h.01M458.8 289.9h.01M514.2 263.8h.01M516.0 244.2h.01M511.8 296.1h.01M423.4 279.3h.01M527.5 294.1h.01M474.4 247.0h.01M503.2 252.8h.01M417.8 306.1h.01M471.8 282.2h.01M498.5 264.7h.01M537.9 356.2h.01M488.2 284.2h.01" stroke="#6a5a80" stroke-width="1.0" stroke-linecap="round" opacity="0.6" fill="none"/>
</g>
<g clip-path="url(#c31)">
<rect x="409.2" y="374.0" width="130.6" height="130.2" fill="#efe9e1"/>
<rect x="409.2" y="374.0" width="130.6" height="130.2" filter="url(#m3b)"/>
<rect x="409.2" y="374.0" width="130.6" height="130.2" filter="url(#p3b)"/>
<ellipse cx="494.2" cy="399.0" rx="40" ry="22" fill="#ddb580" opacity="0.25" transform="rotate(0 494.2 399.0)" filter="url(#bl40)"/>
<path d="M473.7 436.8h.01M509.6 479.2h.01M453.4 445.0h.01M490.3 466.4h.01M533.3 470.9h.01M523.3 460.4h.01M443.7 411.2h.01M410.1 439.6h.01M429.9 411.2h.01M428.7 374.9h.01M509.5 416.2h.01M494.5 491.9h.01M447.1 449.2h.01M426.0 389.3h.01M500.8 385.1h.01M538.2 407.0h.01M523.9 499.6h.01M418.6 426.1h.01M473.9 404.2h.01M442.1 425.1h.01M471.1 409.0h.01M488.3 444.7h.01M480.9 378.7h.01M528.1 425.5h.01M461.8 397.5h.01M445.6 451.4h.01M464.7 494.5h.01M470.2 421.9h.01M518.7 479.9h.01M535.1 485.0h.01M484.1 482.1h.01M428.0 387.1h.01M409.9 461.0h.01M513.0 400.2h.01M507.6 405.7h.01M519.9 395.2h.01M445.9 413.5h.01M469.9 475.2h.01M475.2 481.5h.01M418.4 457.8h.01M418.0 384.2h.01M464.0 487.2h.01M497.4 467.4h.01M432.7 495.8h.01M527.4 448.3h.01M514.9 441.9h.01M516.1 427.2h.01M484.4 408.0h.01M495.4 443.9h.01M510.9 498.8h.01M525.0 458.3h.01M501.1 390.0h.01M410.8 396.9h.01M483.7 418.2h.01M455.2 407.0h.01M489.2 403.2h.01M445.6 374.0h.01M523.3 413.2h.01M508.0 403.9h.01M492.1 448.6h.01M454.8 449.0h.01M485.0 406.9h.01M470.9 391.4h.01M531.1 390.1h.01M414.0 451.6h.01M470.3 406.0h.01M430.9 483.0h.01M475.3 441.8h.01M464.8 495.9h.01M420.8 419.9h.01M452.8 420.8h.01M502.2 489.0h.01M498.1 400.9h.01M430.8 444.1h.01M496.7 446.9h.01M464.6 458.8h.01M470.4 398.3h.01M435.9 418.7h.01M449.1 405.2h.01M517.7 395.2h.01M409.8 452.8h.01M497.1 419.3h.01M463.9 421.0h.01M459.0 403.1h.01M538.8 446.2h.01M488.8 413.9h.01M524.4 390.3h.01M425.2 407.0h.01M472.4 447.7h.01M459.7 393.4h.01M528.1 431.9h.01M472.1 473.2h.01M466.4 390.8h.01M450.7 389.2h.01M518.4 382.4h.01M424.1 416.0h.01M495.0 399.7h.01M486.4 429.9h.01M508.2 406.5h.01M430.3 382.1h.01M498.8 496.6h.01M411.1 403.0h.01M448.5 442.3h.01M442.4 436.2h.01M493.8 380.1h.01M484.6 426.5h.01M413.0 387.8h.01M461.8 406.5h.01M525.5 393.4h.01M529.0 415.6h.01M531.4 407.8h.01M501.1 446.8h.01M508.6 394.7h.01M442.5 470.4h.01M445.8 476.3h.01M447.5 472.2h.01M419.8 477.1h.01M468.4 401.2h.01M491.9 455.9h.01M483.9 382.4h.01M443.2 462.4h.01M414.5 440.6h.01M470.1 409.0h.01M506.9 433.4h.01M463.5 430.0h.01M460.3 434.6h.01M468.3 493.9h.01M424.0 446.6h.01M488.6 426.7h.01M461.7 400.1h.01M432.3 461.0h.01M422.8 467.3h.01M493.4 388.1h.01M521.5 446.6h.01M475.7 401.7h.01M417.0 433.7h.01M533.9 393.1h.01M507.3 380.8h.01M451.0 379.2h.01M429.6 421.2h.01M486.5 380.3h.01M441.5 401.4h.01M424.4 443.5h.01M494.0 492.6h.01M525.3 497.0h.01M522.3 452.5h.01M416.3 479.1h.01M468.6 377.7h.01M447.1 449.2h.01M467.5 476.4h.01M498.5 461.6h.01M505.3 488.2h.01M467.6 415.8h.01M414.4 502.1h.01M530.6 481.6h.01M473.3 389.7h.01M471.8 439.5h.01M411.8 471.3h.01M438.3 462.1h.01M520.0 406.6h.01M459.7 383.5h.01M513.6 413.8h.01M505.2 389.2h.01M515.3 494.8h.01M537.1 439.4h.01M415.1 464.2h.01M481.2 483.2h.01M513.0 429.1h.01M513.0 429.4h.01M487.8 384.2h.01M528.6 461.6h.01M423.0 496.7h.01M468.7 393.5h.01M485.8 449.0h.01M480.9 461.7h.01M410.0 489.0h.01M416.4 446.9h.01M474.1 417.3h.01M441.8 402.2h.01M436.0 485.3h.01M484.4 501.6h.01M455.1 415.2h.01M488.6 496.3h.01M464.4 473.3h.01M512.5 385.8h.01M530.5 382.6h.01M458.9 378.9h.01M538.8 378.3h.01M476.3 377.7h.01M423.6 471.7h.01M416.1 375.7h.01M449.1 411.7h.01M427.5 476.3h.01M510.0 437.2h.01M523.1 379.4h.01M427.1 443.5h.01M442.4 488.4h.01M420.4 439.3h.01M420.5 417.9h.01M515.3 455.7h.01M418.5 453.2h.01M480.1 392.3h.01M494.6 377.7h.01M474.9 412.4h.01M449.3 413.6h.01M492.1 383.6h.01M483.1 404.7h.01M497.5 414.2h.01M463.3 386.4h.01M483.0 399.4h.01M495.5 453.1h.01M525.5 387.1h.01M445.5 500.7h.01M436.4 425.2h.01M457.6 492.8h.01M442.2 497.3h.01M532.4 457.3h.01M468.2 435.6h.01M441.0 426.4h.01M434.2 469.2h.01M495.6 394.2h.01M451.2 474.6h.01M410.1 456.5h.01M443.2 446.9h.01M527.6 485.3h.01M446.7 464.1h.01M413.3 495.1h.01M502.7 396.6h.01M415.4 476.3h.01M465.9 403.5h.01M412.7 468.6h.01M410.2 449.5h.01M474.2 396.4h.01M417.5 501.9h.01M442.8 473.5h.01M489.4 462.0h.01M423.9 374.2h.01M508.4 471.2h.01M422.1 442.0h.01M464.8 459.3h.01M505.4 477.1h.01M421.2 454.7h.01M443.0 393.7h.01M462.9 459.1h.01M437.2 458.7h.01M516.0 385.7h.01M484.2 437.1h.01M521.8 501.2h.01M484.9 487.6h.01M411.4 468.1h.01M478.2 411.9h.01M531.0 472.0h.01M470.8 435.0h.01M478.7 388.7h.01M439.7 463.4h.01M484.6 428.8h.01M424.1 439.3h.01M465.6 413.1h.01M486.3 377.5h.01M481.9 400.2h.01M478.6 476.9h.01M455.9 403.3h.01M463.8 490.7h.01M500.8 397.6h.01M468.4 475.7h.01M525.0 412.8h.01M423.6 421.3h.01M466.3 492.4h.01M412.3 425.2h.01M532.7 403.0h.01M417.6 476.1h.01M415.1 453.2h.01M442.1 492.1h.01M496.2 476.9h.01M463.6 437.1h.01M513.8 477.9h.01M418.3 453.4h.01M450.2 495.1h.01M479.6 376.2h.01M512.4 418.0h.01M494.8 464.5h.01M508.3 387.3h.01M460.6 412.3h.01M521.2 377.0h.01M440.4 492.5h.01M419.4 417.3h.01M528.8 382.5h.01M441.2 438.0h.01M450.6 405.1h.01M514.2 404.7h.01M523.1 413.4h.01M531.2 417.9h.01M507.5 468.9h.01M532.5 462.2h.01M417.8 382.1h.01M451.6 390.9h.01M504.0 453.2h.01M410.4 481.1h.01M448.8 444.3h.01M501.6 386.8h.01M505.5 469.0h.01M429.4 460.3h.01M535.4 421.2h.01M451.6 388.1h.01M421.2 480.5h.01M475.6 427.1h.01M478.8 500.9h.01M520.1 415.3h.01M509.6 393.3h.01M530.9 387.6h.01M447.9 401.5h.01M415.7 454.0h.01M412.6 404.1h.01M525.9 386.2h.01M484.3 467.8h.01M442.0 466.9h.01M522.6 451.6h.01M512.6 454.2h.01M422.3 384.3h.01M461.6 460.4h.01M435.1 418.7h.01M488.4 455.0h.01M470.1 454.0h.01M413.4 491.0h.01M537.6 420.5h.01M488.7 457.9h.01M413.9 485.1h.01M446.2 461.8h.01M490.4 383.6h.01M467.0 407.9h.01M409.3 415.8h.01M441.1 431.2h.01M448.6 390.6h.01M523.8 382.1h.01M464.7 405.9h.01M462.8 438.3h.01M440.0 485.3h.01M416.1 490.6h.01M411.3 462.7h.01M424.4 443.4h.01M476.3 463.2h.01M423.0 490.2h.01M465.7 433.0h.01M518.0 419.3h.01M459.9 435.8h.01M441.2 388.6h.01M466.2 452.6h.01M451.5 381.8h.01M445.7 460.2h.01M530.3 447.2h.01M511.9 436.3h.01M489.0 497.2h.01M457.3 385.6h.01M446.8 443.5h.01M421.6 478.2h.01M533.8 381.6h.01M418.0 388.9h.01M488.6 487.8h.01M466.5 395.4h.01M442.5 386.2h.01M494.8 493.2h.01M487.7 409.9h.01M532.6 424.6h.01M460.6 466.3h.01M493.0 407.3h.01M521.5 471.2h.01M413.3 466.7h.01M534.0 454.7h.01M529.7 481.2h.01M528.6 374.7h.01M514.3 450.4h.01M532.4 395.1h.01M459.0 407.0h.01M441.4 461.8h.01M482.0 472.5h.01M480.4 400.7h.01M506.2 423.4h.01M457.0 469.6h.01M478.5 375.9h.01M420.7 400.8h.01M536.8 404.1h.01M518.1 423.7h.01M476.9 495.2h.01M456.7 393.3h.01M436.1 384.8h.01M470.3 437.7h.01M418.5 472.3h.01M439.6 440.8h.01M461.3 418.9h.01M459.6 422.2h.01M527.0 406.3h.01M522.2 462.6h.01M467.2 421.0h.01M486.9 457.7h.01M533.1 455.3h.01M475.8 447.7h.01M454.8 485.8h.01M452.9 459.4h.01M516.9 492.6h.01M463.5 448.1h.01M432.5 435.2h.01M535.2 464.4h.01M462.2 438.1h.01M460.5 472.5h.01M427.7 446.2h.01M467.8 404.9h.01M464.1 405.9h.01M472.7 414.8h.01M539.5 483.5h.01M441.7 381.8h.01M493.5 427.5h.01M424.8 422.8h.01M472.4 407.2h.01M456.1 378.8h.01M470.0 484.9h.01M496.2 384.6h.01M459.8 473.6h.01M419.3 456.4h.01M436.7 464.6h.01M459.2 409.1h.01M525.3 447.8h.01M468.5 383.5h.01M496.0 459.9h.01M515.8 497.1h.01M501.9 378.7h.01M496.2 453.5h.01M410.0 460.9h.01M498.0 452.8h.01M441.0 411.9h.01M427.0 423.6h.01M456.6 381.8h.01M441.1 391.2h.01M438.1 492.0h.01M459.0 503.4h.01M504.4 473.0h.01M442.0 502.2h.01M503.5 498.7h.01M514.2 415.5h.01M449.4 453.3h.01M492.4 425.7h.01M411.3 460.1h.01M467.0 397.8h.01M480.9 473.8h.01M462.0 417.3h.01M443.9 419.2h.01M534.2 470.6h.01M433.2 462.6h.01M433.4 498.8h.01M432.3 374.2h.01M498.1 458.2h.01M530.3 477.7h.01M421.4 419.2h.01M448.8 492.8h.01M527.5 427.9h.01M462.1 484.6h.01M415.7 490.9h.01M466.4 502.3h.01M435.8 378.4h.01M481.2 398.3h.01M431.5 418.3h.01M515.6 475.8h.01M490.4 434.1h.01M448.5 502.1h.01M507.7 465.2h.01M482.8 377.6h.01M516.1 460.4h.01M469.4 469.2h.01M497.5 496.3h.01M432.8 436.3h.01M474.6 401.9h.01M499.7 459.8h.01M455.3 398.9h.01M457.5 393.8h.01M514.1 458.7h.01M453.6 454.3h.01M507.3 378.7h.01M499.8 489.1h.01M506.7 475.9h.01M527.6 482.1h.01M467.4 463.6h.01M497.6 463.4h.01M476.9 380.4h.01M443.5 428.1h.01M523.7 497.1h.01M522.5 467.0h.01M470.5 498.9h.01M519.8 395.4h.01M467.7 413.0h.01M502.5 397.7h.01M479.6 411.9h.01M433.9 409.1h.01M461.7 453.3h.01M470.8 500.5h.01M493.3 459.8h.01M422.2 475.2h.01M511.2 387.5h.01M417.9 454.4h.01M460.2 492.0h.01M526.5 385.9h.01M481.2 433.2h.01M415.7 472.1h.01M428.4 374.0h.01M514.9 461.9h.01M463.8 456.4h.01M494.3 400.9h.01M499.1 453.2h.01M424.3 479.2h.01M501.3 402.3h.01M538.9 490.4h.01M421.9 391.9h.01M491.0 464.5h.01M443.5 433.8h.01M523.2 417.1h.01M499.2 483.6h.01M517.7 451.3h.01M536.7 446.0h.01M470.7 469.3h.01M436.8 468.0h.01M411.4 494.7h.01M513.6 389.1h.01M535.3 503.2h.01M524.2 414.8h.01M446.2 435.3h.01M490.4 414.0h.01M528.7 444.6h.01M440.1 427.9h.01M522.9 424.3h.01M486.1 503.9h.01M469.5 448.9h.01M420.1 456.2h.01M532.0 409.9h.01M488.2 492.7h.01M426.6 380.9h.01M420.5 457.1h.01M422.7 388.8h.01M513.0 420.2h.01M495.4 500.0h.01M518.3 430.4h.01M448.7 390.0h.01M505.9 455.0h.01M488.5 491.1h.01M481.1 388.2h.01M446.5 414.5h.01M419.7 380.7h.01M454.0 488.4h.01M438.4 395.5h.01M533.1 421.9h.01M472.3 472.7h.01M505.2 470.2h.01M504.1 486.9h.01M421.1 489.3h.01M419.6 449.1h.01M534.5 486.6h.01M478.7 391.2h.01M471.5 424.9h.01M477.7 466.3h.01M457.7 415.3h.01M509.4 397.7h.01M510.4 451.5h.01M475.5 419.9h.01M502.0 405.2h.01M485.0 457.2h.01M411.4 393.8h.01M475.2 476.6h.01M501.3 492.6h.01M476.7 403.1h.01M424.7 476.6h.01M445.5 503.5h.01M492.2 432.7h.01M520.4 424.3h.01M440.8 403.8h.01M440.4 423.9h.01M433.8 501.5h.01M426.6 460.6h.01M511.8 469.6h.01M476.0 394.7h.01M509.4 500.7h.01M537.9 444.4h.01M428.1 459.9h.01M534.7 446.8h.01M502.0 442.5h.01M426.8 500.5h.01M457.1 442.1h.01M432.0 444.7h.01M460.8 449.5h.01M471.8 394.7h.01M519.5 468.6h.01M506.1 418.2h.01M485.9 498.1h.01M441.4 440.9h.01M527.3 394.1h.01M440.4 426.4h.01M456.1 434.9h.01M463.5 476.7h.01M467.4 490.6h.01M456.1 452.7h.01M514.3 483.0h.01M477.4 391.4h.01M497.2 418.8h.01M458.0 469.3h.01M493.1 470.0h.01M448.3 449.6h.01M471.6 417.4h.01M473.6 443.6h.01M415.1 407.1h.01M496.6 378.5h.01M469.9 455.9h.01M441.1 407.0h.01M425.0 412.2h.01M470.8 429.4h.01M432.9 426.1h.01M414.6 375.0h.01M439.9 431.2h.01M529.8 500.4h.01M433.8 423.2h.01M531.5 434.6h.01M506.2 468.8h.01M484.3 427.1h.01M425.0 471.1h.01M480.6 439.1h.01M536.9 454.3h.01M433.0 473.5h.01M456.1 465.1h.01M433.7 391.6h.01M522.3 481.6h.01M501.7 501.2h.01M493.4 420.1h.01M533.1 445.6h.01M507.2 398.1h.01M536.5 435.2h.01M476.6 450.5h.01M448.6 384.4h.01M533.5 387.1h.01M409.4 441.6h.01M411.9 404.8h.01M496.5 497.3h.01M471.9 389.0h.01M451.2 432.3h.01M478.4 478.5h.01M508.4 466.2h.01M493.7 499.8h.01M441.2 494.4h.01M425.3 393.1h.01M478.9 496.8h.01M519.6 437.9h.01M428.7 489.0h.01M473.2 473.5h.01M467.1 447.1h.01M453.5 412.0h.01M537.9 427.1h.01M506.3 436.1h.01M503.8 467.3h.01M416.5 470.0h.01M462.7 467.3h.01M437.6 443.0h.01M440.1 459.0h.01M413.7 472.7h.01M441.1 389.9h.01M455.0 497.2h.01M532.7 443.1h.01M420.7 454.1h.01M518.1 466.8h.01M484.5 501.1h.01M494.0 407.2h.01M437.4 455.6h.01M486.7 382.3h.01M465.2 408.4h.01M431.9 411.1h.01M461.0 377.8h.01M412.8 398.6h.01M490.4 489.7h.01M535.6 478.8h.01M436.7 460.2h.01M487.7 433.3h.01M449.8 479.4h.01M437.9 456.1h.01M469.8 398.3h.01M524.6 374.5h.01M517.7 434.7h.01M452.8 458.0h.01M428.5 464.6h.01M535.5 481.4h.01M492.5 398.0h.01M455.9 466.6h.01M498.4 470.3h.01M465.7 382.9h.01M476.9 495.5h.01M529.1 406.8h.01M508.5 470.7h.01M524.0 490.9h.01M447.3 463.5h.01M484.9 434.2h.01M480.3 463.2h.01M431.2 381.6h.01M428.7 464.1h.01M429.4 414.0h.01M518.8 393.1h.01M441.7 377.8h.01M478.8 388.3h.01M474.2 431.9h.01M496.5 487.8h.01M508.7 434.2h.01M437.1 469.0h.01M515.3 468.0h.01M443.7 452.8h.01M414.1 473.2h.01M455.4 401.8h.01M501.9 472.2h.01M535.4 477.5h.01M480.2 388.2h.01M422.5 425.4h.01M440.5 445.5h.01M531.8 496.5h.01M461.7 452.9h.01M456.8 462.5h.01M449.1 488.2h.01M439.7 469.8h.01M507.9 450.0h.01M432.9 477.6h.01M480.6 394.7h.01M423.9 453.3h.01M496.5 418.4h.01M510.0 457.0h.01M428.0 436.6h.01M531.7 477.2h.01M431.9 399.2h.01M467.2 414.6h.01M447.3 426.4h.01M450.4 390.9h.01M445.2 499.5h.01M518.3 386.9h.01M493.6 450.5h.01M487.9 374.3h.01M448.6 499.8h.01M526.8 451.4h.01M525.0 381.8h.01M412.5 389.1h.01M514.2 476.6h.01M456.1 490.3h.01M527.2 419.3h.01M489.0 442.4h.01M463.6 497.2h.01M492.1 501.4h.01M459.7 479.7h.01M527.5 419.2h.01M483.6 502.8h.01M500.9 420.1h.01M439.2 405.0h.01M521.9 483.4h.01M410.2 440.7h.01M448.4 481.9h.01M537.5 419.2h.01M466.2 480.2h.01M449.5 493.6h.01M483.0 376.3h.01M511.1 415.3h.01M496.1 459.1h.01M529.9 445.2h.01M470.1 391.5h.01M453.6 488.5h.01M436.5 428.0h.01M508.9 474.9h.01M449.3 452.4h.01M498.8 409.9h.01M451.8 490.0h.01M425.1 492.9h.01M532.3 374.8h.01M425.9 409.6h.01M463.6 478.9h.01M467.2 410.5h.01M484.9 481.6h.01M498.4 502.3h.01M532.9 376.1h.01M488.8 493.2h.01M441.8 463.2h.01M504.3 381.7h.01M419.1 440.8h.01M429.8 455.5h.01M497.0 503.6h.01M446.9 460.4h.01M485.3 376.9h.01M521.5 457.1h.01M447.1 399.8h.01M484.1 380.6h.01M474.4 393.6h.01M467.0 486.0h.01M526.9 383.9h.01M465.2 446.0h.01M442.0 383.4h.01M414.2 497.6h.01M506.2 417.4h.01M441.8 465.4h.01M461.4 380.9h.01M430.7 483.9h.01M442.8 483.1h.01M451.7 374.2h.01M455.9 427.4h.01M520.3 439.0h.01M427.6 400.3h.01M487.5 402.2h.01M485.4 480.2h.01M445.5 400.8h.01M522.0 450.1h.01M485.8 491.5h.01M510.8 438.0h.01M525.3 414.4h.01M496.4 430.8h.01M469.9 479.0h.01M435.4 468.6h.01M418.4 415.4h.01M508.4 411.8h.01M460.5 441.3h.01M465.8 464.9h.01M476.6 451.3h.01M457.4 444.9h.01M477.9 427.5h.01M466.6 484.7h.01M449.2 443.8h.01M435.2 385.1h.01M495.6 466.0h.01M429.1 403.6h.01M520.5 414.2h.01M482.9 498.7h.01M491.5 410.2h.01M487.6 455.1h.01M496.1 457.2h.01M467.1 389.9h.01M463.4 476.2h.01M536.8 385.2h.01M430.1 438.7h.01M460.6 422.3h.01M531.1 444.4h.01M498.1 441.0h.01M444.4 422.4h.01M435.7 439.8h.01M508.8 378.5h.01M502.4 374.7h.01M427.8 444.0h.01M524.1 466.1h.01M443.1 499.2h.01M446.5 421.9h.01M419.9 406.5h.01M425.7 403.4h.01M424.0 489.8h.01M481.7 462.0h.01M436.4 413.9h.01M465.9 497.3h.01M526.1 499.9h.01M429.6 482.5h.01M495.2 477.1h.01M517.0 404.2h.01M491.2 444.0h.01M500.1 448.7h.01M533.3 443.5h.01M425.9 469.7h.01M493.5 426.0h.01M466.7 468.3h.01M525.8 496.1h.01M479.7 440.7h.01M480.4 459.6h.01M484.6 488.2h.01M504.8 484.4h.01M538.8 399.3h.01M478.1 441.9h.01M442.9 429.5h.01M529.5 377.8h.01M438.3 410.1h.01M480.1 384.6h.01M449.5 409.2h.01M481.9 436.0h.01M515.0 492.9h.01M498.8 399.0h.01M499.3 458.7h.01M517.2 474.6h.01M472.4 479.7h.01M498.4 432.1h.01M480.9 454.3h.01M412.4 410.3h.01M464.2 485.5h.01M435.2 470.8h.01M472.3 499.0h.01M423.0 391.1h.01M496.7 467.1h.01M453.0 396.6h.01M419.2 459.2h.01M453.5 495.5h.01M488.1 402.9h.01M433.5 414.6h.01M412.4 438.4h.01M439.7 465.2h.01M451.6 445.0h.01M425.6 443.3h.01M493.2 469.2h.01M497.6 500.1h.01M519.5 398.9h.01M485.4 503.8h.01M437.4 424.3h.01M533.7 431.0h.01M454.0 435.9h.01M465.3 387.0h.01M414.3 407.9h.01M525.5 390.5h.01M492.0 482.0h.01M499.0 458.2h.01M483.5 384.5h.01M482.0 489.0h.01M414.9 412.5h.01M455.5 454.2h.01M525.8 477.0h.01M413.5 409.4h.01M440.7 471.6h.01M504.2 437.0h.01M523.9 374.0h.01M435.8 439.9h.01M436.3 468.0h.01M477.6 494.7h.01M479.8 398.4h.01M428.5 392.1h.01M424.8 450.2h.01M478.9 469.5h.01M521.9 441.0h.01M418.3 442.9h.01M534.2 466.6h.01M489.4 416.1h.01M472.4 496.6h.01M439.5 376.9h.01M509.2 450.6h.01M448.0 444.4h.01M519.7 429.1h.01M507.2 486.7h.01M484.4 475.0h.01M494.0 491.7h.01M513.1 479.0h.01M469.4 406.9h.01M538.0 437.5h.01M458.9 426.0h.01M487.0 447.3h.01M504.9 407.5h.01M428.4 458.1h.01M458.5 405.4h.01M452.7 501.5h.01M420.1 494.0h.01M508.1 461.9h.01M498.1 375.7h.01M409.9 383.2h.01M466.7 430.8h.01M481.0 419.3h.01M410.1 462.4h.01M459.8 447.6h.01M515.7 389.1h.01M432.8 502.4h.01M442.4 455.4h.01M487.0 392.0h.01M506.6 458.4h.01M505.1 460.9h.01M453.6 430.4h.01M530.8 480.7h.01M489.4 386.4h.01M538.0 453.0h.01M508.1 436.7h.01M419.3 446.9h.01M447.0 460.5h.01M429.2 459.1h.01M504.9 494.4h.01M531.9 437.9h.01M487.5 466.9h.01M461.1 411.0h.01M511.4 456.3h.01M424.3 378.2h.01M476.5 454.5h.01M454.2 386.8h.01M476.6 450.8h.01M419.7 395.8h.01M500.6 424.9h.01M488.6 383.2h.01M511.1 376.8h.01M431.4 416.5h.01M449.7 424.5h.01M425.8 501.7h.01M527.5 402.3h.01M463.6 485.7h.01M454.2 433.2h.01M471.6 424.2h.01M532.4 422.5h.01M451.0 496.5h.01M517.8 406.7h.01M533.1 404.8h.01M514.8 487.6h.01M521.6 388.8h.01M414.5 416.3h.01M434.0 391.5h.01M461.2 499.3h.01M424.7 501.3h.01M532.6 499.2h.01M474.0 375.5h.01M433.5 495.5h.01M437.2 408.9h.01M483.1 429.1h.01M493.2 419.7h.01M457.5 452.3h.01M463.7 501.5h.01M420.4 390.8h.01M501.5 438.9h.01M533.4 386.9h.01M426.3 466.1h.01M452.3 436.1h.01M495.8 382.8h.01M427.0 478.0h.01M532.8 483.2h.01M533.0 442.6h.01M434.9 437.6h.01M462.1 430.1h.01M510.0 496.3h.01M414.9 398.5h.01M528.2 459.5h.01M504.1 474.6h.01M487.2 472.6h.01M432.6 414.9h.01M517.4 426.7h.01M437.2 430.8h.01M444.0 476.4h.01M538.6 475.7h.01M481.2 416.2h.01M484.3 388.7h.01M525.4 479.2h.01M476.3 477.3h.01M514.0 500.8h.01M430.8 446.9h.01M514.0 383.1h.01M469.7 457.9h.01M526.3 485.7h.01M441.5 458.9h.01M533.2 450.2h.01M533.0 395.6h.01M520.9 503.7h.01M525.2 471.6h.01M439.0 431.7h.01M532.9 419.0h.01M517.8 501.1h.01M418.2 410.7h.01M456.2 419.3h.01M447.4 403.5h.01M435.7 481.2h.01M535.9 394.2h.01M445.1 433.8h.01M461.5 406.6h.01M456.7 432.4h.01M527.7 376.4h.01M505.4 483.4h.01M480.6 401.3h.01M411.9 477.8h.01M520.4 374.4h.01M437.0 500.6h.01M432.4 415.6h.01M502.3 467.7h.01M415.1 472.3h.01M513.3 477.0h.01M499.3 487.0h.01M473.3 398.9h.01M436.4 492.8h.01M515.9 381.1h.01M489.3 485.5h.01M466.5 498.9h.01M416.5 440.2h.01M531.3 446.9h.01M428.1 499.7h.01M511.6 458.8h.01M439.0 463.4h.01M485.7 488.5h.01M471.3 378.5h.01M470.1 453.7h.01M459.8 439.2h.01M490.4 389.9h.01M458.0 449.5h.01M490.9 428.7h.01M495.5 402.3h.01M476.1 430.9h.01M433.2 495.0h.01M499.6 385.6h.01M479.0 428.5h.01M520.3 397.5h.01M432.6 379.0h.01M430.4 476.2h.01M523.7 486.4h.01M463.3 488.7h.01M506.9 476.3h.01M460.0 377.8h.01M411.3 419.3h.01M473.7 374.9h.01M449.9 395.0h.01M469.3 461.4h.01M451.6 504.0h.01M528.1 478.8h.01M470.8 431.4h.01M441.6 382.5h.01M503.5 394.0h.01M478.3 483.1h.01M461.3 488.7h.01M499.0 494.5h.01M436.8 442.9h.01M482.0 501.7h.01M443.7 486.1h.01M523.4 450.1h.01M531.6 423.3h.01M518.6 464.9h.01M442.8 477.8h.01M496.0 455.9h.01M521.3 500.1h.01M513.1 469.7h.01M472.5 388.9h.01M417.1 408.9h.01M517.5 484.9h.01M500.3 468.2h.01M521.3 393.3h.01M513.3 401.9h.01M427.9 398.7h.01M467.9 410.2h.01M442.4 390.9h.01M486.3 398.5h.01M423.4 488.4h.01M437.2 486.8h.01M414.1 380.0h.01M508.7 404.4h.01M423.1 417.6h.01M485.4 443.6h.01M538.3 461.8h.01M449.8 387.6h.01M459.8 475.8h.01M477.0 456.1h.01M508.3 389.9h.01M411.8 470.2h.01M443.3 483.9h.01M485.0 456.0h.01M494.6 402.5h.01M501.7 479.3h.01M447.8 398.2h.01M457.2 417.1h.01M490.6 391.0h.01M446.8 388.1h.01M480.5 469.5h.01M523.2 398.5h.01M448.9 378.4h.01M459.6 483.8h.01M444.7 395.1h.01M500.5 478.9h.01M520.1 412.3h.01M425.8 412.6h.01M499.2 463.9h.01M463.5 451.7h.01M509.9 405.2h.01M474.2 495.9h.01M492.7 440.1h.01M412.9 384.8h.01M431.0 476.4h.01M418.7 403.9h.01M494.5 400.9h.01M504.2 476.0h.01M411.4 462.1h.01M442.6 493.2h.01M538.2 420.5h.01M517.2 398.5h.01M440.8 420.4h.01M529.0 377.6h.01M463.6 448.0h.01M518.7 436.8h.01M539.3 483.9h.01M417.0 423.0h.01M514.8 387.4h.01M421.8 498.6h.01M539.3 465.8h.01M521.0 450.2h.01M486.7 381.2h.01M525.3 380.7h.01M423.8 411.7h.01M531.8 459.1h.01M504.8 375.5h.01M453.9 483.0h.01M514.8 479.7h.01M477.1 486.6h.01M477.4 448.3h.01M470.0 408.9h.01M475.3 498.3h.01M429.4 504.2h.01M435.8 430.8h.01M472.4 481.2h.01M433.3 404.5h.01M522.3 452.2h.01M483.9 450.0h.01M507.6 402.7h.01M516.5 427.3h.01M438.7 394.7h.01M459.6 390.6h.01M453.6 457.5h.01M478.4 448.1h.01M456.1 455.1h.01M490.4 411.0h.01M501.9 408.0h.01M480.1 504.2h.01M526.0 461.5h.01M490.4 482.0h.01M528.5 441.4h.01M463.2 479.3h.01M500.7 430.1h.01M467.5 475.4h.01M469.0 411.3h.01M430.4 458.0h.01M435.7 487.9h.01M508.3 382.4h.01M471.7 381.8h.01M490.8 429.4h.01M432.4 455.5h.01M421.5 383.6h.01M531.0 470.3h.01M471.3 472.2h.01M461.3 407.3h.01M469.1 485.0h.01M510.9 447.8h.01M453.1 472.7h.01M438.6 414.2h.01M449.9 440.9h.01M422.7 470.4h.01M452.3 409.5h.01M434.7 500.5h.01M508.5 474.2h.01M414.5 382.2h.01M498.1 442.3h.01M539.1 415.6h.01M517.2 447.0h.01M479.0 482.2h.01M479.0 495.0h.01M471.1 409.7h.01M410.7 474.6h.01M439.1 486.7h.01M455.3 429.9h.01M515.2 490.4h.01M508.7 404.8h.01M450.7 486.0h.01M524.4 428.8h.01M515.9 407.9h.01M442.9 454.0h.01M425.4 392.2h.01M468.8 433.8h.01M463.1 452.2h.01M445.3 449.0h.01M451.2 396.6h.01M486.4 408.7h.01M422.2 432.3h.01M498.2 480.4h.01M433.6 451.1h.01M473.4 435.0h.01" stroke="#9496cf" stroke-width="1.7" stroke-linecap="round" opacity="0.7" fill="none" filter="url(#bl3)"/>
<path d="M472.4 399.9h.01M537.7 492.6h.01M506.6 482.8h.01M412.7 473.3h.01M423.6 424.5h.01M473.3 406.4h.01M480.5 433.3h.01M413.2 411.4h.01M476.6 476.9h.01M504.0 409.9h.01M527.6 471.2h.01M499.3 408.2h.01M523.2 493.8h.01M459.1 466.8h.01M529.2 493.8h.01M496.0 460.6h.01M427.6 482.8h.01M504.0 441.9h.01M521.0 480.6h.01M533.6 469.1h.01M474.9 448.7h.01M415.4 425.1h.01M441.2 391.9h.01M422.1 478.0h.01M421.8 420.3h.01M490.9 415.7h.01M491.5 406.9h.01M499.9 461.9h.01M514.4 425.3h.01M432.9 422.3h.01M512.8 385.2h.01M530.0 475.0h.01M517.1 395.5h.01M501.7 388.0h.01M438.1 400.6h.01M530.6 475.1h.01M477.6 440.6h.01M490.4 471.9h.01M456.0 423.9h.01M531.7 403.8h.01M410.5 485.9h.01M532.5 430.1h.01M499.3 385.4h.01M414.9 374.7h.01M416.3 428.0h.01M409.3 460.1h.01M469.2 404.6h.01M509.1 438.7h.01M506.2 377.7h.01M481.0 482.4h.01M481.8 469.6h.01M415.6 407.0h.01M508.6 439.5h.01M453.8 409.6h.01M458.7 474.3h.01M519.4 472.3h.01M448.6 458.5h.01M441.6 492.3h.01M466.8 402.6h.01M523.4 458.2h.01" stroke="#a07850" stroke-width="2.4" stroke-linecap="round" opacity="0.5" fill="none" filter="url(#bl3)"/>
</g>
<g clip-path="url(#c40)">
<rect x="543.1" y="239.5" width="130.6" height="130.2" fill="#f1ece3"/>
<rect x="543.1" y="239.5" width="130.6" height="130.2" fill="#d6a062" opacity="0.9" mask="url(#k40)"/>
<rect x="543.1" y="239.5" width="130.6" height="130.2" filter="url(#g40)" mask="url(#k40)"/>
<ellipse cx="559.1" cy="281.5" rx="7" ry="15" fill="#b8742e" opacity="0.5" filter="url(#bl10)"/>
<ellipse cx="670.1" cy="243.5" rx="6" ry="5" fill="#c07a30" opacity="0.6" filter="url(#bl10)"/>
<path d="M619.2 328.1h.01M606.7 302.8h.01M588.2 348.0h.01M577.3 252.3h.01M565.5 312.1h.01M656.5 309.4h.01M548.2 272.0h.01M556.1 280.5h.01M586.1 357.5h.01M606.3 346.1h.01M648.2 255.1h.01M560.7 362.1h.01M543.7 296.9h.01M647.2 271.0h.01M642.3 354.5h.01M653.0 277.9h.01M578.1 284.9h.01M547.1 242.3h.01M573.9 263.7h.01M639.4 283.1h.01M550.3 279.0h.01M559.4 242.4h.01M621.5 270.9h.01M578.1 264.5h.01M622.5 342.6h.01M665.6 359.4h.01M573.8 320.2h.01M580.5 256.0h.01M607.0 361.0h.01M588.3 306.0h.01M643.4 250.3h.01M543.8 352.9h.01M657.7 321.2h.01M647.8 355.5h.01M637.2 364.9h.01M651.2 367.5h.01M651.3 244.5h.01M604.6 249.2h.01M637.9 245.0h.01M639.0 339.5h.01M548.9 249.0h.01M610.7 364.8h.01M670.7 339.6h.01M648.3 281.5h.01M644.9 313.2h.01M602.2 327.1h.01M546.0 281.9h.01M605.6 266.0h.01M635.9 367.0h.01M575.9 275.3h.01M632.0 315.9h.01M594.0 303.2h.01M580.4 333.1h.01M545.4 343.3h.01M574.0 293.6h.01M600.8 314.6h.01M585.6 263.7h.01M659.3 240.4h.01M671.5 275.3h.01M592.5 312.9h.01M582.4 335.5h.01M572.3 332.7h.01M573.3 298.9h.01M615.3 263.9h.01M667.8 358.1h.01M611.1 364.4h.01M564.6 249.2h.01M644.5 288.3h.01M599.1 258.3h.01M621.3 290.9h.01M623.0 280.3h.01M673.0 359.3h.01M633.1 247.1h.01M589.7 315.7h.01M579.4 295.9h.01M603.0 271.3h.01M585.8 343.5h.01M549.6 312.0h.01M567.0 362.4h.01M580.9 294.1h.01M604.5 289.6h.01M659.9 304.0h.01M577.2 297.7h.01M564.6 366.9h.01M615.2 273.8h.01M644.7 321.5h.01M655.5 340.3h.01M613.8 270.2h.01M619.6 354.0h.01M664.2 292.9h.01M554.7 331.2h.01M561.9 337.9h.01M644.8 332.2h.01M602.2 296.0h.01M594.1 315.7h.01M647.2 339.4h.01M641.0 311.7h.01M591.1 348.3h.01M605.7 285.5h.01M549.7 263.6h.01M574.9 352.5h.01M600.5 343.1h.01M569.9 355.8h.01M576.4 266.8h.01M547.3 287.3h.01M607.2 254.3h.01M548.6 271.1h.01M562.5 280.6h.01M550.7 307.4h.01M628.6 251.6h.01M555.4 310.0h.01M635.6 298.2h.01M602.7 246.4h.01M625.7 272.6h.01M596.2 253.6h.01M640.7 244.4h.01M547.0 312.0h.01M572.0 291.7h.01M564.2 291.1h.01M545.2 262.5h.01" stroke="#8a90b0" stroke-width="1.0" stroke-linecap="round" opacity="0.6" fill="none"/>
</g>
<g clip-path="url(#c41)">
<rect x="543.1" y="374.0" width="130.6" height="130.2" fill="#f0e9dd"/>
<rect x="543.1" y="374.0" width="130.6" height="130.2" fill="#dfb070" opacity="0.78" mask="url(#k41)"/>
<rect x="543.1" y="374.0" width="130.6" height="130.2" filter="url(#g41)" opacity="0.75" mask="url(#k41)"/>
<rect x="543.1" y="374.0" width="130.6" height="130.2" filter="url(#g41w)" opacity="0.6"/>
<path d="M543,386L550,380L555,378L562,374" fill="none" stroke="#f0eadf" stroke-width="2.4" opacity="0.85" stroke-linejoin="round" stroke-linecap="round" filter="url(#bl10)"/>
<path d="M543,397L547,395L556,401L568,397L581,386L597,376L600,374" fill="none" stroke="#f0eadf" stroke-width="2.4" opacity="0.85" stroke-linejoin="round" stroke-linecap="round" filter="url(#bl10)"/>
<path d="M607,387L615,394L624,401L639,407L658,405L676,401" fill="none" stroke="#f0eadf" stroke-width="2.4" opacity="0.85" stroke-linejoin="round" stroke-linecap="round" filter="url(#bl10)"/>
<path d="M659,393L661,408L662,422L666,437L676,441" fill="none" stroke="#f0eadf" stroke-width="2.4" opacity="0.85" stroke-linejoin="round" stroke-linecap="round" filter="url(#bl10)"/>
<path d="M543,465L562,465L576,474L581,482L593,478L606,482L620,488L628,497L632,506" fill="none" stroke="#f0eadf" stroke-width="2.4" opacity="0.85" stroke-linejoin="round" stroke-linecap="round" filter="url(#bl10)"/>
<path d="M605,463L616,465L632,470L643,474L659,470L676,473" fill="none" stroke="#f0eadf" stroke-width="2.4" opacity="0.85" stroke-linejoin="round" stroke-linecap="round" filter="url(#bl10)"/>
<path d="M543,436L549,432L556,430" fill="none" stroke="#f0eadf" stroke-width="2.4" opacity="0.85" stroke-linejoin="round" stroke-linecap="round" filter="url(#bl10)"/>
<path d="M572,420L580,428L590,432" fill="none" stroke="#f0eadf" stroke-width="2.4" opacity="0.85" stroke-linejoin="round" stroke-linecap="round" filter="url(#bl10)"/>
<path d="M670.8 425.0h.01M562.2 500.5h.01M647.4 455.3h.01M661.1 455.5h.01M546.5 472.9h.01M621.8 486.3h.01M575.2 501.2h.01M637.5 412.4h.01M614.4 378.2h.01M582.7 471.9h.01M585.3 416.4h.01M665.3 493.0h.01M631.9 430.8h.01M650.3 495.6h.01M554.7 390.0h.01M551.7 397.8h.01M599.9 419.7h.01M568.3 485.8h.01M572.0 476.5h.01M567.6 471.4h.01M603.8 458.4h.01M631.8 415.9h.01M627.6 415.5h.01M666.9 403.9h.01M670.7 421.6h.01M647.1 381.0h.01M578.1 419.3h.01M663.4 480.0h.01M617.3 498.0h.01M665.8 411.6h.01M583.8 387.8h.01M621.8 383.2h.01M666.3 427.4h.01M571.8 498.2h.01M647.8 454.9h.01M627.9 389.7h.01M602.7 397.3h.01M618.4 383.1h.01M614.6 416.0h.01M595.5 499.9h.01M604.3 475.1h.01M545.1 435.3h.01M608.3 409.0h.01M665.8 469.5h.01M656.9 420.9h.01M554.2 409.6h.01M572.4 395.6h.01M664.0 492.3h.01M547.9 449.6h.01M638.6 395.8h.01M610.1 408.7h.01M647.8 491.6h.01M643.0 433.0h.01M604.6 393.7h.01M575.4 472.8h.01M611.9 428.8h.01M616.3 483.7h.01M566.5 386.2h.01M671.9 394.0h.01M661.5 503.3h.01M645.5 448.4h.01M619.3 495.5h.01M565.8 406.9h.01M622.4 391.1h.01M587.5 434.3h.01M586.5 406.5h.01M653.3 463.3h.01M648.0 472.2h.01M601.7 401.5h.01M624.3 458.9h.01M589.4 374.2h.01M563.3 440.8h.01M643.0 384.2h.01M590.1 497.7h.01M605.7 427.3h.01M631.9 435.3h.01M573.0 495.3h.01M552.5 459.5h.01M561.1 487.9h.01M630.8 428.7h.01M621.5 461.1h.01M571.1 429.7h.01M568.1 486.7h.01M598.0 436.1h.01M633.1 465.2h.01M627.6 494.6h.01M666.6 428.8h.01M671.7 393.0h.01M592.9 502.0h.01M608.2 461.6h.01M589.8 424.0h.01M672.6 496.5h.01M664.3 377.7h.01M603.8 398.5h.01M642.1 469.7h.01M583.2 478.6h.01M658.5 398.3h.01M544.0 388.3h.01M671.6 458.1h.01M552.8 463.4h.01M601.5 433.5h.01M575.1 479.9h.01M618.3 494.2h.01M603.7 424.0h.01M551.8 454.8h.01M617.4 392.4h.01M633.3 380.7h.01M610.7 489.1h.01M586.8 438.9h.01M632.3 461.5h.01M550.3 450.8h.01M658.9 503.8h.01M571.8 478.9h.01M581.2 399.0h.01M654.5 407.7h.01M588.8 458.1h.01M561.7 401.0h.01M667.4 498.6h.01M645.1 456.9h.01M554.2 489.0h.01M664.1 474.0h.01M617.3 470.5h.01M636.6 465.5h.01M632.9 374.1h.01M573.7 400.0h.01M545.0 408.3h.01M636.4 458.4h.01M591.0 503.8h.01M662.6 489.3h.01M644.0 438.0h.01M654.2 459.5h.01M639.3 431.4h.01M595.4 420.5h.01M555.3 390.5h.01M667.3 458.5h.01M553.4 488.2h.01M607.1 436.2h.01M561.6 493.7h.01M602.6 403.5h.01M579.8 434.7h.01M598.1 416.9h.01M636.7 501.1h.01M565.0 399.5h.01M609.0 440.5h.01M666.0 428.4h.01M598.9 469.1h.01M608.8 440.3h.01M636.9 457.2h.01M622.0 401.4h.01M662.3 402.9h.01M604.3 451.5h.01M548.8 410.8h.01M671.1 413.8h.01M577.3 441.7h.01M566.8 492.3h.01M620.1 480.0h.01M634.5 439.4h.01M547.5 486.0h.01M569.3 484.4h.01M579.3 377.1h.01M583.9 486.9h.01M584.4 444.1h.01M630.6 468.6h.01M651.8 478.7h.01M645.3 490.2h.01M596.4 440.5h.01M598.5 477.0h.01M598.0 503.1h.01M649.3 441.3h.01M666.6 491.9h.01M612.2 467.3h.01M567.6 504.1h.01M617.4 469.3h.01M619.5 465.6h.01M586.8 381.0h.01M612.8 440.9h.01M589.8 415.1h.01M599.2 470.4h.01M592.8 500.5h.01M669.6 456.3h.01M570.2 394.0h.01M616.3 397.2h.01M545.2 503.4h.01M578.0 417.7h.01M631.5 376.2h.01M560.3 466.3h.01M587.5 415.2h.01M602.8 425.3h.01M563.7 385.3h.01M652.2 461.9h.01M637.1 383.6h.01M646.3 483.2h.01M644.2 449.3h.01M623.9 474.2h.01M561.8 390.5h.01M567.4 495.1h.01M573.9 464.5h.01M620.2 404.4h.01M663.1 394.6h.01M617.1 407.7h.01M645.2 424.0h.01M592.6 402.8h.01M652.6 422.9h.01M565.8 474.8h.01M583.9 386.1h.01M671.7 391.7h.01M594.3 426.3h.01M605.1 406.3h.01M579.6 498.3h.01M572.0 423.9h.01M645.9 448.3h.01M572.7 422.6h.01M613.9 490.1h.01M668.3 471.2h.01M610.7 374.1h.01M558.2 417.0h.01M590.7 398.6h.01M639.1 436.8h.01M618.8 405.0h.01M668.3 411.3h.01M586.6 448.1h.01M657.0 452.8h.01M637.9 450.2h.01M594.4 484.6h.01M574.4 469.3h.01M614.8 463.6h.01M640.9 471.8h.01M591.0 434.3h.01M588.1 412.4h.01M612.8 480.6h.01M665.0 413.7h.01M597.1 388.2h.01M661.8 421.4h.01M576.2 426.3h.01M550.6 400.0h.01M664.0 374.7h.01M670.9 409.9h.01M611.5 454.4h.01M627.3 375.6h.01M665.7 407.5h.01M579.6 425.4h.01M631.5 465.1h.01M549.8 415.9h.01M623.3 484.8h.01M638.1 437.5h.01M666.9 457.7h.01M662.7 436.5h.01M552.4 378.1h.01M646.5 415.3h.01M584.0 442.7h.01M577.3 497.6h.01M605.0 499.7h.01M658.2 390.5h.01M603.7 423.2h.01M631.5 469.7h.01M586.5 405.5h.01M579.9 481.8h.01M558.8 411.0h.01M585.8 499.8h.01M560.9 450.1h.01M575.9 414.1h.01M601.8 503.5h.01M601.9 393.9h.01M651.2 384.5h.01M618.6 445.8h.01M624.4 485.8h.01M655.8 424.0h.01M568.4 436.2h.01M564.2 410.4h.01M545.4 420.0h.01M588.0 424.8h.01M627.1 471.1h.01M646.4 469.0h.01M594.2 433.3h.01M569.9 461.8h.01M550.3 487.7h.01M643.1 458.6h.01M581.8 425.6h.01M562.5 408.2h.01M661.3 489.4h.01M638.2 502.5h.01M574.3 405.4h.01M668.5 421.4h.01M629.3 399.9h.01M626.0 424.0h.01M627.0 378.7h.01M559.8 465.1h.01M660.5 471.0h.01M558.2 466.2h.01M655.0 481.0h.01M609.1 425.6h.01M667.5 432.2h.01M594.1 447.8h.01M566.8 413.8h.01M645.8 437.1h.01M630.2 476.9h.01M622.4 399.5h.01M637.7 464.9h.01M551.1 380.4h.01M556.3 416.3h.01M559.5 460.2h.01M640.9 427.8h.01M670.9 461.6h.01M628.9 437.7h.01M556.5 388.6h.01M664.2 491.7h.01M552.6 381.5h.01M636.6 378.8h.01M672.5 467.7h.01M599.6 466.9h.01M662.1 458.2h.01M585.6 443.2h.01M569.2 424.8h.01M655.7 465.1h.01M546.0 440.2h.01M554.2 399.2h.01M562.0 442.4h.01M595.4 418.7h.01M598.6 449.4h.01M644.5 464.1h.01M565.1 405.9h.01M622.5 403.0h.01M582.7 436.6h.01M632.9 411.0h.01M566.2 391.6h.01M623.1 449.4h.01M638.1 496.7h.01M552.3 464.7h.01M621.1 398.7h.01M671.5 466.2h.01M646.4 480.3h.01M595.9 463.9h.01M651.3 388.2h.01M555.5 463.0h.01M636.6 489.5h.01M546.0 429.7h.01M636.7 452.2h.01M664.9 423.5h.01M552.0 501.5h.01M544.0 491.0h.01M584.3 384.9h.01M641.4 440.1h.01M609.8 439.7h.01M635.6 396.3h.01M568.6 459.9h.01M627.6 449.6h.01M665.6 487.5h.01M657.3 476.2h.01M600.6 497.4h.01M646.8 414.6h.01M570.4 456.9h.01M634.6 471.1h.01M614.7 478.4h.01M557.7 496.5h.01M577.7 390.1h.01M599.0 385.1h.01M589.8 485.8h.01M607.5 429.0h.01M588.5 406.1h.01M641.9 472.6h.01M608.8 399.3h.01M606.0 447.3h.01M644.6 393.9h.01M545.8 458.7h.01M587.9 404.1h.01M653.2 465.0h.01M668.7 435.7h.01M572.9 431.5h.01M670.7 477.9h.01M651.1 408.4h.01M548.8 375.6h.01M629.3 413.0h.01M564.0 451.0h.01M664.4 485.5h.01M650.4 396.6h.01M623.1 501.6h.01M560.3 458.3h.01M565.5 423.0h.01M580.4 387.8h.01M588.6 471.1h.01M615.2 383.6h.01M582.4 482.8h.01M669.0 409.2h.01M628.1 448.0h.01M546.0 469.8h.01M585.5 452.1h.01M546.2 384.0h.01M570.4 468.3h.01M611.6 387.2h.01M574.2 392.7h.01M584.3 407.2h.01M559.8 456.9h.01M580.0 384.5h.01M569.2 412.3h.01M603.6 441.6h.01M591.2 426.6h.01M601.6 375.2h.01M548.2 422.0h.01M597.8 468.9h.01M671.0 454.9h.01M645.1 403.5h.01M601.7 428.1h.01M598.1 495.9h.01M646.4 383.0h.01M615.6 388.4h.01M601.7 482.0h.01M664.6 502.9h.01M632.3 456.2h.01M568.1 390.6h.01M574.7 409.1h.01M547.3 382.1h.01M606.3 451.6h.01M577.9 412.1h.01M548.4 434.7h.01M563.8 448.3h.01M544.6 420.5h.01M567.7 442.4h.01M550.4 452.7h.01M583.1 383.1h.01M580.0 447.0h.01M584.1 465.0h.01M613.0 491.5h.01M564.6 432.1h.01M553.4 409.1h.01M546.8 394.4h.01M648.9 474.4h.01M643.3 479.8h.01M654.4 411.0h.01M635.1 436.3h.01M562.4 418.6h.01M615.9 406.3h.01M553.5 500.8h.01M606.7 386.5h.01M641.5 499.1h.01M559.8 382.3h.01M655.2 446.0h.01M648.6 465.7h.01M566.9 376.6h.01M601.4 481.4h.01M671.3 398.9h.01M661.7 414.1h.01M580.9 404.0h.01M557.0 471.4h.01M637.8 454.7h.01M620.9 426.9h.01M624.7 407.9h.01M595.0 463.9h.01M657.7 473.3h.01M556.4 443.5h.01M564.0 436.4h.01M552.7 499.8h.01M623.7 491.4h.01M634.4 468.9h.01M666.8 395.0h.01M571.6 420.3h.01M597.6 437.4h.01M614.2 386.9h.01M633.2 438.6h.01M604.0 413.7h.01M664.2 496.8h.01M550.0 439.5h.01M635.5 429.9h.01M658.6 444.8h.01M657.9 491.2h.01M627.0 386.5h.01M556.8 440.3h.01M597.1 485.1h.01M560.6 463.7h.01M567.2 493.5h.01M612.5 490.1h.01M584.5 391.9h.01M652.7 440.5h.01M642.4 434.6h.01M655.4 464.2h.01M670.5 404.0h.01M654.8 384.9h.01M556.7 484.1h.01M556.9 460.7h.01M645.4 399.2h.01M655.5 408.8h.01M607.3 409.6h.01M573.6 469.3h.01M600.0 488.0h.01M628.2 383.3h.01M660.7 450.0h.01M598.5 403.6h.01M666.7 468.0h.01M634.6 467.9h.01M558.2 413.3h.01M633.3 420.9h.01M670.3 384.5h.01M655.0 485.7h.01M659.7 425.2h.01M623.9 470.6h.01M658.0 443.9h.01M648.2 401.6h.01M668.5 385.4h.01M619.9 416.1h.01M643.8 473.5h.01M619.0 456.2h.01M644.7 412.5h.01M661.3 502.4h.01M632.7 449.1h.01M569.3 382.4h.01M570.1 478.7h.01M640.9 385.7h.01M556.1 423.5h.01M621.4 433.8h.01M610.2 427.7h.01M658.4 397.3h.01M607.0 482.6h.01M599.9 412.8h.01M667.7 442.2h.01M582.5 443.6h.01M603.5 470.2h.01M606.4 447.9h.01M559.8 444.2h.01M626.4 400.4h.01M671.4 420.2h.01M582.9 377.5h.01M629.1 422.1h.01M582.8 376.5h.01M632.1 418.9h.01M593.4 396.3h.01M586.0 494.8h.01M605.3 417.4h.01M594.5 437.5h.01M656.0 465.3h.01M600.4 419.6h.01M603.1 381.4h.01M649.2 405.6h.01M608.9 411.3h.01M568.2 436.0h.01M588.6 435.5h.01M599.6 432.8h.01M624.9 433.2h.01M561.0 493.3h.01M579.3 409.1h.01M612.8 399.6h.01M625.6 472.8h.01M554.2 493.0h.01M580.9 378.0h.01M597.9 417.5h.01M623.6 431.3h.01M609.2 424.7h.01M607.7 435.3h.01M662.2 406.0h.01M555.2 391.9h.01M573.6 424.0h.01M576.5 495.0h.01M594.3 384.4h.01M597.6 421.3h.01M656.2 425.2h.01M645.5 409.2h.01M606.4 375.5h.01M626.6 414.7h.01M602.3 430.4h.01M598.2 447.8h.01M555.0 382.8h.01M586.7 466.7h.01M601.5 397.7h.01M656.8 404.3h.01M641.4 493.4h.01M605.0 414.6h.01M657.6 502.7h.01M591.6 418.1h.01M620.2 478.7h.01M605.9 471.7h.01M619.4 402.8h.01M571.2 436.7h.01M651.3 421.6h.01M639.1 480.4h.01M548.4 440.7h.01M624.9 469.4h.01M639.4 408.5h.01M651.8 444.5h.01M619.9 389.2h.01M662.0 427.9h.01M595.2 451.8h.01M604.3 387.0h.01M624.8 389.1h.01M560.5 458.3h.01M640.9 475.4h.01M548.5 423.0h.01M671.7 393.5h.01M670.0 502.2h.01M654.4 466.7h.01M567.2 456.2h.01M621.6 379.5h.01M663.1 475.3h.01M671.2 406.3h.01M547.9 413.1h.01M669.4 429.1h.01M645.4 447.0h.01M559.2 467.2h.01M640.1 377.0h.01M583.4 462.8h.01M658.7 388.2h.01M596.5 380.5h.01M664.9 399.9h.01" stroke="#b8bccb" stroke-width="2.1" stroke-linecap="round" opacity="0.8" fill="none" filter="url(#bl3)"/>
</g>
<rect x="46" y="263" width="65.40" height="65.00" fill="none" stroke="#111" stroke-width="1.4"/>
<line x1="46.00" y1="328.00" x2="6.40" y2="373.60" stroke="#111" stroke-width="1.4"/>
<line x1="111.40" y1="328.00" x2="136.40" y2="373.60" stroke="#111" stroke-width="1.4"/>
<text x="112.90" y="363.70" font-size="8.6" text-anchor="middle" font-weight="bold" fill="#222">10X</text>
<line x1="98.90" y1="365.70" x2="126.40" y2="365.70" stroke="#777" stroke-width="1.3"/>
<text x="112.80" y="498.50" font-size="8.6" text-anchor="middle" font-weight="bold" fill="#222">20X</text>
<line x1="98.90" y1="500.50" x2="126.90" y2="500.50" stroke="#111" stroke-width="1.4"/>
<rect x="190.7" y="249" width="65.10" height="65.00" fill="none" stroke="#111" stroke-width="1.4"/>
<line x1="190.70" y1="314.00" x2="140.40" y2="373.60" stroke="#111" stroke-width="1.4"/>
<line x1="255.80" y1="314.00" x2="270.40" y2="373.60" stroke="#111" stroke-width="1.4"/>
<text x="246.90" y="363.70" font-size="8.6" text-anchor="middle" font-weight="bold" fill="#222">10X</text>
<line x1="232.90" y1="365.70" x2="260.40" y2="365.70" stroke="#777" stroke-width="1.3"/>
<text x="246.80" y="498.50" font-size="8.6" text-anchor="middle" font-weight="bold" fill="#222">20X</text>
<line x1="232.90" y1="500.50" x2="260.90" y2="500.50" stroke="#111" stroke-width="1.4"/>
<rect x="309.4" y="245.8" width="65.80" height="64.70" fill="none" stroke="#111" stroke-width="1.4"/>
<line x1="309.40" y1="310.50" x2="275.30" y2="373.60" stroke="#111" stroke-width="1.4"/>
<line x1="375.20" y1="310.50" x2="405.30" y2="373.60" stroke="#111" stroke-width="1.4"/>
<text x="381.80" y="363.70" font-size="8.6" text-anchor="middle" font-weight="bold" fill="#222">10X</text>
<line x1="367.80" y1="365.70" x2="395.30" y2="365.70" stroke="#777" stroke-width="1.3"/>
<text x="381.70" y="498.50" font-size="8.6" text-anchor="middle" font-weight="bold" fill="#222">20X</text>
<line x1="367.80" y1="500.50" x2="395.80" y2="500.50" stroke="#111" stroke-width="1.4"/>
<rect x="460.4" y="252.5" width="65.00" height="65.20" fill="none" stroke="#111" stroke-width="1.4"/>
<line x1="460.40" y1="317.70" x2="409.50" y2="373.60" stroke="#111" stroke-width="1.4"/>
<line x1="525.40" y1="317.70" x2="539.50" y2="373.60" stroke="#111" stroke-width="1.4"/>
<text x="516.00" y="363.70" font-size="8.6" text-anchor="middle" font-weight="bold" fill="#222">10X</text>
<line x1="502.00" y1="365.70" x2="529.50" y2="365.70" stroke="#777" stroke-width="1.3"/>
<text x="515.90" y="498.50" font-size="8.6" text-anchor="middle" font-weight="bold" fill="#222">20X</text>
<line x1="502.00" y1="500.50" x2="530.00" y2="500.50" stroke="#111" stroke-width="1.4"/>
<rect x="581.5" y="254.5" width="65.40" height="65.20" fill="none" stroke="#111" stroke-width="1.4"/>
<line x1="581.50" y1="319.70" x2="543.40" y2="373.60" stroke="#111" stroke-width="1.4"/>
<line x1="646.90" y1="319.70" x2="673.40" y2="373.60" stroke="#111" stroke-width="1.4"/>
<text x="649.90" y="363.70" font-size="8.6" text-anchor="middle" font-weight="bold" fill="#222">10X</text>
<line x1="635.90" y1="365.70" x2="663.40" y2="365.70" stroke="#777" stroke-width="1.3"/>
<text x="649.80" y="498.50" font-size="8.6" text-anchor="middle" font-weight="bold" fill="#222">20X</text>
<line x1="635.90" y1="500.50" x2="663.90" y2="500.50" stroke="#111" stroke-width="1.4"/>
<text x="1.00" y="523.00" font-size="13.0" text-anchor="start" font-weight="bold" fill="#000">E</text>
<line x1="34.80" y1="519.30" x2="34.80" y2="666.60" stroke="#000" stroke-width="1.4"/>
<line x1="30.20" y1="656.40" x2="34.80" y2="656.40" stroke="#000" stroke-width="1.4"/>
<text x="28.20" y="659.60" font-size="8.8" text-anchor="end" font-weight="bold" fill="#222">0</text>
<line x1="30.20" y1="642.85" x2="34.80" y2="642.85" stroke="#000" stroke-width="1.4"/>
<text x="28.20" y="646.05" font-size="8.8" text-anchor="end" font-weight="bold" fill="#222">1</text>
<line x1="30.20" y1="629.30" x2="34.80" y2="629.30" stroke="#000" stroke-width="1.4"/>
<text x="28.20" y="632.50" font-size="8.8" text-anchor="end" font-weight="bold" fill="#222">2</text>
<line x1="30.20" y1="615.75" x2="34.80" y2="615.75" stroke="#000" stroke-width="1.4"/>
<text x="28.20" y="618.95" font-size="8.8" text-anchor="end" font-weight="bold" fill="#222">3</text>
<line x1="30.20" y1="602.20" x2="34.80" y2="602.20" stroke="#000" stroke-width="1.4"/>
<text x="28.20" y="605.40" font-size="8.8" text-anchor="end" font-weight="bold" fill="#222">4</text>
<line x1="30.20" y1="588.65" x2="34.80" y2="588.65" stroke="#000" stroke-width="1.4"/>
<text x="28.20" y="591.85" font-size="8.8" text-anchor="end" font-weight="bold" fill="#222">5</text>
<line x1="30.20" y1="575.10" x2="34.80" y2="575.10" stroke="#000" stroke-width="1.4"/>
<text x="28.20" y="578.30" font-size="8.8" text-anchor="end" font-weight="bold" fill="#222">6</text>
<line x1="30.20" y1="561.55" x2="34.80" y2="561.55" stroke="#000" stroke-width="1.4"/>
<text x="28.20" y="564.75" font-size="8.8" text-anchor="end" font-weight="bold" fill="#222">7</text>
<line x1="30.20" y1="548.00" x2="34.80" y2="548.00" stroke="#000" stroke-width="1.4"/>
<text x="28.20" y="551.20" font-size="8.8" text-anchor="end" font-weight="bold" fill="#222">8</text>
<line x1="30.20" y1="534.45" x2="34.80" y2="534.45" stroke="#000" stroke-width="1.4"/>
<text x="28.20" y="537.65" font-size="8.8" text-anchor="end" font-weight="bold" fill="#222">9</text>
<line x1="30.20" y1="520.90" x2="34.80" y2="520.90" stroke="#000" stroke-width="1.4"/>
<text x="28.10" y="524.10" font-size="8.8" text-anchor="end" font-weight="bold" fill="#222" textLength="7.4" lengthAdjust="spacingAndGlyphs">10</text>
<line x1="34.10" y1="666.00" x2="210.70" y2="666.00" stroke="#000" stroke-width="1.4"/>
<line x1="78.70" y1="666.00" x2="78.70" y2="672.30" stroke="#000" stroke-width="1.4"/>
<line x1="167.00" y1="666.00" x2="167.00" y2="672.30" stroke="#000" stroke-width="1.4"/>
<text x="78.70" y="683.60" font-size="9.0" text-anchor="middle" font-weight="bold" fill="#222" textLength="48.4" lengthAdjust="spacingAndGlyphs">Para-tumor</text>
<text x="167.00" y="683.60" font-size="9.0" text-anchor="middle" font-weight="bold" fill="#222">Tumor</text>
<text x="13.20" y="590.00" font-size="8.3" text-anchor="middle" font-weight="normal" fill="#111" textLength="75.0" lengthAdjust="spacingAndGlyphs" transform="rotate(-90 13.2 590)" stroke="#222" stroke-width="0.25">DNAJC24 expression</text>
<line x1="78.20" y1="528.00" x2="167.50" y2="528.00" stroke="#000" stroke-width="1.4"/>
<text x="122.50" y="530.00" font-size="14.5" text-anchor="middle" font-weight="bold" fill="#222" textLength="22.6" lengthAdjust="spacingAndGlyphs">****</text>
<path d="M78.7,656.40L167.0,656.40M78.7,656.40L167.0,642.85M78.7,656.40L167.0,615.75M78.7,656.40L167.0,602.20M78.7,656.40L167.0,575.10M78.7,656.40L167.0,534.45M78.7,642.85L167.0,656.40M78.7,642.85L167.0,642.85M78.7,642.85L167.0,615.75M78.7,642.85L167.0,602.20M78.7,642.85L167.0,575.10M78.7,642.85L167.0,534.45M78.7,629.30L167.0,642.85M78.7,629.30L167.0,629.30M78.7,629.30L167.0,575.10M78.7,629.30L167.0,534.45M78.7,615.75L167.0,656.40M78.7,615.75L167.0,642.85M78.7,615.75L167.0,629.30M78.7,615.75L167.0,615.75M78.7,615.75L167.0,602.20M78.7,615.75L167.0,575.10M78.7,615.75L167.0,534.45M78.7,602.20L167.0,656.40M78.7,602.20L167.0,629.30M78.7,602.20L167.0,602.20M78.7,602.20L167.0,534.45M78.7,575.10L167.0,656.40M78.7,575.10L167.0,642.85M78.7,575.10L167.0,629.30M78.7,575.10L167.0,575.10" stroke="#000" stroke-width="1.45" fill="none"/>
<circle cx="78.7" cy="656.40" r="2.0" fill="#5bbad6"/>
<circle cx="78.7" cy="642.85" r="2.0" fill="#5bbad6"/>
<circle cx="78.7" cy="629.30" r="2.0" fill="#5bbad6"/>
<circle cx="78.7" cy="615.75" r="2.0" fill="#5bbad6"/>
<circle cx="78.7" cy="602.20" r="2.0" fill="#5bbad6"/>
<circle cx="78.7" cy="575.10" r="2.0" fill="#5bbad6"/>
<circle cx="167.0" cy="656.40" r="2.0" fill="#e0553a"/>
<circle cx="167.0" cy="642.85" r="2.0" fill="#e0553a"/>
<circle cx="167.0" cy="629.30" r="2.0" fill="#e0553a"/>
<circle cx="167.0" cy="615.75" r="2.0" fill="#e0553a"/>
<circle cx="167.0" cy="602.20" r="2.0" fill="#e0553a"/>
<circle cx="167.0" cy="575.10" r="2.0" fill="#e0553a"/>
<circle cx="167.0" cy="534.45" r="2.0" fill="#e0553a"/>
<text x="74.00" y="578.30" font-size="8.8" text-anchor="end" font-weight="normal" fill="#222" stroke="#222" stroke-width="0.25">n=7</text>
<text x="74.00" y="605.40" font-size="8.8" text-anchor="end" font-weight="normal" fill="#222" stroke="#222" stroke-width="0.25">n=17</text>
<text x="74.00" y="618.95" font-size="8.8" text-anchor="end" font-weight="normal" fill="#222" stroke="#222" stroke-width="0.25">n=8</text>
<text x="74.00" y="632.50" font-size="8.8" text-anchor="end" font-weight="normal" fill="#222" stroke="#222" stroke-width="0.25">n=23</text>
<text x="74.00" y="646.05" font-size="8.8" text-anchor="end" font-weight="normal" fill="#222" stroke="#222" stroke-width="0.25">n=21</text>
<text x="74.00" y="659.60" font-size="8.8" text-anchor="end" font-weight="normal" fill="#222" stroke="#222" stroke-width="0.25">n=91</text>
<text x="170.90" y="537.65" font-size="8.8" text-anchor="start" font-weight="normal" fill="#222" stroke="#222" stroke-width="0.25">n=7</text>
<text x="170.90" y="578.30" font-size="8.8" text-anchor="start" font-weight="normal" fill="#222" stroke="#222" stroke-width="0.25">n=26</text>
<text x="170.90" y="605.40" font-size="8.8" text-anchor="start" font-weight="normal" fill="#222" stroke="#222" stroke-width="0.25">n=13</text>
<text x="170.90" y="618.95" font-size="8.8" text-anchor="start" font-weight="normal" fill="#222" stroke="#222" stroke-width="0.25">n=7</text>
<text x="170.90" y="632.50" font-size="8.8" text-anchor="start" font-weight="normal" fill="#222" stroke="#222" stroke-width="0.25">n=22</text>
<text x="170.90" y="646.05" font-size="8.8" text-anchor="start" font-weight="normal" fill="#222" stroke="#222" stroke-width="0.25">n=24</text>
<text x="170.90" y="659.60" font-size="8.8" text-anchor="start" font-weight="normal" fill="#222" stroke="#222" stroke-width="0.25">n=68</text>
<text x="215.30" y="522.90" font-size="13.0" text-anchor="start" font-weight="bold" fill="#000">F</text>
<line x1="256.30" y1="521.30" x2="256.30" y2="666.40" stroke="#222" stroke-width="1.4"/>
<line x1="250.70" y1="522.00" x2="256.30" y2="522.00" stroke="#222" stroke-width="1.4"/>
<text x="245.20" y="525.30" font-size="8.7" text-anchor="end" font-weight="normal" fill="#222" stroke="#222" stroke-width="0.25">100</text>
<line x1="250.70" y1="593.85" x2="256.30" y2="593.85" stroke="#222" stroke-width="1.4"/>
<text x="245.20" y="597.15" font-size="8.7" text-anchor="end" font-weight="normal" fill="#222" stroke="#222" stroke-width="0.25">50</text>
<line x1="250.70" y1="665.70" x2="256.30" y2="665.70" stroke="#222" stroke-width="1.4"/>
<text x="245.20" y="669.00" font-size="8.7" text-anchor="end" font-weight="normal" fill="#222" stroke="#222" stroke-width="0.25">0</text>
<line x1="255.60" y1="665.70" x2="352.30" y2="665.70" stroke="#222" stroke-width="1.4"/>
<line x1="275.10" y1="665.70" x2="275.10" y2="670.30" stroke="#222" stroke-width="1.4"/>
<text x="275.10" y="683.40" font-size="9.0" text-anchor="middle" font-weight="normal" fill="#222" stroke="#222" stroke-width="0.25">A</text>
<line x1="304.00" y1="665.70" x2="304.00" y2="670.30" stroke="#222" stroke-width="1.4"/>
<text x="304.00" y="683.40" font-size="9.0" text-anchor="middle" font-weight="normal" fill="#222" stroke="#222" stroke-width="0.25">B</text>
<line x1="332.60" y1="665.70" x2="332.60" y2="670.30" stroke="#222" stroke-width="1.4"/>
<text x="332.60" y="683.40" font-size="9.0" text-anchor="middle" font-weight="normal" fill="#222" stroke="#222" stroke-width="0.25">C</text>
<text x="230.80" y="593.90" font-size="9.3" text-anchor="middle" font-weight="normal" fill="#222" textLength="62.1" lengthAdjust="spacingAndGlyphs" transform="rotate(-90 230.8 593.9)" stroke="#222" stroke-width="0.25">Proportion (%)</text>
<rect x="266.40" y="522.50" width="17.20" height="58.18" fill="#fff" stroke="#f0643e" stroke-width="2.2"/>
<rect x="266.40" y="580.68" width="17.20" height="83.92" fill="#fff" stroke="#44c85a" stroke-width="2.2"/>
<text x="279.00" y="551.34" font-size="9.0" text-anchor="middle" font-weight="normal" fill="#222" textLength="26.4" lengthAdjust="spacingAndGlyphs" transform="rotate(-90 279.0 551.34)" stroke="#222" stroke-width="0.25">40.0%</text>
<text x="279.00" y="623.19" font-size="9.0" text-anchor="middle" font-weight="normal" fill="#222" textLength="26.4" lengthAdjust="spacingAndGlyphs" transform="rotate(-90 279.0 623.19)" stroke="#222" stroke-width="0.25">60.0%</text>
<rect x="295.20" y="522.50" width="17.10" height="87.64" fill="#fff" stroke="#f0643e" stroke-width="2.2"/>
<rect x="295.20" y="610.14" width="17.10" height="54.46" fill="#fff" stroke="#44c85a" stroke-width="2.2"/>
<text x="307.75" y="566.07" font-size="9.0" text-anchor="middle" font-weight="normal" fill="#222" textLength="26.4" lengthAdjust="spacingAndGlyphs" transform="rotate(-90 307.75 566.06925)" stroke="#222" stroke-width="0.25">60.5%</text>
<text x="307.75" y="637.92" font-size="9.0" text-anchor="middle" font-weight="normal" fill="#222" textLength="26.4" lengthAdjust="spacingAndGlyphs" transform="rotate(-90 307.75 637.91925)" stroke="#222" stroke-width="0.25">39.5%</text>
<rect x="324.40" y="522.50" width="16.80" height="103.30" fill="#fff" stroke="#f0643e" stroke-width="2.2"/>
<rect x="324.40" y="625.80" width="16.80" height="38.80" fill="#fff" stroke="#44c85a" stroke-width="2.2"/>
<text x="336.80" y="573.90" font-size="9.0" text-anchor="middle" font-weight="normal" fill="#222" textLength="26.4" lengthAdjust="spacingAndGlyphs" transform="rotate(-90 336.8 573.9009000000001)" stroke="#222" stroke-width="0.25">71.4%</text>
<text x="336.80" y="645.75" font-size="9.0" text-anchor="middle" font-weight="normal" fill="#222" textLength="26.4" lengthAdjust="spacingAndGlyphs" transform="rotate(-90 336.8 645.7509)" stroke="#222" stroke-width="0.25">28.6%</text>
<line x1="275.10" y1="518.70" x2="332.60" y2="518.70" stroke="#222" stroke-width="1.4"/>
<text x="304.60" y="521.30" font-size="14.5" text-anchor="middle" font-weight="bold" fill="#222">*</text>
<rect x="347.50" y="524.40" width="12.8" height="4.2" fill="#fff" stroke="#f0643e" stroke-width="2.2"/>
<rect x="347.50" y="538.60" width="12.8" height="4.2" fill="#fff" stroke="#44c85a" stroke-width="2.2"/>
<text x="365.70" y="529.60" font-size="8.6" text-anchor="start" font-weight="normal" fill="#222" textLength="77.1" lengthAdjust="spacingAndGlyphs" stroke="#222" stroke-width="0.25">DNAJC24-Positive</text>
<text x="365.70" y="543.80" font-size="8.6" text-anchor="start" font-weight="normal" fill="#222" textLength="79.5" lengthAdjust="spacingAndGlyphs" stroke="#222" stroke-width="0.25">DNAJC24-Negative</text>
<text x="346.40" y="558.90" font-size="8.6" text-anchor="start" font-weight="normal" fill="#222" textLength="81.6" lengthAdjust="spacingAndGlyphs" stroke="#222" stroke-width="0.25">A:3cm&gt;tumor size</text>
<text x="346.40" y="572.90" font-size="8.6" text-anchor="start" font-weight="normal" fill="#222" textLength="110.9" lengthAdjust="spacingAndGlyphs" stroke="#222" stroke-width="0.25">B:3cm≤tumor size&lt;10cm</text>
<text x="346.10" y="587.30" font-size="8.6" text-anchor="start" font-weight="normal" fill="#222" textLength="85.4" lengthAdjust="spacingAndGlyphs" stroke="#222" stroke-width="0.25">C:10cm≤tumor size</text>
<text x="457.50" y="522.90" font-size="13.0" text-anchor="start" font-weight="bold" fill="#000">G</text>
<line x1="496.60" y1="521.30" x2="496.60" y2="666.40" stroke="#222" stroke-width="1.4"/>
<line x1="491.00" y1="522.00" x2="496.60" y2="522.00" stroke="#222" stroke-width="1.4"/>
<text x="487.80" y="525.30" font-size="8.7" text-anchor="end" font-weight="normal" fill="#222" stroke="#222" stroke-width="0.25">100</text>
<line x1="491.00" y1="593.85" x2="496.60" y2="593.85" stroke="#222" stroke-width="1.4"/>
<text x="487.80" y="597.15" font-size="8.7" text-anchor="end" font-weight="normal" fill="#222" stroke="#222" stroke-width="0.25">50</text>
<line x1="491.00" y1="665.70" x2="496.60" y2="665.70" stroke="#222" stroke-width="1.4"/>
<text x="487.80" y="669.00" font-size="8.7" text-anchor="end" font-weight="normal" fill="#222" stroke="#222" stroke-width="0.25">0</text>
<line x1="495.90" y1="665.70" x2="589.80" y2="665.70" stroke="#222" stroke-width="1.4"/>
<line x1="521.70" y1="665.70" x2="521.70" y2="670.30" stroke="#222" stroke-width="1.4"/>
<text x="521.70" y="683.40" font-size="9.0" text-anchor="middle" font-weight="normal" fill="#222" stroke="#222" stroke-width="0.25">A</text>
<line x1="562.30" y1="665.70" x2="562.30" y2="670.30" stroke="#222" stroke-width="1.4"/>
<text x="562.30" y="683.40" font-size="9.0" text-anchor="middle" font-weight="normal" fill="#222" stroke="#222" stroke-width="0.25">B</text>
<text x="470.80" y="593.90" font-size="9.3" text-anchor="middle" font-weight="normal" fill="#222" textLength="62.1" lengthAdjust="spacingAndGlyphs" transform="rotate(-90 470.8 593.9)" stroke="#222" stroke-width="0.25">Proportion (%)</text>
<rect x="511.20" y="522.50" width="24.80" height="59.90" fill="#fff" stroke="#f0643e" stroke-width="2.2"/>
<rect x="511.20" y="582.40" width="24.80" height="82.20" fill="#fff" stroke="#44c85a" stroke-width="2.2"/>
<text x="527.60" y="552.20" font-size="9.0" text-anchor="middle" font-weight="normal" fill="#222" textLength="26.4" lengthAdjust="spacingAndGlyphs" transform="rotate(-90 527.6 552.2022000000001)" stroke="#222" stroke-width="0.25">41.2%</text>
<text x="527.60" y="624.05" font-size="9.0" text-anchor="middle" font-weight="normal" fill="#222" textLength="26.4" lengthAdjust="spacingAndGlyphs" transform="rotate(-90 527.6 624.0522000000001)" stroke="#222" stroke-width="0.25">58.8%</text>
<rect x="550.10" y="522.50" width="24.60" height="84.33" fill="#fff" stroke="#f0643e" stroke-width="2.2"/>
<rect x="550.10" y="606.83" width="24.60" height="57.77" fill="#fff" stroke="#44c85a" stroke-width="2.2"/>
<text x="566.40" y="564.42" font-size="9.0" text-anchor="middle" font-weight="normal" fill="#222" textLength="26.4" lengthAdjust="spacingAndGlyphs" transform="rotate(-90 566.4 564.4167)" stroke="#222" stroke-width="0.25">58.2%</text>
<text x="566.40" y="636.27" font-size="9.0" text-anchor="middle" font-weight="normal" fill="#222" textLength="26.4" lengthAdjust="spacingAndGlyphs" transform="rotate(-90 566.4 636.2667000000001)" stroke="#222" stroke-width="0.25">41.8%</text>
<line x1="524.00" y1="519.30" x2="564.10" y2="519.30" stroke="#222" stroke-width="1.4"/>
<text x="544.40" y="521.90" font-size="14.5" text-anchor="middle" font-weight="bold" fill="#222">*</text>
<rect x="580.60" y="524.40" width="12.8" height="4.2" fill="#fff" stroke="#f0643e" stroke-width="2.2"/>
<rect x="580.60" y="538.60" width="12.8" height="4.2" fill="#fff" stroke="#44c85a" stroke-width="2.2"/>
<text x="603.60" y="529.60" font-size="8.6" text-anchor="start" font-weight="normal" fill="#222" textLength="44.5" lengthAdjust="spacingAndGlyphs" stroke="#222" stroke-width="0.25">CD31-High</text>
<text x="603.60" y="544.00" font-size="8.6" text-anchor="start" font-weight="normal" fill="#222" textLength="44.0" lengthAdjust="spacingAndGlyphs" stroke="#222" stroke-width="0.25">CD31-Low</text>
<text x="579.80" y="558.50" font-size="8.6" text-anchor="start" font-weight="normal" fill="#222" textLength="94.4" lengthAdjust="spacingAndGlyphs" stroke="#222" stroke-width="0.25">A:DNAJC24-Negative</text>
<text x="579.80" y="573.40" font-size="8.6" text-anchor="start" font-weight="normal" fill="#222" textLength="91.6" lengthAdjust="spacingAndGlyphs" stroke="#222" stroke-width="0.25">B:DNAJC24-Positive</text>
<text x="0.80" y="698.70" font-size="12.8" text-anchor="start" font-weight="bold" fill="#000">H</text>
<rect x="35.6" y="693.5" width="208.40" height="156.20" fill="none" stroke="#222" stroke-width="1.5"/>
<line x1="30.10" y1="847.00" x2="35.60" y2="847.00" stroke="#222" stroke-width="1.4"/>
<text x="27.40" y="850.30" font-size="8.9" text-anchor="end" font-weight="normal" fill="#222" stroke="#222" stroke-width="0.25">0.0</text>
<line x1="30.10" y1="818.15" x2="35.60" y2="818.15" stroke="#222" stroke-width="1.4"/>
<text x="27.40" y="821.45" font-size="8.9" text-anchor="end" font-weight="normal" fill="#222" stroke="#222" stroke-width="0.25">0.2</text>
<line x1="30.10" y1="789.30" x2="35.60" y2="789.30" stroke="#222" stroke-width="1.4"/>
<text x="27.40" y="792.60" font-size="8.9" text-anchor="end" font-weight="normal" fill="#222" stroke="#222" stroke-width="0.25">0.4</text>
<line x1="30.10" y1="760.45" x2="35.60" y2="760.45" stroke="#222" stroke-width="1.4"/>
<text x="27.40" y="763.75" font-size="8.9" text-anchor="end" font-weight="normal" fill="#222" stroke="#222" stroke-width="0.25">0.6</text>
<line x1="30.10" y1="731.60" x2="35.60" y2="731.60" stroke="#222" stroke-width="1.4"/>
<text x="27.40" y="734.90" font-size="8.9" text-anchor="end" font-weight="normal" fill="#222" stroke="#222" stroke-width="0.25">0.8</text>
<line x1="30.10" y1="702.75" x2="35.60" y2="702.75" stroke="#222" stroke-width="1.4"/>
<text x="27.40" y="706.05" font-size="8.9" text-anchor="end" font-weight="normal" fill="#222" stroke="#222" stroke-width="0.25">1.0</text>
<line x1="35.80" y1="849.70" x2="35.80" y2="854.90" stroke="#222" stroke-width="1.4"/>
<text x="35.80" y="863.70" font-size="8.9" text-anchor="middle" font-weight="normal" fill="#222" stroke="#222" stroke-width="0.25">0</text>
<line x1="76.00" y1="849.70" x2="76.00" y2="854.90" stroke="#222" stroke-width="1.4"/>
<text x="76.00" y="863.70" font-size="8.9" text-anchor="middle" font-weight="normal" fill="#222" stroke="#222" stroke-width="0.25">20</text>
<line x1="116.20" y1="849.70" x2="116.20" y2="854.90" stroke="#222" stroke-width="1.4"/>
<text x="116.20" y="863.70" font-size="8.9" text-anchor="middle" font-weight="normal" fill="#222" stroke="#222" stroke-width="0.25">40</text>
<line x1="156.40" y1="849.70" x2="156.40" y2="854.90" stroke="#222" stroke-width="1.4"/>
<text x="156.40" y="863.70" font-size="8.9" text-anchor="middle" font-weight="normal" fill="#222" stroke="#222" stroke-width="0.25">60</text>
<line x1="196.60" y1="849.70" x2="196.60" y2="854.90" stroke="#222" stroke-width="1.4"/>
<text x="196.60" y="863.70" font-size="8.9" text-anchor="middle" font-weight="normal" fill="#222" stroke="#222" stroke-width="0.25">80</text>
<line x1="236.80" y1="849.70" x2="236.80" y2="854.90" stroke="#222" stroke-width="1.4"/>
<text x="236.80" y="863.70" font-size="8.9" text-anchor="middle" font-weight="normal" fill="#222" stroke="#222" stroke-width="0.25">100</text>
<text x="136.00" y="875.60" font-size="9.2" text-anchor="middle" font-weight="bold" fill="#222">Months</text>
<text x="12.80" y="775.70" font-size="9.8" text-anchor="middle" font-weight="normal" fill="#222" textLength="119.0" lengthAdjust="spacingAndGlyphs" transform="rotate(-90 12.8 775.7)" stroke="#222" stroke-width="0.25">Recurrence-free survival</text>
<path d="M35.90,699.00H36.95V702.50H38.00H38.75V708.00H39.50H40.00V713.00H40.50H40.85V718.30H41.20H42.50V725.30H43.80H46.90V735.80H48.40V736.70H49.90H51.20V742.80H52.50H56.00V747.20H59.50V755.00H59.95V760.30H60.40H69.20V760.70H72.70V769.10H80.60V770.00H87.60V772.60H92.80V775.20H98.10V777.80H110.30V780.40H111.20V782.20H112.10H120.00V783.50H127.90V784.40H128.35V787.00H128.80H134.00V787.90H134.90V789.60H135.80H139.30V792.30H140.60V794.00H141.90H149.80V794.00H150.20V796.60H150.60H156.80V798.40H208.40V798.40" fill="none" stroke="#4d9fd2" stroke-width="1.7"/>
<path d="M35.90,699.00H37.20V702.50H38.50H39.85V711.30H41.20H42.50V718.30H43.80H45.10V727.00H46.40H48.20V737.50H49.90V749.80H51.20V755.90H52.50H57.80V756.80H59.10V760.30H60.40H64.80V763.80H68.30V770.80H71.80V779.60H72.70V785.30H73.60H77.10V788.80H80.60V790.50H84.10V794.90H87.60V797.50H91.10V800.10H96.30V801.00H97.20V807.10H98.10H103.30V808.00H106.80V810.60H112.10V813.30H120.00V815.90H130.50V817.70H141.00V818.50H141.90V822.00H142.80H235.60V822.00" fill="none" stroke="#d7364c" stroke-width="1.7"/>
<path d="M156.80,796.10V800.70M155.30,798.40H158.30M161.20,796.10V800.70M159.70,798.40H162.70M169.90,796.10V800.70M168.40,798.40H171.40M171.70,796.10V800.70M170.20,798.40H173.20M173.40,796.10V800.70M171.90,798.40H174.90M175.20,796.10V800.70M173.70,798.40H176.70M176.90,796.10V800.70M175.40,798.40H178.40M178.70,796.10V800.70M177.20,798.40H180.20M183.00,796.10V800.70M181.50,798.40H184.50M184.80,796.10V800.70M183.30,798.40H186.30M186.50,796.10V800.70M185.00,798.40H188.00M188.30,796.10V800.70M186.80,798.40H189.80M205.80,796.10V800.70M204.30,798.40H207.30M208.40,796.10V800.70M206.90,798.40H209.90" stroke="#4d9fd2" stroke-width="1.3" fill="none"/>
<path d="M131.40,815.40V820.00M129.90,817.70H132.90M158.50,819.70V824.30M157.00,822.00H160.00M162.00,819.70V824.30M160.50,822.00H163.50M169.00,819.70V824.30M167.50,822.00H170.50M174.30,819.70V824.30M172.80,822.00H175.80M180.40,819.70V824.30M178.90,822.00H181.90M183.90,819.70V824.30M182.40,822.00H185.40M186.50,819.70V824.30M185.00,822.00H188.00M195.30,819.70V824.30M193.80,822.00H196.80M200.60,819.70V824.30M199.10,822.00H202.10M235.60,819.70V824.30M234.10,822.00H237.10" stroke="#d7364c" stroke-width="1.3" fill="none"/>
<text x="147.70" y="703.50" font-size="8.9" text-anchor="start" font-weight="normal" fill="#222" textLength="91.9" lengthAdjust="spacingAndGlyphs" stroke="#222" stroke-width="0.25">DNAJC24 expression</text>
<path d="M146.1,712.7h4.6v-2.0h4.6" stroke="#4d9fd2" stroke-width="1.5" fill="none"/>
<path d="M146.1,722.2h4.6v-2.0h4.6" stroke="#d7364c" stroke-width="1.5" fill="none"/>
<path d="M145.6,729.9h10.0M150.7,727.4v5.0" stroke="#4d9fd2" stroke-width="1.5" fill="none"/>
<path d="M145.6,739.8h10.0M150.7,737.3v5.0" stroke="#d7364c" stroke-width="1.5" fill="none"/>
<text x="157.60" y="714.70" font-size="8.9" text-anchor="start" font-weight="normal" fill="#222" textLength="68.2" lengthAdjust="spacingAndGlyphs" stroke="#222" stroke-width="0.25">Low expression</text>
<text x="157.60" y="724.20" font-size="8.9" text-anchor="start" font-weight="normal" fill="#222" textLength="70.5" lengthAdjust="spacingAndGlyphs" stroke="#222" stroke-width="0.25">High expression</text>
<text x="157.60" y="733.70" font-size="8.9" text-anchor="start" font-weight="normal" fill="#222" textLength="61.3" lengthAdjust="spacingAndGlyphs" stroke="#222" stroke-width="0.25">Low-censored</text>
<text x="157.60" y="743.30" font-size="8.9" text-anchor="start" font-weight="normal" fill="#222" textLength="63.3" lengthAdjust="spacingAndGlyphs" stroke="#222" stroke-width="0.25">High-censored</text>
<text x="157.60" y="753.30" font-size="8.9" text-anchor="start" font-weight="normal" fill="#222" textLength="72.1" lengthAdjust="spacingAndGlyphs" stroke="#222" stroke-width="0.25">Logrank <tspan font-style="italic">P</tspan>=0.028</text>
<text x="157.60" y="765.10" font-size="8.9" text-anchor="start" font-weight="normal" fill="#222" textLength="45.5" lengthAdjust="spacingAndGlyphs" stroke="#222" stroke-width="0.25">n(high)=99</text>
<text x="157.60" y="776.30" font-size="8.9" text-anchor="start" font-weight="normal" fill="#222" textLength="41.4" lengthAdjust="spacingAndGlyphs" stroke="#222" stroke-width="0.25">n(low)=68</text>
<text x="247.60" y="698.70" font-size="12.8" text-anchor="start" font-weight="bold" fill="#000">I</text>
<rect x="278.6" y="693.5" width="215.90" height="156.20" fill="none" stroke="#222" stroke-width="1.5"/>
<line x1="273.10" y1="847.00" x2="278.60" y2="847.00" stroke="#222" stroke-width="1.4"/>
<text x="270.40" y="850.30" font-size="8.9" text-anchor="end" font-weight="normal" fill="#222" stroke="#222" stroke-width="0.25">0.0</text>
<line x1="273.10" y1="818.15" x2="278.60" y2="818.15" stroke="#222" stroke-width="1.4"/>
<text x="270.40" y="821.45" font-size="8.9" text-anchor="end" font-weight="normal" fill="#222" stroke="#222" stroke-width="0.25">0.2</text>
<line x1="273.10" y1="789.30" x2="278.60" y2="789.30" stroke="#222" stroke-width="1.4"/>
<text x="270.40" y="792.60" font-size="8.9" text-anchor="end" font-weight="normal" fill="#222" stroke="#222" stroke-width="0.25">0.4</text>
<line x1="273.10" y1="760.45" x2="278.60" y2="760.45" stroke="#222" stroke-width="1.4"/>
<text x="270.40" y="763.75" font-size="8.9" text-anchor="end" font-weight="normal" fill="#222" stroke="#222" stroke-width="0.25">0.6</text>
<line x1="273.10" y1="731.60" x2="278.60" y2="731.60" stroke="#222" stroke-width="1.4"/>
<text x="270.40" y="734.90" font-size="8.9" text-anchor="end" font-weight="normal" fill="#222" stroke="#222" stroke-width="0.25">0.8</text>
<line x1="273.10" y1="702.75" x2="278.60" y2="702.75" stroke="#222" stroke-width="1.4"/>
<text x="270.40" y="706.05" font-size="8.9" text-anchor="end" font-weight="normal" fill="#222" stroke="#222" stroke-width="0.25">1.0</text>
<line x1="278.80" y1="849.70" x2="278.80" y2="854.90" stroke="#222" stroke-width="1.4"/>
<text x="278.80" y="863.70" font-size="8.9" text-anchor="middle" font-weight="normal" fill="#222" stroke="#222" stroke-width="0.25">0</text>
<line x1="320.42" y1="849.70" x2="320.42" y2="854.90" stroke="#222" stroke-width="1.4"/>
<text x="320.42" y="863.70" font-size="8.9" text-anchor="middle" font-weight="normal" fill="#222" stroke="#222" stroke-width="0.25">20</text>
<line x1="362.04" y1="849.70" x2="362.04" y2="854.90" stroke="#222" stroke-width="1.4"/>
<text x="362.04" y="863.70" font-size="8.9" text-anchor="middle" font-weight="normal" fill="#222" stroke="#222" stroke-width="0.25">40</text>
<line x1="403.66" y1="849.70" x2="403.66" y2="854.90" stroke="#222" stroke-width="1.4"/>
<text x="403.66" y="863.70" font-size="8.9" text-anchor="middle" font-weight="normal" fill="#222" stroke="#222" stroke-width="0.25">60</text>
<line x1="445.28" y1="849.70" x2="445.28" y2="854.90" stroke="#222" stroke-width="1.4"/>
<text x="445.28" y="863.70" font-size="8.9" text-anchor="middle" font-weight="normal" fill="#222" stroke="#222" stroke-width="0.25">80</text>
<line x1="486.90" y1="849.70" x2="486.90" y2="854.90" stroke="#222" stroke-width="1.4"/>
<text x="486.90" y="863.70" font-size="8.9" text-anchor="middle" font-weight="normal" fill="#222" stroke="#222" stroke-width="0.25">100</text>
<text x="383.50" y="875.60" font-size="9.2" text-anchor="middle" font-weight="bold" fill="#222">Months</text>
<text x="256.30" y="772.20" font-size="9.8" text-anchor="middle" font-weight="normal" fill="#222" textLength="67.9" lengthAdjust="spacingAndGlyphs" transform="rotate(-90 256.3 772.2)" stroke="#222" stroke-width="0.25">Overall survival</text>
<path d="M278.90,698.40H289.90V698.40H290.75V701.40H291.60H292.95V704.90H294.30H295.60V711.00H296.90H297.35V713.60H297.80H306.50V713.60H307.40V716.30H308.30H309.15V718.90H310.00H311.05V726.80H312.10H317.90V727.10H318.35V728.90H318.80H325.80V729.40H326.25V733.40H326.70H332.80V734.10H334.10V736.40H335.40H336.30V740.80H337.20H338.05V746.00H338.90H339.80V750.40H340.70H342.00V753.00H343.30H349.40V753.90H349.85V756.20H350.30H355.60V756.50H359.10V759.20H359.50V760.20H359.90H376.60V760.20H377.05V763.10H377.50H378.20V766.60H378.90H385.40V767.50H385.85V769.30H386.30H391.50V770.70H391.95V771.40H392.40H396.80V771.90H397.65V775.40H398.50H399.40V780.60H400.30H400.75V783.30H401.20H473.80V783.30" fill="none" stroke="#4d9fd2" stroke-width="1.7"/>
<path d="M278.90,698.40H282.00V700.50H282.90V704.90H283.80H287.30V707.50H291.60V711.00H295.10V712.80H296.45V715.40H297.80H301.30V718.90H305.60V723.30H306.95V728.50H308.30H309.60V734.70H310.90H314.40V736.40H315.70V739.00H317.00H317.90V742.50H318.80H322.30V743.40H323.15V747.80H324.00H331.00V748.70H331.90V751.30H332.80H334.10V756.50H335.40H336.30V763.60H337.20H338.05V765.30H338.90H340.20V767.10H341.50H342.40V769.70H343.30H348.60V770.60H354.70V771.40H356.00V776.70H357.30H360.80V779.30H361.30V781.50H361.80H365.30V791.20H373.10V791.20H379.30V792.00H380.15V794.70H381.00H381.90V797.30H382.80H386.30V798.20H389.80V800.80H390.65V806.40H391.50H400.30V806.90H401.15V808.70H402.00H406.40V810.40H407.70V812.20H409.00H485.00V812.20" fill="none" stroke="#d7364c" stroke-width="1.7"/>
<path d="M405.50,781.00V785.60M404.00,783.30H407.00M408.20,781.00V785.60M406.70,783.30H409.70M416.90,781.00V785.60M415.40,783.30H418.40M419.50,781.00V785.60M418.00,783.30H421.00M422.20,781.00V785.60M420.70,783.30H423.70M423.90,781.00V785.60M422.40,783.30H425.40M425.70,781.00V785.60M424.20,783.30H427.20M430.90,781.00V785.60M429.40,783.30H432.40M432.70,781.00V785.60M431.20,783.30H434.20M435.30,781.00V785.60M433.80,783.30H436.80M454.60,781.00V785.60M453.10,783.30H456.10M456.30,781.00V785.60M454.80,783.30H457.80M466.80,781.00V785.60M465.30,783.30H468.30M473.00,781.00V785.60M471.50,783.30H474.50" stroke="#4d9fd2" stroke-width="1.3" fill="none"/>
<path d="M374.00,788.90V793.50M372.50,791.20H375.50M376.60,788.90V793.50M375.10,791.20H378.10M378.40,788.90V793.50M376.90,791.20H379.90M386.30,795.90V800.50M384.80,798.20H387.80M406.40,808.10V812.70M404.90,810.40H407.90M409.00,809.90V814.50M407.50,812.20H410.50M416.90,809.90V814.50M415.40,812.20H418.40M422.20,809.90V814.50M420.70,812.20H423.70M427.40,809.90V814.50M425.90,812.20H428.90M430.00,809.90V814.50M428.50,812.20H431.50M432.70,809.90V814.50M431.20,812.20H434.20M435.30,809.90V814.50M433.80,812.20H436.80M443.20,809.90V814.50M441.70,812.20H444.70M449.30,809.90V814.50M447.80,812.20H450.80M455.40,809.90V814.50M453.90,812.20H456.90M466.80,809.90V814.50M465.30,812.20H468.30M485.00,809.90V814.50M483.50,812.20H486.50" stroke="#d7364c" stroke-width="1.3" fill="none"/>
<text x="399.40" y="703.50" font-size="8.9" text-anchor="start" font-weight="normal" fill="#222" textLength="91.9" lengthAdjust="spacingAndGlyphs" stroke="#222" stroke-width="0.25">DNAJC24 expression</text>
<path d="M397.8,712.7h4.6v-2.0h4.6" stroke="#4d9fd2" stroke-width="1.5" fill="none"/>
<path d="M397.8,722.2h4.6v-2.0h4.6" stroke="#d7364c" stroke-width="1.5" fill="none"/>
<path d="M397.3,729.9h10.0M402.4,727.4v5.0" stroke="#4d9fd2" stroke-width="1.5" fill="none"/>
<path d="M397.3,739.8h10.0M402.4,737.3v5.0" stroke="#d7364c" stroke-width="1.5" fill="none"/>
<text x="409.30" y="714.70" font-size="8.9" text-anchor="start" font-weight="normal" fill="#222" textLength="68.2" lengthAdjust="spacingAndGlyphs" stroke="#222" stroke-width="0.25">Low expression</text>
<text x="409.30" y="724.20" font-size="8.9" text-anchor="start" font-weight="normal" fill="#222" textLength="70.5" lengthAdjust="spacingAndGlyphs" stroke="#222" stroke-width="0.25">High expression</text>
<text x="409.30" y="733.70" font-size="8.9" text-anchor="start" font-weight="normal" fill="#222" textLength="61.3" lengthAdjust="spacingAndGlyphs" stroke="#222" stroke-width="0.25">Low-censored</text>
<text x="409.30" y="743.30" font-size="8.9" text-anchor="start" font-weight="normal" fill="#222" textLength="63.3" lengthAdjust="spacingAndGlyphs" stroke="#222" stroke-width="0.25">High-censored</text>
<text x="409.30" y="753.30" font-size="8.9" text-anchor="start" font-weight="normal" fill="#222" textLength="70.5" lengthAdjust="spacingAndGlyphs" stroke="#222" stroke-width="0.25">Logrank <tspan font-style="italic">P</tspan>=0.011</text>
<text x="409.30" y="765.10" font-size="8.9" text-anchor="start" font-weight="normal" fill="#222" textLength="45.5" lengthAdjust="spacingAndGlyphs" stroke="#222" stroke-width="0.25">n(high)=99</text>
<text x="409.30" y="776.30" font-size="8.9" text-anchor="start" font-weight="normal" fill="#222" textLength="41.4" lengthAdjust="spacingAndGlyphs" stroke="#222" stroke-width="0.25">n(low)=68</text>
<text x="497.60" y="698.50" font-size="12.8" text-anchor="start" font-weight="bold" fill="#000">J</text>
<line x1="540.30" y1="690.00" x2="540.30" y2="848.80" stroke="#333" stroke-width="1.4"/>
<line x1="536.30" y1="847.20" x2="540.30" y2="847.20" stroke="#333" stroke-width="1.3"/>
<text x="534.00" y="850.40" font-size="8.8" text-anchor="end" font-weight="normal" fill="#222" stroke="#222" stroke-width="0.25">0.0</text>
<line x1="536.30" y1="810.20" x2="540.30" y2="810.20" stroke="#333" stroke-width="1.3"/>
<text x="534.00" y="813.40" font-size="8.8" text-anchor="end" font-weight="normal" fill="#222" stroke="#222" stroke-width="0.25">0.5</text>
<line x1="536.30" y1="773.20" x2="540.30" y2="773.20" stroke="#333" stroke-width="1.3"/>
<text x="534.00" y="776.40" font-size="8.8" text-anchor="end" font-weight="normal" fill="#222" stroke="#222" stroke-width="0.25">1.0</text>
<line x1="536.30" y1="736.20" x2="540.30" y2="736.20" stroke="#333" stroke-width="1.3"/>
<text x="534.00" y="739.40" font-size="8.8" text-anchor="end" font-weight="normal" fill="#222" stroke="#222" stroke-width="0.25">1.5</text>
<line x1="536.30" y1="699.20" x2="540.30" y2="699.20" stroke="#333" stroke-width="1.3"/>
<text x="534.00" y="702.40" font-size="8.8" text-anchor="end" font-weight="normal" fill="#222" stroke="#222" stroke-width="0.25">2.0</text>
<line x1="539.60" y1="848.40" x2="685.00" y2="848.40" stroke="#333" stroke-width="1.4"/>
<line x1="560.30" y1="848.40" x2="560.30" y2="852.00" stroke="#333" stroke-width="1.3"/>
<text x="560.30" y="862.00" font-size="8.6" text-anchor="middle" font-weight="bold" fill="#222">Normal</text>
<text x="560.30" y="874.60" font-size="8.6" text-anchor="middle" font-weight="bold" fill="#222">(n=50)</text>
<line x1="595.30" y1="848.40" x2="595.30" y2="852.00" stroke="#333" stroke-width="1.3"/>
<text x="595.30" y="862.00" font-size="8.6" text-anchor="middle" font-weight="bold" fill="#222">Stage I</text>
<text x="595.30" y="874.60" font-size="8.6" text-anchor="middle" font-weight="bold" fill="#222">(n=173)</text>
<line x1="629.80" y1="848.40" x2="629.80" y2="852.00" stroke="#333" stroke-width="1.3"/>
<text x="629.80" y="862.00" font-size="8.6" text-anchor="middle" font-weight="bold" fill="#222">Stage II</text>
<text x="629.80" y="874.60" font-size="8.6" text-anchor="middle" font-weight="bold" fill="#222">(n=87)</text>
<line x1="664.20" y1="848.40" x2="664.20" y2="852.00" stroke="#333" stroke-width="1.3"/>
<text x="664.20" y="862.00" font-size="8.6" text-anchor="middle" font-weight="bold" fill="#222">Stage III</text>
<text x="664.20" y="874.60" font-size="8.6" text-anchor="middle" font-weight="bold" fill="#222">(n=85)</text>
<text x="508.20" y="762.70" font-size="9.0" text-anchor="middle" font-weight="normal" fill="#222" textLength="87.1" lengthAdjust="spacingAndGlyphs" transform="rotate(-90 508.2 762.7)" stroke="#222" stroke-width="0.25">DNAJC24 expression</text>
<text x="517.6" y="767.5" font-size="9.0" text-anchor="middle" fill="#222" stroke="#222" stroke-width="0.25" textLength="59.9" lengthAdjust="spacingAndGlyphs" transform="rotate(-90 517.6 767.5)">Log<tspan font-size="6.5" dy="1.8">2</tspan><tspan dy="-1.8"> (FPKM+1)</tspan></text>
<line x1="560.55" y1="793.70" x2="560.55" y2="805.40" stroke="#222" stroke-width="1.5"/>
<line x1="560.55" y1="814.60" x2="560.55" y2="826.60" stroke="#222" stroke-width="1.5"/>
<rect x="546.5" y="805.4" width="28.10" height="9.20" fill="#4cbde6" stroke="#333" stroke-width="1.2"/>
<line x1="546.50" y1="810.10" x2="574.60" y2="810.10" stroke="#111" stroke-width="2.2"/>
<circle cx="560.55" cy="831.5" r="1.0" fill="#999"/>
<circle cx="560.55" cy="839.5" r="1.0" fill="#999"/>
<line x1="594.95" y1="750.80" x2="594.95" y2="784.40" stroke="#222" stroke-width="1.5"/>
<line x1="594.95" y1="810.80" x2="594.95" y2="840.00" stroke="#222" stroke-width="1.5"/>
<rect x="581.2" y="784.4" width="27.50" height="26.40" fill="#e76b4c" stroke="#333" stroke-width="1.2"/>
<line x1="581.20" y1="799.80" x2="608.70" y2="799.80" stroke="#111" stroke-width="2.2"/>
<circle cx="594.95" cy="741.0" r="1.0" fill="#999"/>
<line x1="629.70" y1="745.00" x2="629.70" y2="783.20" stroke="#222" stroke-width="1.5"/>
<line x1="629.70" y1="817.60" x2="629.70" y2="837.70" stroke="#222" stroke-width="1.5"/>
<rect x="615.7" y="783.2" width="28.00" height="34.40" fill="#12ab9c" stroke="#333" stroke-width="1.2"/>
<line x1="615.70" y1="797.00" x2="643.70" y2="797.00" stroke="#111" stroke-width="2.2"/>
<line x1="664.00" y1="740.70" x2="664.00" y2="780.40" stroke="#222" stroke-width="1.5"/>
<line x1="664.00" y1="808.10" x2="664.00" y2="841.40" stroke="#222" stroke-width="1.5"/>
<rect x="650.3" y="780.4" width="27.40" height="27.70" fill="#3f6a9c" stroke="#333" stroke-width="1.2"/>
<line x1="650.30" y1="795.00" x2="677.70" y2="795.00" stroke="#111" stroke-width="2.2"/>
<circle cx="664.0" cy="696.6" r="1.0" fill="#999"/>
<circle cx="664.0" cy="720.2" r="1.0" fill="#999"/>
<circle cx="560.3" cy="831.5" r="1.3" fill="#aaa"/><circle cx="560.3" cy="839.5" r="1.3" fill="#aaa"/>
<line x1="560.20" y1="738.10" x2="595.20" y2="738.10" stroke="#222" stroke-width="1.5"/>
<line x1="560.20" y1="725.80" x2="630.20" y2="725.80" stroke="#222" stroke-width="1.5"/>
<line x1="560.20" y1="713.60" x2="664.60" y2="713.60" stroke="#222" stroke-width="1.5"/>
<text x="578.0" y="735.6" font-size="9.0" text-anchor="middle" font-weight="bold" fill="#222" textLength="39.0" lengthAdjust="spacingAndGlyphs"><tspan font-style="italic">P</tspan> &lt; 0.001</text>
<text x="594.9" y="723.4" font-size="9.0" text-anchor="middle" font-weight="bold" fill="#222" textLength="39.0" lengthAdjust="spacingAndGlyphs"><tspan font-style="italic">P</tspan> &lt; 0.001</text>
<text x="612.0" y="711.3" font-size="9.0" text-anchor="middle" font-weight="bold" fill="#222" textLength="39.0" lengthAdjust="spacingAndGlyphs"><tspan font-style="italic">P</tspan> &lt; 0.001</text>
</svg>
</body></html>
